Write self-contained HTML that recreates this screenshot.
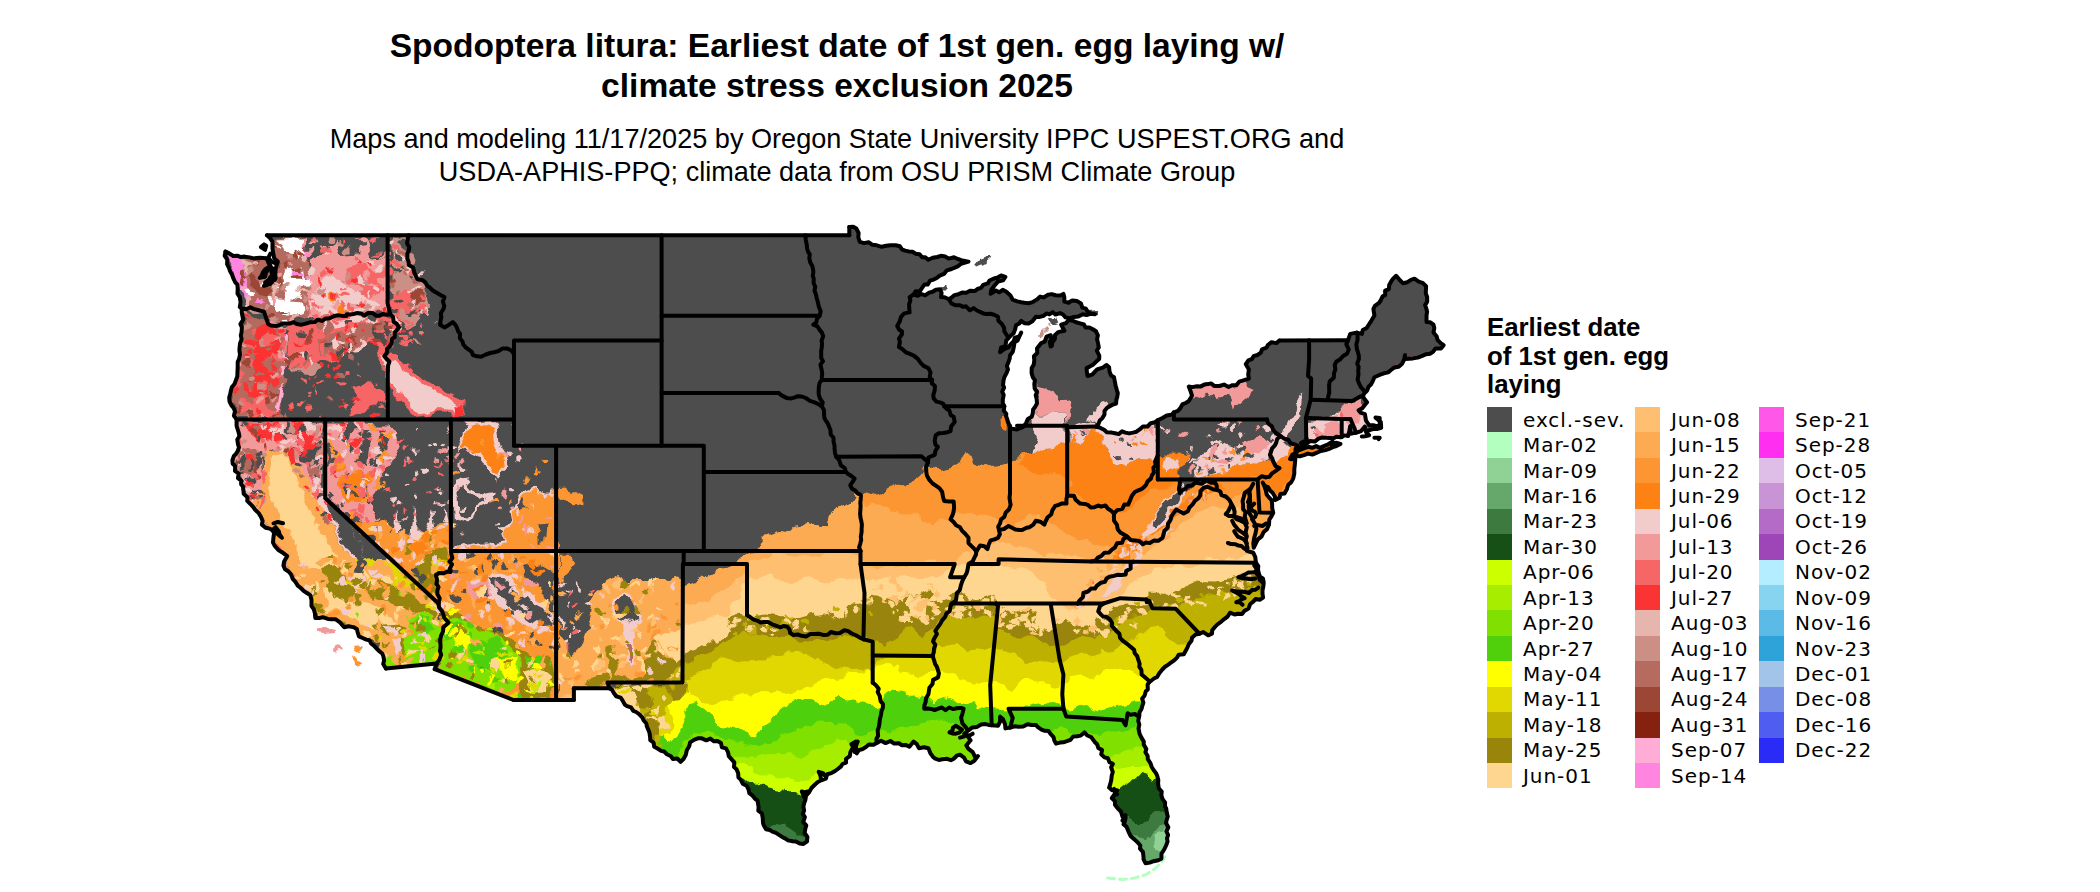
<!DOCTYPE html><html><head><meta charset="utf-8"><title>Spodoptera litura</title>
<style>html,body{margin:0;padding:0;background:#fff}body{width:2100px;height:892px;overflow:hidden;position:relative;font-family:"Liberation Sans",sans-serif}svg{position:absolute;left:0;top:0}</style></head><body>
<svg width="2100" height="892" viewBox="0 0 2100 892">
<defs><clipPath id="us"><polygon points="225.5,251.6 240.8,257.1 253.5,258.4 259.8,257.7 266.6,258.2 269.3,264.2 271.4,272.1 273.5,280.0 264.0,285.8 270.4,284.0 275.6,278.7 275.6,269.5 277.8,261.6 273.5,255.0 272.5,248.5 272.5,241.9 267.0,235.3 849.3,235.3 849.3,227.1 856.3,228.5 859.8,241.9 876.7,245.3 886.2,245.8 895.7,245.3 905.2,250.6 915.7,253.7 928.4,259.8 941.0,255.8 957.9,259.0 968.5,261.6 951.6,269.0 936.8,277.9 922.1,287.9 913.6,294.5 917.8,295.8 932.6,291.8 940.0,289.2 941.0,297.1 949.0,299.2 962.1,292.6 974.8,291.1 981.1,287.9 989.5,280.5 1001.1,275.5 1005.4,276.9 994.8,285.3 990.6,293.7 995.9,290.5 1006.4,291.8 1012.7,299.7 1028.6,303.2 1040.2,296.6 1063.4,293.9 1064.4,301.6 1077.1,301.1 1082.3,307.6 1095.0,314.2 1086.6,315.0 1069.7,318.1 1052.8,312.1 1035.9,316.8 1028.6,323.4 1021.2,320.8 1008.5,337.9 1000.1,352.3 1010.6,344.4 1021.2,332.6 1013.8,347.1 1009.6,358.9 1006.4,373.4 1002.2,391.8 1004.3,406.2 1008.5,423.3 1010.6,428.6 1017.0,429.4 1023.3,426.8 1031.7,416.8 1037.0,403.6 1037.0,391.8 1032.8,377.3 1031.7,368.1 1037.0,348.4 1041.2,343.1 1050.7,335.2 1050.7,346.5 1054.9,335.2 1058.1,332.1 1064.4,330.8 1061.2,324.7 1068.6,320.0 1080.2,323.4 1096.0,331.3 1097.1,339.2 1099.2,358.9 1086.6,368.1 1087.6,376.0 1097.1,369.4 1106.6,365.0 1114.0,377.3 1117.8,393.1 1116.1,403.6 1104.5,411.0 1102.4,418.1 1096.0,426.8 1111.9,432.6 1133.0,432.6 1157.8,420.2 1166.7,415.5 1173.9,412.3 1188.8,401.0 1192.0,395.7 1188.8,386.5 1211.0,383.4 1219.4,386.0 1236.3,385.2 1242.6,380.7 1248.9,378.6 1248.9,369.4 1245.8,364.2 1257.4,355.0 1267.9,345.0 1279.5,340.5 1348.1,340.2 1350.2,333.9 1356.5,332.6 1361.8,333.9 1362.8,330.0 1371.3,320.8 1374.4,315.5 1373.4,308.9 1378.7,303.2 1396.2,275.8 1399.7,280.0 1402.9,283.2 1414.5,278.7 1426.1,286.1 1426.5,315.5 1426.5,322.1 1433.5,324.7 1433.5,332.6 1436.7,336.6 1443.6,345.2 1430.3,353.7 1417.7,357.6 1405.0,358.9 1405.0,355.0 1398.7,366.8 1383.9,373.4 1374.4,377.3 1367.1,390.5 1362.8,396.5 1367.1,402.3 1358.6,410.2 1364.9,414.1 1366.0,420.7 1369.2,425.2 1379.7,424.7 1379.7,418.1 1375.5,417.6 1380.8,422.0 1381.2,427.8 1373.4,429.1 1366.0,432.0 1364.9,426.5 1356.5,432.6 1350.2,433.9 1350.2,426.0 1348.1,436.0 1340.5,437.3 1318.5,438.6 1302.7,445.7 1297.5,449.6 1295.3,453.6 1290.1,458.9 1295.3,459.6 1294.3,469.4 1293.2,478.6 1286.9,489.1 1275.3,500.1 1270.0,490.4 1262.7,482.5 1265.8,490.4 1272.1,503.6 1273.2,512.8 1269.0,524.6 1261.6,536.4 1253.8,547.7 1253.2,552.7 1255.9,562.7 1263.7,582.5 1263.1,597.5 1253.2,601.7 1242.0,614.0 1230.0,612.7 1217.3,624.5 1212.0,633.7 1199.4,633.7 1192.0,637.7 1185.7,650.8 1170.9,662.7 1159.3,673.2 1154.0,678.5 1149.8,681.6 1144.6,695.5 1139.3,716.1 1139.3,724.5 1141.4,737.6 1147.7,756.0 1157.2,775.8 1161.4,795.5 1167.8,816.5 1166.1,845.5 1161.4,858.6 1149.8,862.6 1145.6,863.3 1140.3,845.5 1130.8,836.3 1126.6,827.0 1122.4,816.5 1115.0,804.7 1111.9,798.1 1117.1,790.2 1109.1,787.6 1112.9,763.9 1104.5,757.4 1097.1,744.2 1084.4,732.4 1077.1,736.3 1056.0,743.7 1048.6,731.1 1031.7,725.0 1014.9,726.3 1010.2,727.6 1005.4,728.4 1000.1,716.6 998.0,725.8 991.7,725.3 981.1,724.5 968.5,730.3 964.2,733.7 970.6,740.3 966.3,745.5 975.8,758.7 977.9,756.0 970.6,763.1 960.0,754.7 953.7,758.7 938.9,760.0 930.5,753.4 928.4,748.2 918.9,748.2 913.6,741.6 909.4,746.8 890.4,741.0 876.7,742.9 866.2,746.8 856.7,753.4 857.7,741.6 852.5,748.2 846.1,762.6 831.4,773.1 814.5,785.0 806.1,795.5 802.9,813.9 807.1,840.2 807.1,841.3 799.7,843.6 785.0,838.4 766.0,829.2 758.6,807.3 757.6,800.8 740.7,779.7 736.5,769.2 728.0,752.1 717.5,741.0 698.5,738.2 690.1,742.4 685.8,754.7 680.6,761.8 666.9,754.2 654.2,746.8 643.7,720.5 631.0,707.4 616.2,696.3 609.5,688.2 573.9,688.2 573.9,700.0 513.5,700.0 434.7,669.2 436.6,663.5 385.9,668.5 383.2,664.0 382.2,653.5 369.5,640.3 359.0,636.4 356.8,629.0 344.2,627.2 340.0,622.4 331.5,619.3 315.3,618.0 311.5,606.1 311.5,599.6 306.9,593.0 297.8,585.6 285.1,569.3 284.1,561.4 287.2,556.2 282.0,552.2 274.6,545.6 272.5,530.4 261.9,524.6 260.9,516.7 247.2,500.9 232.4,460.2 237.7,451.0 238.7,432.6 236.6,426.0 236.6,419.4 229.2,397.6 234.5,383.9 237.7,366.8 239.4,350.2 241.9,327.4 241.9,308.9 239.8,307.1 239.8,297.1 237.7,289.2 233.5,278.7 227.1,264.2"/><polygon points="1294.5,456.2 1300.6,456.2 1316.4,452.8 1329.1,448.9 1340.5,443.9 1331.2,444.4 1332.7,441.5 1323.8,446.2 1312.2,447.8 1301.7,449.1 1297.5,451.0"/></clipPath>
<filter id="rough" x="0" y="0" width="2100" height="892" filterUnits="userSpaceOnUse"><feTurbulence type="fractalNoise" baseFrequency="0.06" numOctaves="3" seed="7" result="n"/><feDisplacementMap in="SourceGraphic" in2="n" scale="14" xChannelSelector="R" yChannelSelector="G"/></filter>
</defs>
<g clip-path="url(#us)"><g filter="url(#rough)">
<rect x="150" y="150" width="1400" height="800" fill="#4d4d4d"/>
<polygon fill="#FC9633" points="683.5,587.0 697.0,581.4 710.4,574.7 726.1,568.0 737.3,563.5 741.8,556.8 758.6,550.0 760.9,541.1 766.5,534.3 777.7,531.0 788.9,532.1 795.6,524.3 809.1,522.0 824.8,525.4 827.0,514.2 838.2,508.6 851.7,503.0 858.4,491.7 874.1,495.1 889.8,489.5 903.2,483.9 918.9,476.1 925.7,464.8 929.1,467.4 940.4,469.7 960.5,465.2 966.1,454.0 976.2,461.8 989.7,466.3 1008.7,464.1 1014.3,459.6 1032.3,455.1 1043.5,449.5 1057.0,447.3 1065.9,442.8 1070.4,445.0 1079.4,443.9 1090.6,430.4 1102.9,434.9 1109.6,456.2 1115.2,465.2 1126.5,464.1 1137.7,460.7 1153.4,461.8 1155.6,455.1 1160.1,454.0 1159.4,451.6 1178.5,451.6 1189.7,453.8 1185.2,465.0 1178.5,471.7 1178.5,489.7 1189.7,487.4 1198.7,474.0 1203.1,476.2 1221.1,471.7 1239.0,462.8 1257.0,465.0 1272.6,458.3 1277.1,456.1 1292.8,448.2 1301.8,444.8 1324.2,433.6 1520.0,433.6 1520.0,900.0 683.0,900.0"/>
<polygon fill="#FC8214" points="1032.3,455.1 1043.5,449.5 1057.0,447.3 1065.9,442.8 1070.4,445.0 1079.4,443.9 1090.6,430.4 1102.9,434.9 1109.6,456.2 1115.2,465.2 1126.5,464.1 1137.7,460.7 1153.4,461.8 1155.6,455.1 1160.1,454.0 1178.0,454.0 1178.0,478.7 1169.1,485.4 1155.6,485.4 1146.6,496.6 1133.2,505.6 1119.7,514.5 1108.5,505.6 1092.8,505.6 1079.4,496.6 1070.4,492.1 1065.9,476.4 1057.0,469.7 1043.5,474.2 1025.6,469.7 1016.6,463.0"/>
<polygon fill="#FC8214" points="1159.4,451.6 1178.5,451.6 1189.7,453.8 1185.2,465.0 1178.5,471.7 1178.5,477.4 1159.4,477.4"/>
<polygon fill="#FC8214" points="1194.2,477.4 1203.1,476.2 1221.1,471.7 1239.0,462.8 1257.0,465.0 1272.6,458.3 1277.1,456.1 1292.8,448.2 1297.3,453.8 1292.8,474.0 1279.4,494.2 1270.4,489.7 1261.4,478.5"/>
<polygon fill="#FC8214" points="1100.0,561.4 1126.9,543.5 1156.1,525.6 1178.5,507.6 1200.9,489.7 1216.6,483.0 1225.6,487.4 1207.6,500.9 1185.2,521.1 1158.3,543.5 1133.6,561.4 1113.5,577.1 1100.0,588.3"/>
<polygon fill="#FC8214" points="1146.6,540.0 1124.2,560.2 1101.8,584.8 1083.9,605.0 1070.4,614.0 1079.4,598.3 1097.3,575.9 1115.2,553.5 1130.9,540.0"/>
<polygon fill="#FCAB52" points="683.5,587.0 697.0,581.4 710.4,574.7 726.1,568.0 737.3,563.5 741.8,556.8 758.6,550.0 760.9,541.1 766.5,534.3 777.7,531.0 788.9,532.1 795.6,524.3 809.1,522.0 824.8,525.4 827.0,514.2 838.2,508.6 851.7,503.0 858.4,491.7 860.6,494.0 862.9,509.7 880.8,507.4 899.9,511.9 917.9,514.5 933.6,523.5 956.1,514.5 974.0,512.3 994.2,516.8 1003.1,528.0 1016.6,523.5 1034.5,514.5 1052.5,523.5 1070.4,537.0 1090.6,541.4 1113.0,550.4 1124.2,559.4 1124.7,559.2 1144.8,543.5 1174.0,521.1 1196.4,500.9 1216.6,494.2 1234.5,498.7 1243.5,494.2 1257.0,507.6 1270.4,516.6 1279.4,525.6 1301.8,525.6 1520.0,525.6 1520.0,900.0 683.0,900.0"/>
<polygon fill="#FFBF70" points="683.5,606.1 710.4,599.4 741.8,577.0 748.5,563.5 764.2,556.8 786.6,554.5 809.1,556.8 831.5,554.5 860.6,554.5 862.9,565.7 887.5,568.0 910.0,565.7 900.0,562.7 953.8,562.7 967.3,550.4 976.2,545.9 998.7,541.4 1016.6,545.9 1034.5,550.4 1057.0,554.9 1079.4,557.1 1092.8,559.4 1115.2,561.6 1133.2,566.1 1113.5,577.1 1133.6,561.4 1158.3,543.5 1185.2,521.1 1207.6,505.4 1225.6,505.4 1239.0,512.1 1248.0,525.6 1257.0,534.5 1270.4,543.5 1301.8,543.5 1520.0,543.5 1520.0,900.0 683.0,900.0"/>
<polygon fill="#FFD68F" points="683.5,624.8 697.0,622.6 710.4,615.9 728.3,613.6 748.5,577.0 764.2,574.7 786.6,581.4 809.1,577.0 831.5,581.4 860.6,577.0 862.9,581.4 887.5,577.0 910.0,581.4 900.0,579.2 922.4,575.9 944.8,573.6 956.1,566.9 967.3,564.7 998.7,564.7 1016.6,569.1 1034.5,573.6 1043.5,584.8 1052.5,598.3 1057.0,603.9 1070.4,614.0 1083.9,607.3 1101.8,605.0 1115.2,598.3 1128.7,584.8 1146.6,573.6 1169.1,566.9 1191.5,564.7 1213.9,560.2 1236.3,557.9 1281.2,553.5 1520.0,553.5 1520.0,900.0 683.0,900.0"/>
<polygon fill="#998509" points="683.5,654.0 697.0,649.5 705.9,639.4 719.4,641.7 726.1,636.1 730.6,624.8 726.1,615.9 741.8,614.8 755.2,619.2 764.2,613.6 782.2,615.9 797.8,619.2 809.1,617.0 829.2,613.6 840.4,619.2 853.9,602.4 862.9,602.4 871.8,593.5 889.8,597.9 900.0,598.3 913.5,596.1 929.1,591.6 944.8,598.3 956.1,593.8 974.0,600.5 994.2,593.8 998.7,606.1 1016.6,611.7 1034.5,609.5 1043.5,629.7 1057.0,625.2 1065.9,618.5 1079.4,627.4 1090.6,620.7 1101.8,618.5 1108.5,614.0 1115.2,607.3 1124.2,606.1 1137.7,605.0 1146.6,603.9 1148.9,593.8 1169.1,593.8 1187.0,584.8 1191.5,580.4 1213.9,581.5 1236.3,578.1 1281.2,573.6 1520.0,573.6 1520.0,900.0 683.0,900.0"/>
<polygon fill="#BDB000" points="683.5,664.1 701.4,656.2 714.9,647.3 730.6,640.5 746.3,633.8 764.2,636.1 786.6,638.3 809.1,640.5 824.8,642.8 838.2,636.1 853.9,633.8 871.8,642.8 885.3,647.3 900.0,634.2 911.2,629.7 922.4,634.2 935.9,625.2 951.6,614.0 967.3,618.5 994.2,614.0 1000.9,629.7 1016.6,636.4 1034.5,636.4 1048.0,647.6 1061.4,645.4 1079.4,636.4 1092.8,638.7 1113.0,629.7 1124.2,618.5 1146.6,614.0 1153.4,607.3 1175.8,609.5 1191.5,600.5 1213.9,593.8 1236.3,591.6 1281.2,589.3 1520.0,589.3 1520.0,900.0 683.0,900.0"/>
<polygon fill="#E0D800" points="650.0,741.4 652.1,741.4 656.6,723.5 661.1,705.6 665.6,689.9 683.5,680.9 697.0,671.9 710.4,669.7 719.4,658.5 741.8,658.5 764.2,656.2 786.6,654.0 809.1,651.7 822.5,658.5 831.5,667.4 853.9,669.7 871.8,669.7 876.3,658.5 898.7,657.4 900.0,658.8 933.6,656.6 938.1,645.4 956.1,643.1 967.3,652.1 978.5,649.9 994.2,647.6 1012.1,654.3 1025.6,663.3 1043.5,658.8 1057.0,665.6 1070.4,656.6 1090.6,652.1 1113.0,649.9 1124.2,645.4 1142.2,629.7 1160.1,627.4 1169.1,638.7 1182.5,645.4 1213.9,645.4 1281.2,645.4 1520.0,645.4 1520.0,900.0 650.0,900.0"/>
<polygon fill="#FFFF00" points="655.0,745.9 656.6,745.9 665.6,734.7 672.3,723.5 670.0,710.0 672.3,696.6 683.5,694.3 697.0,698.8 714.9,705.6 730.6,701.1 741.8,694.3 764.2,692.1 786.6,689.9 809.1,685.4 831.5,678.7 853.9,674.2 871.8,669.7 876.3,663.0 898.7,665.2 900.0,672.3 922.4,674.5 940.4,667.8 956.1,674.5 974.0,683.5 994.2,681.3 1012.1,688.0 1034.5,679.0 1052.5,685.7 1065.9,683.5 1079.4,676.8 1101.8,674.5 1113.0,670.0 1135.4,672.3 1146.6,676.8 1191.5,676.8 1281.2,676.8 1520.0,676.8 1520.0,900.0 655.0,900.0"/>
<polygon fill="#4FD00A" points="658.8,752.6 670.0,743.7 679.0,732.5 685.7,719.0 683.5,710.0 697.0,703.3 705.9,714.5 719.4,723.5 730.6,728.0 755.2,737.0 764.2,723.5 775.4,714.5 786.6,705.6 797.8,698.8 820.3,703.3 838.2,698.8 853.9,701.1 871.8,705.6 880.8,701.1 894.3,689.9 898.7,689.9 900.0,692.5 913.5,694.7 926.9,701.4 944.8,697.0 956.1,701.4 978.5,705.9 1000.9,708.2 1016.6,710.4 1034.5,705.9 1057.0,703.7 1070.4,710.4 1083.9,703.7 1101.8,710.4 1115.2,705.9 1135.4,701.4 1191.5,701.4 1281.2,701.4 1520.0,701.4 1520.0,900.0 658.0,900.0"/>
<polygon fill="#80E000" points="670.0,759.4 674.5,759.4 683.5,745.9 692.5,737.0 692.5,734.7 708.2,732.5 730.6,737.0 753.0,745.9 775.4,737.0 797.8,728.0 820.3,723.5 842.7,725.7 865.1,734.7 878.6,732.5 898.7,728.0 900.0,726.1 922.4,723.9 944.8,719.4 965.0,726.1 989.7,732.8 1012.1,737.3 1034.5,739.6 1057.0,728.3 1079.4,732.8 1101.8,735.1 1089.7,736.8 1107.6,732.4 1125.6,730.1 1139.0,725.6 1201.8,725.6 1520.0,725.6 1520.0,900.0 670.0,900.0"/>
<polygon fill="#A6ED00" points="700.0,742.4 713.6,742.4 724.8,754.8 742.8,759.3 765.2,757.0 780.9,752.5 796.6,759.3 814.5,750.3 837.0,736.8 850.4,743.6 881.8,750.3 993.9,766.0 1109.9,757.0 1125.6,752.5 1136.8,748.1 1145.7,745.8 1201.8,745.8 1520.0,745.8 1520.0,900.0 700.0,900.0"/>
<polygon fill="#CCFF00" points="700.0,766.0 731.6,766.0 754.0,766.0 769.7,775.0 787.6,779.4 805.6,781.7 819.0,772.7 837.0,777.2 993.9,781.7 1114.3,768.2 1130.0,766.0 1143.5,766.0 1152.5,766.0 1201.8,766.0 1520.0,766.0 1520.0,900.0 700.0,900.0"/>
<polygon fill="#165016" points="700.0,781.7 742.8,781.7 758.5,780.6 769.7,788.4 785.4,791.8 798.8,797.4 837.0,797.4 993.9,797.4 1112.1,791.8 1118.8,790.7 1130.0,781.7 1139.0,772.7 1148.0,775.0 1152.5,781.7 1157.0,779.4 1201.8,779.4 1520.0,779.4 1520.0,900.0 700.0,900.0"/>
<polygon fill="#3C7A3F" points="700.0,831.0 765.2,831.0 769.7,826.5 780.9,824.3 796.6,835.5 837.0,835.5 993.9,835.5 1112.1,822.0 1124.4,817.6 1134.5,822.0 1143.5,822.0 1154.7,813.1 1165.9,808.6 1201.8,808.6 1520.0,808.6 1520.0,900.0 700.0,900.0"/>
<polygon fill="#66A86B" points="1100.0,840.0 1125.6,840.0 1130.0,837.7 1139.0,835.5 1152.5,837.7 1157.0,828.8 1165.9,822.0 1201.8,822.0 1520.0,822.0 1520.0,900.0 1100.0,900.0"/>
<polygon fill="#90D296" points="1154.7,846.7 1157.0,835.5 1165.9,826.5 1170.4,844.5 1161.4,855.7"/>
<polygon fill="#B56B5E" points="239.1,258.6 261.6,256.4 277.3,238.5 306.4,237.3 306.4,258.6 310.9,281.1 306.4,314.7 284.0,323.7 268.3,321.4 266.1,312.4 245.9,308.0 241.4,292.3"/>
<polygon fill="#FF85E0" points="229.1,254.1 243.6,258.6 245.9,281.1 250.4,299.0 245.9,305.7 239.1,292.3 232.4,269.8"/>
<polygon fill="#9C4736" points="248.1,269.8 261.6,281.1 277.3,292.3 266.1,299.0 252.6,287.8"/>
<polygon fill="#ffffff" points="277.3,239.6 304.2,238.5 305.3,251.9 295.2,256.4 284.0,249.7"/>
<polygon fill="#ffffff" points="286.2,269.8 301.9,267.6 304.2,292.3 299.7,299.0 288.5,296.7 284.0,283.3"/>
<polygon fill="#ffffff" points="275.0,299.0 299.7,301.2 301.9,312.4 284.0,314.7 275.0,308.0"/>
<polygon fill="#4d4d4d" points="306.4,238.5 322.1,238.5 317.6,256.4 308.7,269.8 304.2,254.1"/>
<polygon fill="#F29999" points="308.7,258.6 326.6,254.1 335.6,238.5 340.0,254.1 362.5,251.9 367.0,238.5 371.4,254.1 387.1,258.6 388.3,312.4 349.0,313.6 317.6,319.2 306.4,314.7 310.9,281.1"/>
<polygon fill="#F2CBCB" points="315.4,287.8 335.6,274.3 349.0,290.0 367.0,299.0 380.4,305.7 367.0,312.4 344.5,313.6 322.1,314.7 310.9,303.5"/>
<polygon fill="#F76666" points="344.5,269.8 362.5,265.4 378.2,269.8 382.6,292.3 373.7,299.0 358.0,296.7 346.8,285.5"/>
<polygon fill="#FC8214" points="327.7,295.6 334.4,294.5 347.9,310.2 342.3,311.3 332.2,301.2"/>
<polygon fill="#CC8F85" points="391.6,238.5 407.3,238.5 411.8,263.1 420.8,278.8 425.2,299.0 434.2,310.2 420.8,314.7 407.3,328.1 400.6,319.2 391.6,314.7"/>
<polygon fill="#F76666" points="391.6,292.3 411.8,290.0 420.8,301.2 411.8,310.2 391.6,310.2"/>
<polygon fill="#9C4736" points="411.8,292.3 423.0,292.3 424.1,303.5 414.0,305.7"/>
<polygon fill="#B56B5E" points="243.6,310.2 268.3,323.7 284.0,325.9 288.5,337.1 286.2,370.7 279.5,417.8 234.7,417.8 231.3,397.6 239.1,359.5 243.6,325.9"/>
<polygon fill="#FA3333" points="254.8,328.1 272.8,325.9 277.3,350.6 272.8,370.7 266.1,390.9 268.3,413.3 245.9,415.6 248.1,382.0 257.1,359.5"/>
<polygon fill="#F76666" points="239.1,399.9 266.1,395.4 275.0,417.8 236.9,417.8"/>
<polygon fill="#FFADD6" points="284.0,330.4 288.5,330.4 286.2,368.5 279.5,411.1 276.1,411.1 281.7,368.5"/>
<polygon fill="#F76666" points="288.5,325.9 317.6,319.2 349.0,313.6 388.3,312.4 398.3,319.2 400.6,330.4 389.4,346.1 384.9,359.5 375.9,346.1 367.0,341.6 353.5,350.6 335.6,359.5 317.6,361.8 299.7,368.5 288.5,359.5"/>
<polygon fill="#B56B5E" points="317.6,337.1 335.6,332.6 353.5,330.4 367.0,323.7 380.4,319.2 389.4,323.7 384.9,332.6 367.0,337.1 353.5,346.1 335.6,355.0 322.1,352.8"/>
<polygon fill="#F2CBCB" points="322.1,321.4 349.0,316.9 367.0,316.9 362.5,323.7 335.6,328.1 319.9,330.4"/>
<polygon fill="#4d4d4d" points="371.4,325.9 389.4,321.4 393.9,337.1 382.6,346.1 373.7,337.1"/>
<polygon fill="#F76666" points="353.5,386.4 367.0,382.0 380.4,390.9 387.1,399.9 375.9,404.4 362.5,413.3 349.0,415.6 358.0,399.9"/>
<polygon fill="#CC8F85" points="288.5,359.5 299.7,368.5 317.6,361.8 322.1,368.5 308.7,373.0 295.2,370.7"/>
<polygon fill="#F76666" points="378.2,348.3 398.3,355.0 414.0,373.0 436.5,386.4 465.6,399.9 463.4,415.6 438.7,413.3 416.3,416.7 398.3,399.9 387.1,382.0 380.4,364.0"/>
<polygon fill="#F2CBCB" points="382.6,355.0 396.1,359.5 411.8,377.5 434.2,390.9 456.6,402.1 454.4,411.1 438.7,410.0 418.5,412.2 402.8,397.6 391.6,382.0 384.9,366.3"/>
<polygon fill="#FA3333" points="454.4,404.4 464.5,402.1 462.9,414.5 455.5,415.6"/>
<polygon fill="#F29999" points="239.1,422.3 324.3,422.3 324.3,497.4 335.6,510.9 326.6,522.1 315.4,508.7 304.2,484.0 286.2,454.8 272.8,448.1 261.6,461.6 266.1,484.0 263.8,504.2 250.4,499.7 243.6,477.3 234.7,459.3 239.1,443.6"/>
<polygon fill="#4d4d4d" points="284.0,423.5 304.2,425.7 308.7,439.1 295.2,434.7 284.0,430.2"/>
<polygon fill="#4d4d4d" points="297.4,450.4 317.6,443.6 322.1,461.6 308.7,466.1 299.7,459.3"/>
<polygon fill="#B56B5E" points="236.9,450.4 254.8,448.1 261.6,461.6 254.8,472.8 243.6,472.8"/>
<polygon fill="#B56B5E" points="306.4,466.1 322.1,468.3 322.1,479.5 310.9,479.5"/>
<polygon fill="#FA3333" points="295.2,432.4 315.4,434.7 308.7,448.1 295.2,443.6"/>
<polygon fill="#FA3333" points="245.9,423.5 277.3,423.5 272.8,436.9 254.8,441.4"/>
<polygon fill="#F29999" points="243.6,477.3 254.8,504.2 266.1,526.6 281.7,549.0 286.2,567.0 299.7,589.4 308.7,610.0 295.2,610.0 286.2,580.4 284.0,555.7 266.1,535.6 259.3,515.4 248.1,499.7"/>
<polygon fill="#F2CBCB" points="304.2,484.0 315.4,484.0 326.6,499.7 344.5,517.6 358.0,540.0 367.0,567.0 367.0,580.4 362.5,582.6 349.0,558.0 335.6,531.1 322.1,508.7"/>
<polygon fill="#FCAB52" points="266.1,452.6 284.0,445.9 299.7,466.1 310.9,484.0 322.1,508.7 335.6,531.1 349.0,558.0 362.5,582.6 371.4,598.3 367.0,610.0 308.7,610.0 299.7,589.4 286.2,567.0 281.7,549.0 266.1,526.6 254.8,504.2 261.6,484.0 263.8,466.1"/>
<polygon fill="#FFD68F" points="272.8,454.8 281.7,452.6 293.0,472.8 304.2,493.0 313.1,515.4 324.3,535.6 337.8,562.5 349.0,587.1 353.5,602.8 335.6,610.0 317.6,602.8 308.7,580.4 299.7,553.5 288.5,535.6 279.5,513.1 270.5,495.2 268.3,472.8"/>
<polygon fill="#998509" points="317.6,564.7 331.1,555.7 335.6,567.0 331.1,580.4 344.5,589.4 353.5,600.6 344.5,605.1 331.1,596.1 319.9,580.4"/>
<polygon fill="#4d4d4d" points="326.6,499.7 344.5,517.6 358.0,540.0 367.0,567.0 364.7,575.9 355.7,562.5 346.8,546.8 335.6,526.6"/>
<polygon fill="#F29999" points="327.7,423.5 389.4,423.5 400.6,443.6 389.4,466.1 380.4,484.0 371.4,504.2 380.4,517.6 367.0,526.6 353.5,517.6 335.6,504.2 327.7,497.4"/>
<polygon fill="#4d4d4d" points="362.5,427.9 371.4,427.9 367.0,466.1 360.2,463.8"/>
<polygon fill="#4d4d4d" points="380.4,432.4 389.4,434.7 380.4,468.3 373.7,466.1"/>
<polygon fill="#4d4d4d" points="344.5,423.5 353.5,423.5 349.0,441.4 342.3,439.1"/>
<polygon fill="#FC8214" points="342.3,475.0 362.5,472.8 375.9,470.5 367.0,484.0 371.4,499.7 358.0,504.2 344.5,499.7 337.8,486.2"/>
<polygon fill="#FC8214" points="331.1,452.6 337.8,450.4 344.5,466.1 335.6,472.8"/>
<polygon fill="#F2CBCB" points="393.9,531.1 396.1,508.7 400.6,531.1"/>
<polygon fill="#F2CBCB" points="411.8,535.6 414.0,504.2 418.5,533.3"/>
<polygon fill="#F2CBCB" points="425.2,528.8 432.0,508.7 434.2,526.6"/>
<polygon fill="#F2CBCB" points="440.9,524.3 445.4,508.7 447.7,524.3"/>
<polygon fill="#FC9633" points="353.5,524.3 367.0,522.1 382.6,519.9 396.1,531.1 411.8,535.6 425.2,528.8 443.2,524.3 451.0,526.6 451.0,580.4 438.7,575.9 436.5,602.8 402.8,571.4 375.9,544.5"/>
<polygon fill="#998509" points="425.2,553.5 438.7,549.0 451.0,553.5 451.0,578.2 438.7,575.9 436.5,600.6 420.8,584.9 411.8,571.4"/>
<polygon fill="#E0D800" points="429.7,562.5 445.4,560.2 449.9,571.4 436.5,573.7"/>
<polygon fill="#F2CBCB" points="469.3,422.4 485.0,420.2 496.2,424.7 499.6,444.8 507.4,467.3 498.5,478.5 489.5,465.0 473.8,458.3 464.8,447.1 453.6,454.9 459.2,440.4 463.7,430.3"/>
<polygon fill="#FC8214" points="471.6,425.8 482.8,423.5 492.9,428.0 496.2,444.8 503.0,467.3 498.5,474.0 491.7,461.7 485.0,457.2 473.8,454.9 466.0,443.7 457.0,451.6 461.5,440.4 466.0,431.4"/>
<polygon fill="#F2CBCB" points="453.6,480.7 464.8,478.5 478.3,494.2 494.0,489.7 491.7,500.9 478.3,507.6 469.3,525.6 455.9,521.1"/>
<polygon fill="#4d4d4d" points="459.2,485.2 464.8,484.1 476.1,498.7 487.3,496.4 485.0,500.9 476.1,504.3 467.1,521.1 460.4,516.6"/>
<polygon fill="#F2CBCB" points="554.5,487.4 545.6,496.4 536.6,487.4 525.4,491.9 516.4,505.4 507.4,509.9 509.7,523.3 500.7,530.0 505.2,541.3 494.0,543.5 473.8,543.5 453.6,548.0 453.6,552.5 556.8,552.5"/>
<polygon fill="#FC9633" points="554.5,489.7 545.6,498.7 536.6,489.7 527.6,494.2 518.7,507.6 509.7,512.1 511.9,525.6 503.0,532.3 507.4,543.5 494.0,545.7 473.8,545.7 453.6,550.2 453.6,552.5 556.8,552.5"/>
<polygon fill="#4d4d4d" points="536.6,525.6 545.6,524.4 544.4,539.0 537.7,540.1"/>
<polygon fill="#4d4d4d" points="518.7,505.4 525.4,500.9 527.6,509.9 520.9,512.1"/>
<polygon fill="#FC9633" points="554.5,489.7 563.5,488.6 577.0,494.2 585.9,503.1 574.7,504.3 563.5,500.9 556.8,498.7"/>
<polygon fill="#FC9633" points="557.9,554.7 574.7,554.7 577.0,561.4 570.2,574.9 563.5,581.6 557.9,574.9"/>
<polygon fill="#FC9633" points="440.6,575.7 451.8,551.0 557.2,551.0 557.2,701.3 514.6,701.3 436.1,669.9 440.6,658.7 436.1,647.4 447.3,625.0 438.3,604.8"/>
<polygon fill="#F2CBCB" points="483.2,575.7 503.4,575.7 521.3,589.1 539.2,600.4 552.7,609.3 553.8,631.7 528.0,626.1 505.6,610.4 492.2,598.1"/>
<polygon fill="#F29999" points="465.2,580.2 487.7,580.2 492.2,598.1 474.2,600.4"/>
<polygon fill="#4d4d4d" points="525.8,566.7 539.2,564.5 554.9,573.5 556.1,611.6 548.2,604.8 539.2,586.9 525.8,577.9"/>
<polygon fill="#4d4d4d" points="487.7,577.9 503.4,580.2 519.1,593.6 537.0,604.8 550.4,611.6 550.4,627.3 530.3,620.5 507.8,604.8 496.6,593.6"/>
<polygon fill="#4d4d4d" points="489.9,560.0 498.9,560.0 494.4,571.2"/>
<polygon fill="#998509" points="447.3,604.8 465.2,618.3 483.2,627.3 501.1,629.5 519.1,645.2 532.5,658.7 550.4,658.7 554.9,672.1 550.4,699.0 519.1,700.1 521.3,681.1 514.6,658.7 496.6,634.0 474.2,636.2 465.2,627.3 451.8,622.8 442.8,616.1"/>
<polygon fill="#FFD68F" points="525.8,672.1 539.2,667.6 550.4,676.6 546.0,690.0 532.5,692.3"/>
<polygon fill="#80E000" points="440.6,625.0 449.6,619.4 465.2,622.8 485.4,631.7 501.1,638.5 512.3,649.7 519.1,660.9 521.3,681.1 503.4,694.5 437.2,668.7 440.6,658.7 436.1,647.4"/>
<polygon fill="#4FD00A" points="445.1,627.3 456.3,625.0 454.0,638.5 445.1,640.7"/>
<polygon fill="#4FD00A" points="469.7,645.2 496.6,636.2 507.8,654.2 496.6,667.6 478.7,676.6 474.2,658.7"/>
<polygon fill="#FFFF00" points="456.3,627.3 469.7,629.5 474.2,640.7 465.2,649.7 454.0,645.2"/>
<polygon fill="#FFFF00" points="498.9,660.9 514.6,658.7 519.1,678.8 503.4,681.1"/>
<polygon fill="#FCAB52" points="284.8,560.0 393.5,560.0 438.3,600.4 440.6,616.1 447.3,625.0 436.1,647.4 440.6,658.7 436.1,666.5 386.8,669.9 375.6,645.2 346.4,627.3 315.0,613.8 310.5,595.9 294.8,577.9"/>
<polygon fill="#FFD68F" points="324.0,589.1 350.9,598.1 375.6,609.3 393.5,618.3 384.5,627.3 366.6,625.0 346.4,616.1 326.2,604.8"/>
<polygon fill="#FFD68F" points="301.6,560.0 344.2,560.0 339.7,573.5 324.0,569.0 308.3,569.0"/>
<polygon fill="#998509" points="324.0,566.7 339.7,564.5 346.4,577.9 355.4,593.6 346.4,602.6 335.2,598.1 328.5,582.4"/>
<polygon fill="#998509" points="366.6,582.4 384.5,580.2 402.5,591.4 420.4,600.4 436.1,604.8 438.3,618.3 424.9,613.8 407.0,611.6 393.5,604.8 375.6,598.1"/>
<polygon fill="#E0D800" points="384.5,562.2 393.5,564.5 411.4,586.9 407.0,591.4 393.5,575.7"/>
<polygon fill="#998509" points="375.6,622.8 393.5,620.5 407.0,627.3 398.0,645.2 384.5,634.0"/>
<polygon fill="#80E000" points="407.0,616.1 424.9,613.8 438.3,618.3 445.1,625.0 436.1,647.4 439.5,658.7 436.1,665.4 407.0,667.6 398.0,649.7 411.4,636.2"/>
<polygon fill="#4FD00A" points="413.7,618.3 429.4,618.3 433.9,631.7 420.4,634.0"/>
<polygon fill="#F2CBCB" points="348.7,573.5 362.1,573.5 366.6,586.9 355.4,593.6"/>
<polygon fill="#F2CBCB" points="337.4,604.8 350.9,607.1 353.1,613.8 339.7,613.8"/>
<polygon fill="#F2CBCB" points="384.5,622.8 395.7,625.0 404.7,649.7 393.5,654.2 389.0,636.2"/>
<polygon fill="#4d4d4d" points="353.1,560.0 366.6,560.0 364.3,573.5 355.4,571.2"/>
<polygon fill="#FCAB52" points="557.9,636.1 573.6,654.0 584.8,642.8 596.1,602.4 607.3,584.5 618.5,580.0 683.5,580.0 683.5,683.1 607.3,684.3 607.3,687.6 575.9,688.7 574.8,700.0 557.9,700.0"/>
<polygon fill="#FCAB52" points="684.6,582.7 673.4,577.1 657.7,581.6 648.7,588.3 635.2,590.6 621.8,579.4 615.1,574.9 608.3,579.4 599.4,590.6 590.4,600.0 590.4,606.3 684.6,606.3"/>
<polygon fill="#FCAB52" points="595.3,593.6 608.7,580.2 617.7,582.4 608.7,604.8 599.8,627.3 586.3,638.5 590.8,616.1"/>
<polygon fill="#F2CBCB" points="612.9,597.9 626.3,592.3 637.5,603.5 639.8,618.1 626.3,626.0 611.7,618.1"/>
<polygon fill="#4d4d4d" points="616.2,600.2 625.2,595.7 634.2,604.7 636.4,615.9 625.2,622.6 614.0,615.9"/>
<polygon fill="#F2CBCB" points="623.0,622.6 634.2,622.6 635.3,647.3 631.9,667.4 625.2,665.2 624.1,642.8"/>
<polygon fill="#B56B5E" points="626.3,645.0 631.9,645.0 630.8,665.2 627.0,663.0"/>
<polygon fill="#FFD68F" points="661.1,636.1 683.5,624.8 683.5,656.2 674.5,663.0 665.6,654.0"/>
<polygon fill="#FFD68F" points="638.7,665.2 656.6,638.3 665.6,654.0 661.1,674.2 647.6,678.7"/>
<polygon fill="#998509" points="647.6,647.3 656.6,638.3 661.1,654.0 674.5,663.0 683.5,656.2 683.5,683.1 607.3,684.3 611.7,674.2 629.7,678.7 640.9,674.2"/>
<polygon fill="#998509" points="607.3,647.3 614.0,645.0 618.5,665.2 611.7,676.4 607.3,669.7"/>
<polygon fill="#BDB000" points="665.6,674.2 683.5,665.2 683.5,683.1 661.1,683.1"/>
<polygon fill="#998509" points="584.8,678.7 607.3,674.2 607.3,684.3 584.8,685.4"/>
<polygon fill="#998509" points="607.3,686.5 683.5,684.3 683.5,696.6 660.0,701.1 660.0,759.4 649.9,745.9 645.4,723.5 629.7,707.8 616.2,694.3"/>
<polygon fill="#FFD68F" points="614.0,687.6 629.7,686.5 638.7,705.6 643.1,714.5 636.4,714.5 625.2,701.1"/>
<polygon fill="#BDB000" points="647.6,687.6 665.6,687.6 674.5,696.6 665.6,714.5 656.6,723.5 649.9,714.5 652.1,701.1"/>
<polygon fill="#FFD68F" points="656.6,716.8 663.3,716.8 665.6,728.0 658.8,730.2"/>
<polygon fill="#4FD00A" points="654.3,741.4 665.6,737.0 679.0,750.4 674.5,759.4 661.1,752.6"/>
<polygon fill="#F2CBCB" points="1032.3,413.6 1065.9,413.6 1067.0,443.9 1057.0,447.3 1043.5,449.5 1032.3,455.1 1036.8,438.3 1034.5,430.4 1031.2,424.8"/>
<polygon fill="#F29999" points="1035.7,384.5 1043.5,386.7 1057.0,393.5 1061.4,400.2 1070.4,399.1 1068.2,422.6 1065.9,413.6 1032.3,413.6 1034.5,404.7 1037.9,397.9"/>
<polygon fill="#4d4d4d" points="1057.0,393.5 1061.4,400.2 1070.4,399.1 1071.5,389.0"/>
<polygon fill="#F2CBCB" points="1086.1,422.6 1092.8,411.4 1101.8,402.4 1110.8,400.2 1108.5,409.1 1099.6,422.6 1090.6,424.8"/>
<polygon fill="#F2CBCB" points="1070.4,426.0 1095.1,424.8 1101.8,428.2 1115.2,434.9 1133.2,431.6 1146.6,424.8 1155.6,428.2 1155.6,455.1 1153.4,461.8 1137.7,460.7 1126.5,464.1 1115.2,465.2 1109.6,456.2 1102.9,434.9 1090.6,430.4 1079.4,443.9 1070.4,445.0"/>
<polygon fill="#FC8214" points="1002.0,415.9 1007.6,418.1 1007.6,429.3 1003.1,428.2"/>
<polygon fill="#F2CBCB" points="1104.5,438.1 1122.4,433.6 1153.8,422.4 1156.1,456.1 1138.1,458.3 1124.7,465.0 1111.2,462.8"/>
<polygon fill="#4d4d4d" points="1160.1,421.3 1267.0,421.3 1272.6,429.1 1261.4,444.8 1243.5,451.6 1225.6,444.8 1205.4,449.3 1194.2,465.0 1183.0,474.0 1189.7,453.8 1178.5,451.6 1160.1,451.6"/>
<polygon fill="#F2CBCB" points="1194.2,465.0 1205.4,449.3 1225.6,444.8 1243.5,451.6 1261.4,444.8 1272.6,440.4 1270.4,458.3 1257.0,465.0 1239.0,462.8 1221.1,471.7 1203.1,476.2 1194.2,477.4 1185.2,477.4"/>
<polygon fill="#F29999" points="1243.5,442.6 1261.4,438.1 1270.4,444.8 1257.0,453.8 1245.7,451.6"/>
<polygon fill="#4d4d4d" points="1178.5,467.3 1194.2,462.8 1198.7,474.0 1189.7,487.4 1180.7,494.2 1178.5,478.5"/>
<polygon fill="#F2CBCB" points="1167.3,496.4 1183.0,483.0 1186.3,486.3 1178.5,507.6 1167.3,518.8 1154.9,532.3 1140.4,541.3 1142.6,531.2 1150.4,520.0 1157.2,511.0"/>
<polygon fill="#4d4d4d" points="1169.5,496.4 1183.0,485.2 1176.2,505.4 1165.0,516.6 1153.8,527.8 1151.6,521.1 1158.3,512.1"/>
<polygon fill="#F2CBCB" points="1270.4,433.6 1279.4,435.9 1292.8,447.1 1288.3,456.1 1272.6,458.3 1270.4,444.8"/>
<polygon fill="#F2CBCB" points="1162.8,453.8 1176.2,456.1 1178.5,467.3 1167.3,474.0 1161.7,467.3"/>
<polygon fill="#F29999" points="1189.7,384.4 1212.1,383.3 1225.6,387.8 1243.5,382.2 1254.7,390.0 1243.5,399.0 1234.5,408.0 1227.8,394.5 1216.6,399.0 1207.6,392.3 1194.2,399.0 1189.7,392.3"/>
<polygon fill="#F2CBCB" points="1297.3,399.0 1302.9,394.5 1301.8,412.5 1295.1,425.9 1288.3,434.9 1286.1,450.6 1279.4,439.4 1286.1,421.4 1295.1,414.7"/>
<polygon fill="#F2CBCB" points="1306.3,425.9 1315.2,423.7 1324.2,414.7 1337.7,414.7 1346.6,405.7 1360.1,399.0 1366.8,405.7 1369.1,421.4 1364.6,434.9 1346.6,439.4 1324.2,441.6 1306.3,446.1"/>
<polygon fill="#F29999" points="1337.7,414.7 1346.6,405.7 1360.1,399.0 1366.8,405.7 1357.8,417.0 1346.6,421.4"/>
<polygon fill="#F29999" points="1324.2,423.7 1337.7,421.4 1339.9,434.9 1326.5,437.1"/>
<polygon fill="#FC8214" points="1292.8,446.1 1301.8,443.9 1324.2,441.6 1342.2,443.9 1301.8,460.0 1290.6,460.0"/>
<polygon fill="#9C4736" points="1391.5,367.6 1402.7,360.9 1413.9,358.7 1411.7,364.3 1396.0,372.1"/>
<polygon fill="#F2CBCB" points="1101.8,596.1 1115.2,578.1 1130.9,560.2 1142.2,549.0 1145.5,551.2 1133.2,569.1 1117.5,584.8 1106.3,599.4"/>
<polygon fill="#F29999" points="266.9,286.7 267.1,283.5 272.7,282.9 276.1,284.7 277.4,287.8 270.2,288.3"/>
<polygon fill="#CC8F85" points="286.6,286.8 287.6,291.2 286.2,294.0 285.0,291.6 285.2,288.8"/>
<polygon fill="#9C4736" points="271.1,257.3 274.4,258.2 275.0,265.1 270.6,267.3 266.9,261.2"/>
<polygon fill="#F29999" points="304.0,244.8 304.1,241.1 305.0,236.9 306.7,239.1 307.2,241.2 306.7,245.1 305.6,246.2"/>
<polygon fill="#CC8F85" points="274.0,319.0 276.5,315.8 279.0,321.7 277.8,325.8 274.7,328.6 272.6,323.0"/>
<polygon fill="#9C4736" points="255.8,256.8 258.6,259.6 256.3,263.3 253.1,263.3 249.8,259.7 252.6,256.0"/>
<polygon fill="#F29999" points="306.0,309.8 302.6,309.5 302.3,307.4 304.4,305.9 306.8,307.3"/>
<polygon fill="#CC8F85" points="250.8,308.2 255.6,306.2 261.0,307.2 261.8,308.8 259.9,309.9 254.6,309.9"/>
<polygon fill="#CC8F85" points="253.8,271.4 251.0,273.6 248.6,269.4 250.7,265.0 253.5,266.7"/>
<polygon fill="#F29999" points="276.9,301.7 273.2,303.0 270.1,300.9 272.5,298.1 276.5,298.3"/>
<polygon fill="#CC8F85" points="289.3,271.0 286.2,271.4 284.1,270.3 285.7,268.4 287.9,268.9"/>
<polygon fill="#E6B5AD" points="247.2,311.2 245.7,306.8 244.9,301.2 247.3,297.3 249.0,301.6 248.7,307.6"/>
<polygon fill="#9C4736" points="291.9,253.3 293.8,251.5 295.8,254.3 294.1,256.5 291.7,256.1"/>
<polygon fill="#9C4736" points="296.3,272.3 295.6,270.8 294.1,269.4 298.6,268.0 301.8,268.6 301.8,270.7 300.9,271.7"/>
<polygon fill="#E6B5AD" points="239.2,291.3 241.2,289.0 243.9,289.1 246.8,291.1 244.5,292.9 242.5,294.1 238.7,293.2"/>
<polygon fill="#CC8F85" points="287.5,258.9 287.3,256.1 287.8,254.2 290.9,254.4 292.0,255.7 291.2,258.7 289.5,260.2"/>
<polygon fill="#ffffff" points="278.8,303.5 280.3,305.6 279.3,307.1 277.0,307.5 275.0,306.6 275.6,304.2 277.2,303.5"/>
<polygon fill="#ffffff" points="308.6,281.3 306.2,284.3 303.2,285.8 299.7,283.2 300.0,279.8 304.4,279.1"/>
<polygon fill="#ffffff" points="307.3,284.9 306.8,280.5 309.8,278.1 311.8,282.8 309.1,286.1"/>
<polygon fill="#9C4736" points="271.7,320.3 267.3,318.7 268.7,314.9 272.5,312.9 277.1,315.7 276.1,318.3"/>
<polygon fill="#FF85E0" points="261.5,300.9 259.2,301.3 256.4,300.5 257.2,298.7 260.0,298.4 262.0,299.0"/>
<polygon fill="#E6B5AD" points="277.0,286.2 278.4,286.2 280.2,287.0 279.5,289.0 278.6,289.5 277.1,289.8 275.5,288.2"/>
<polygon fill="#CC8F85" points="251.4,274.2 247.1,275.5 243.5,272.2 246.3,268.5 252.3,270.2"/>
<polygon fill="#9C4736" points="240.0,285.3 240.4,282.5 242.1,280.7 243.4,282.5 243.5,285.9 242.6,288.6 240.6,287.7"/>
<polygon fill="#9C4736" points="296.4,254.0 294.2,252.8 297.9,251.0 301.5,250.6 305.3,252.2 302.9,254.0 300.3,255.3"/>
<polygon fill="#CC8F85" points="307.0,304.4 303.5,304.7 301.7,302.3 301.6,298.9 305.4,296.6 309.2,300.5"/>
<polygon fill="#9C4736" points="288.0,271.3 286.1,270.0 284.7,267.6 285.6,264.0 287.0,261.4 288.9,262.7 289.5,267.4"/>
<polygon fill="#9C4736" points="280.3,275.5 281.8,280.7 281.3,285.5 278.0,286.9 275.1,285.0 275.7,278.7 277.8,275.2"/>
<polygon fill="#ffffff" points="273.8,289.3 275.3,287.2 278.1,285.8 279.6,288.6 278.5,290.8 276.1,291.7"/>
<polygon fill="#9C4736" points="273.5,280.8 270.0,286.8 267.5,281.0 268.6,273.8 271.3,272.1"/>
<polygon fill="#ffffff" points="273.6,249.5 274.0,247.0 275.8,246.3 278.8,246.5 280.6,247.9 279.2,249.9 276.4,250.2"/>
<polygon fill="#CC8F85" points="287.6,290.1 285.5,287.6 285.4,284.4 287.8,282.8 289.4,283.8 290.6,285.9 290.5,290.0"/>
<polygon fill="#CC8F85" points="277.1,293.6 275.4,291.3 277.7,288.5 280.6,289.0 281.2,292.3 279.6,293.9"/>
<polygon fill="#ffffff" points="286.2,320.7 289.3,321.7 289.3,323.3 287.4,324.5 283.8,324.3 281.5,322.9 283.6,321.1"/>
<polygon fill="#E6B5AD" points="242.9,266.0 240.2,264.1 241.3,262.0 245.2,260.3 250.1,262.3 250.5,264.4 247.2,265.5"/>
<polygon fill="#9C4736" points="307.0,259.2 304.8,260.6 301.3,260.1 299.6,258.5 302.4,256.8 306.1,256.7"/>
<polygon fill="#E6B5AD" points="274.2,282.3 279.4,282.9 279.3,285.2 276.1,286.0 271.3,284.9"/>
<polygon fill="#FF85E0" points="298.2,270.7 301.1,272.0 301.5,275.7 297.3,277.6 293.4,275.5 294.5,271.4"/>
<polygon fill="#9C4736" points="271.9,282.8 273.9,283.0 275.8,284.4 273.0,285.1 270.7,284.9 269.2,283.8"/>
<polygon fill="#F29999" points="293.3,262.7 294.3,264.5 290.7,264.9 288.4,263.4 290.9,261.9"/>
<polygon fill="#E6B5AD" points="249.9,260.3 253.3,260.3 256.8,261.2 255.3,262.4 251.3,262.9 249.7,261.9"/>
<polygon fill="#E6B5AD" points="267.4,276.9 269.3,281.1 268.2,285.6 266.3,288.8 264.9,284.5 265.6,278.6"/>
<polygon fill="#E6B5AD" points="273.1,291.8 275.2,284.3 277.5,288.1 278.8,293.0 277.4,300.2 274.3,296.3"/>
<polygon fill="#9C4736" points="278.7,312.4 278.9,310.2 282.9,310.1 286.1,311.5 282.0,312.6"/>
<polygon fill="#ffffff" points="254.8,294.6 252.9,296.8 249.2,297.6 245.3,296.0 242.5,294.3 247.5,292.5 251.2,292.9"/>
<polygon fill="#F29999" points="291.6,315.2 294.0,314.3 296.2,318.2 295.4,322.8 293.1,323.1 291.2,323.1 289.2,319.2"/>
<polygon fill="#9C4736" points="242.1,281.8 240.0,280.1 239.9,273.8 243.2,272.2 245.1,278.1"/>
<polygon fill="#E6B5AD" points="303.0,288.6 308.8,289.8 310.5,290.9 309.8,292.4 304.5,293.5 299.2,292.6 299.3,290.5"/>
<polygon fill="#9C4736" points="275.7,263.1 276.7,260.2 278.3,260.5 279.9,261.6 279.1,264.1 278.1,266.5 276.5,265.4"/>
<polygon fill="#ffffff" points="268.8,299.9 270.2,297.8 273.2,298.4 273.7,299.9 273.4,302.1 271.5,302.5 268.8,301.3"/>
<polygon fill="#9C4736" points="300.5,278.6 296.5,278.8 293.3,277.3 294.0,276.0 296.4,275.0 299.6,275.0 300.3,276.5"/>
<polygon fill="#ffffff" points="288.6,303.6 291.3,302.2 294.2,304.2 294.3,307.3 290.5,307.8 288.2,306.5"/>
<polygon fill="#ffffff" points="261.9,287.4 260.7,281.7 262.4,278.4 264.6,280.7 263.9,285.2"/>
<polygon fill="#CC8F85" points="272.1,249.3 268.2,248.2 269.3,243.5 272.9,241.3 275.8,243.0 277.7,247.1 274.9,250.8"/>
<polygon fill="#E6B5AD" points="302.5,289.4 299.5,289.2 300.2,285.6 302.3,284.7 304.0,284.8 304.5,288.6"/>
<polygon fill="#FF85E0" points="310.6,276.9 313.0,278.5 310.0,280.0 307.1,279.6 306.2,277.9 307.9,275.9"/>
<polygon fill="#E6B5AD" points="248.5,298.3 251.1,300.4 247.5,301.6 244.7,301.7 244.1,299.6 245.9,297.8"/>
<polygon fill="#CC8F85" points="256.8,304.1 259.5,303.5 261.7,306.5 260.1,310.2 256.7,309.2"/>
<polygon fill="#F29999" points="276.9,275.9 273.0,274.1 275.4,270.9 280.0,272.3 282.2,275.0"/>
<polygon fill="#E6B5AD" points="295.5,313.0 298.1,315.1 297.8,317.1 294.2,317.7 291.8,316.5 292.7,314.0"/>
<polygon fill="#CC8F85" points="291.1,301.1 288.5,301.4 287.4,299.5 289.2,298.3 291.1,297.6 293.1,298.8 292.7,300.8"/>
<polygon fill="#CC8F85" points="286.5,290.2 284.2,291.4 282.4,289.2 282.8,285.1 284.5,284.0 286.7,283.8 289.2,287.5"/>
<polygon fill="#CC8F85" points="264.1,276.4 264.2,280.5 261.7,284.3 260.5,280.5 258.9,276.5 260.9,273.1 262.9,274.0"/>
<polygon fill="#ffffff" points="288.4,303.5 285.4,304.0 284.5,298.8 285.2,294.5 288.8,294.6 291.8,298.0 290.8,302.3"/>
<polygon fill="#FF85E0" points="302.1,254.5 301.5,251.1 306.3,250.3 310.0,252.3 307.5,255.2"/>
<polygon fill="#E6B5AD" points="286.7,314.1 286.5,309.9 287.9,308.1 289.3,309.9 288.9,313.2 287.9,316.0"/>
<polygon fill="#CC8F85" points="268.1,303.8 265.8,307.0 261.4,305.4 263.2,300.8 266.2,300.9"/>
<polygon fill="#9C4736" points="274.2,249.4 274.1,247.1 276.2,246.8 277.9,247.5 278.6,249.4 275.9,250.9"/>
<polygon fill="#E6B5AD" points="248.8,270.8 246.7,276.6 244.8,271.6 244.8,265.8 247.8,264.1"/>
<polygon fill="#E6B5AD" points="302.2,253.0 304.7,257.6 302.4,261.4 298.8,259.9 299.0,255.0"/>
<polygon fill="#F76666" points="341.1,297.8 340.4,294.8 346.2,294.7 351.4,295.8 347.4,298.0"/>
<polygon fill="#F2CBCB" points="312.5,306.0 314.4,306.5 313.5,307.8 311.3,308.5 309.3,308.1 307.9,306.7 309.8,305.5"/>
<polygon fill="#CC8F85" points="349.8,286.8 350.3,285.3 350.9,283.9 353.4,284.8 354.0,285.9 353.7,287.0 351.5,287.5"/>
<polygon fill="#F29999" points="354.4,301.7 355.6,303.2 354.9,304.7 352.3,304.9 350.7,303.5 352.2,301.7"/>
<polygon fill="#F76666" points="365.0,289.0 362.1,287.1 362.9,284.9 366.3,283.5 369.5,285.9 367.7,288.5"/>
<polygon fill="#F29999" points="316.2,304.0 322.5,303.8 327.0,305.7 322.2,307.0 316.7,306.3"/>
<polygon fill="#F76666" points="337.1,300.4 334.2,301.2 332.5,299.2 333.5,296.4 335.1,294.2 337.5,296.2 338.7,298.3"/>
<polygon fill="#F2CBCB" points="320.0,282.6 323.1,282.3 326.0,282.8 325.8,284.0 323.7,285.0 321.2,284.4 319.4,283.8"/>
<polygon fill="#F76666" points="349.7,300.8 352.3,303.1 352.0,306.8 349.3,308.7 347.8,304.8"/>
<polygon fill="#FA3333" points="332.6,295.4 334.8,296.9 334.0,299.3 332.0,300.1 331.5,297.7"/>
<polygon fill="#F76666" points="331.0,272.8 327.8,277.8 323.8,278.3 322.5,272.2 326.2,269.4"/>
<polygon fill="#F76666" points="341.6,305.6 342.2,304.1 344.7,303.3 346.3,304.8 344.5,306.4"/>
<polygon fill="#FA3333" points="360.3,265.3 357.6,266.4 355.6,265.0 354.5,262.2 357.5,261.1 359.5,260.8 362.2,263.2"/>
<polygon fill="#F76666" points="351.6,269.7 354.1,267.7 358.5,268.2 362.6,269.5 359.6,271.4 354.6,271.8"/>
<polygon fill="#F2CBCB" points="369.5,308.4 373.9,309.2 371.3,311.4 366.6,311.6 365.1,309.1"/>
<polygon fill="#F76666" points="356.6,262.5 354.8,263.1 353.9,259.2 353.9,254.1 356.5,255.2 358.8,257.0 357.9,260.9"/>
<polygon fill="#F2CBCB" points="360.5,283.4 360.7,280.2 361.0,276.2 363.1,277.8 364.3,279.1 364.4,283.2 362.5,285.9"/>
<polygon fill="#F29999" points="356.3,294.3 352.2,293.4 351.1,291.5 350.3,288.5 356.1,287.7 359.3,290.2 361.3,292.6"/>
<polygon fill="#F29999" points="328.7,263.9 331.4,264.1 332.9,265.8 329.4,266.8 326.7,266.0 326.9,264.6"/>
<polygon fill="#F76666" points="352.5,305.2 355.6,305.9 354.7,310.4 352.7,312.7 350.2,310.3 350.2,305.7"/>
<polygon fill="#FA3333" points="382.5,293.5 382.2,291.3 383.1,290.1 384.5,290.1 385.2,291.7 384.5,294.0 383.6,294.2"/>
<polygon fill="#F76666" points="387.6,299.9 386.4,298.8 386.3,296.2 387.2,294.3 388.3,295.2 388.7,298.4"/>
<polygon fill="#F29999" points="365.6,299.9 367.9,301.6 367.2,303.2 365.4,304.9 363.5,304.4 362.7,302.5 363.0,300.7"/>
<polygon fill="#FA3333" points="334.1,271.1 330.8,272.1 329.1,268.6 332.0,267.3 334.4,268.1"/>
<polygon fill="#F29999" points="384.6,289.3 381.8,289.6 380.4,286.9 382.3,284.0 385.3,285.8"/>
<polygon fill="#F2CBCB" points="309.1,276.6 306.7,271.4 309.2,266.9 314.1,268.6 316.6,272.8 313.2,275.0"/>
<polygon fill="#F2CBCB" points="348.4,298.3 346.8,293.8 348.7,289.6 353.8,290.4 352.5,297.1"/>
<polygon fill="#F76666" points="317.9,307.0 313.9,307.6 311.8,306.0 315.5,304.8 318.2,305.7"/>
<polygon fill="#CC8F85" points="364.1,308.8 362.5,305.9 368.4,304.3 372.3,306.3 370.9,308.7 367.3,310.3"/>
<polygon fill="#F76666" points="385.4,273.8 378.3,275.2 373.0,272.6 377.7,269.1 382.7,268.8 388.3,271.3"/>
<polygon fill="#F76666" points="339.7,311.8 344.8,311.4 346.7,313.6 342.8,314.9 337.6,313.8"/>
<polygon fill="#F2CBCB" points="359.5,286.6 358.1,284.0 359.0,278.9 361.7,278.0 363.6,281.1 363.6,284.9 362.9,287.8"/>
<polygon fill="#CC8F85" points="340.6,276.7 342.5,276.7 344.8,277.7 344.0,279.3 342.4,280.6 340.4,279.3 338.1,278.2"/>
<polygon fill="#F29999" points="354.3,259.1 359.1,261.2 357.3,263.6 350.2,264.7 343.3,262.6 346.8,260.5"/>
<polygon fill="#CC8F85" points="307.7,306.6 311.4,306.9 312.0,308.1 310.1,309.5 307.9,308.6"/>
<polygon fill="#F29999" points="374.3,284.0 381.0,286.2 374.7,288.3 367.3,287.6 367.5,285.2"/>
<polygon fill="#FA3333" points="358.2,278.9 359.0,283.7 353.3,284.2 350.8,282.0 352.0,278.5"/>
<polygon fill="#F2CBCB" points="328.6,313.4 331.0,315.8 326.2,316.7 320.2,316.8 320.6,313.8 323.8,312.5"/>
<polygon fill="#F76666" points="378.1,270.9 381.7,272.5 381.3,274.0 377.7,274.7 375.0,273.9 375.3,272.3"/>
<polygon fill="#F2CBCB" points="330.0,255.7 329.8,256.8 327.9,257.9 325.7,256.6 325.9,255.2 327.4,254.6 329.5,254.8"/>
<polygon fill="#F76666" points="383.9,293.3 380.6,293.0 378.9,288.7 381.7,284.4 383.9,287.2"/>
<polygon fill="#FA3333" points="319.0,284.7 318.4,279.4 319.7,275.9 321.8,278.1 321.3,283.2"/>
<polygon fill="#F2CBCB" points="377.4,293.8 375.2,293.9 372.9,291.9 374.7,287.6 377.2,287.7 379.3,289.7"/>
<polygon fill="#CC8F85" points="325.5,287.4 325.4,290.3 322.7,292.8 315.6,291.2 315.3,289.0 318.9,286.3"/>
<polygon fill="#F76666" points="318.2,314.8 318.5,318.4 314.1,319.8 312.0,316.8 312.0,313.7 315.9,313.2"/>
<polygon fill="#F76666" points="307.3,304.7 309.0,305.1 309.8,307.0 309.6,312.3 308.1,312.5 306.7,310.1"/>
<polygon fill="#F29999" points="329.8,259.4 330.7,257.5 333.0,257.7 334.7,258.2 335.2,259.9 333.1,261.1 331.0,260.9"/>
<polygon fill="#F76666" points="338.7,298.0 340.2,296.3 342.4,295.8 343.9,297.2 343.9,298.3 341.2,299.0"/>
<polygon fill="#FA3333" points="383.7,308.5 385.1,307.8 386.9,308.2 387.5,312.9 385.7,316.0 383.9,316.2 383.8,313.0"/>
<polygon fill="#F2CBCB" points="340.8,301.6 341.2,305.0 334.2,305.7 328.8,303.4 334.8,300.2"/>
<polygon fill="#F76666" points="311.6,301.4 314.9,302.1 313.5,304.0 310.4,303.7 308.8,302.0"/>
<polygon fill="#F76666" points="388.4,268.8 381.4,268.0 380.4,265.3 383.1,263.3 387.5,261.9 392.0,265.7"/>
<polygon fill="#FA3333" points="324.4,292.5 324.7,293.9 323.5,295.0 321.8,295.3 319.8,294.1 320.6,293.1 322.3,292.0"/>
<polygon fill="#F76666" points="339.3,288.8 343.3,289.6 344.5,291.2 341.0,292.1 337.9,292.4 337.3,290.1"/>
<polygon fill="#FA3333" points="371.0,265.5 369.0,263.1 370.4,258.6 372.1,257.3 374.1,257.4 374.4,263.0 373.0,265.0"/>
<polygon fill="#F76666" points="346.0,316.8 344.3,314.8 343.2,312.4 344.4,308.6 346.0,308.8 347.3,310.8 347.0,314.0"/>
<polygon fill="#CC8F85" points="365.4,279.3 369.1,279.6 368.9,283.5 368.8,286.1 365.0,285.7 361.6,284.3 363.9,281.8"/>
<polygon fill="#F76666" points="384.1,267.8 380.7,269.7 376.9,268.4 378.6,264.6 382.7,265.0"/>
<polygon fill="#CC8F85" points="353.7,275.5 349.2,276.9 344.8,276.8 344.1,273.9 347.3,273.0 350.4,273.2"/>
<polygon fill="#F29999" points="363.1,306.5 359.8,308.6 355.4,308.5 353.2,306.7 355.1,305.5 359.5,305.2"/>
<polygon fill="#CC8F85" points="311.7,286.9 311.3,290.1 309.9,289.4 309.3,287.5 309.7,284.7 311.1,283.8"/>
<polygon fill="#F76666" points="353.6,278.7 352.5,275.2 356.4,273.5 360.4,274.3 359.3,277.5 357.7,279.1"/>
<polygon fill="#CC8F85" points="367.6,313.3 364.9,313.1 363.4,311.4 365.7,309.8 367.8,309.3 369.2,310.8 370.3,312.2"/>
<polygon fill="#F76666" points="380.7,272.2 386.3,269.9 390.7,271.6 391.2,274.3 386.9,276.0 380.8,275.0"/>
<polygon fill="#F29999" points="309.9,278.0 311.0,276.5 313.0,275.3 314.0,277.1 314.1,278.6 311.9,279.1"/>
<polygon fill="#F76666" points="333.9,312.3 335.0,315.5 332.6,318.8 330.9,317.5 329.2,314.4 330.2,311.0 332.3,310.5"/>
<polygon fill="#F76666" points="350.5,306.2 349.9,309.8 348.1,309.9 346.6,307.4 348.3,305.0"/>
<polygon fill="#F2CBCB" points="368.9,261.6 369.1,259.7 373.3,257.6 376.6,258.8 376.8,261.6 374.7,263.8 372.1,262.8"/>
<polygon fill="#F29999" points="365.5,279.1 363.7,275.8 363.3,271.3 367.2,269.3 370.8,273.1 369.7,278.6"/>
<polygon fill="#F29999" points="385.9,262.0 388.6,263.7 386.2,265.4 382.4,265.4 381.0,263.2 383.6,261.7"/>
<polygon fill="#F2CBCB" points="370.0,297.8 368.1,298.3 367.1,296.4 368.0,294.5 369.8,295.5"/>
<polygon fill="#F2CBCB" points="328.2,310.8 324.7,314.7 321.8,309.1 323.3,304.5 327.0,300.4 329.5,306.8"/>
<polygon fill="#F2CBCB" points="310.1,302.8 311.8,304.4 312.3,307.5 310.3,309.0 308.8,306.6"/>
<polygon fill="#F29999" points="338.4,303.7 337.4,305.5 334.2,305.9 330.4,304.7 332.4,302.7 336.4,301.7"/>
<polygon fill="#F29999" points="353.8,287.5 354.1,290.9 348.9,291.3 344.4,290.5 344.7,288.0 348.5,285.4"/>
<polygon fill="#F76666" points="359.6,303.9 358.4,304.4 357.0,302.9 357.6,300.1 358.9,299.5 360.7,301.1"/>
<polygon fill="#F2CBCB" points="377.5,290.1 375.8,291.2 373.9,291.1 373.5,289.8 373.7,287.4 375.1,286.6 376.4,288.0"/>
<polygon fill="#F2CBCB" points="377.3,268.7 376.0,266.2 378.5,264.7 382.0,263.7 383.9,266.2 381.1,268.4"/>
<polygon fill="#FA3333" points="363.9,302.6 365.8,304.6 361.6,306.1 354.8,305.1 355.4,303.2 359.6,302.2"/>
<polygon fill="#F76666" points="363.3,268.5 361.1,266.8 361.0,265.2 363.0,263.2 367.7,263.7 368.1,266.0 366.9,268.0"/>
<polygon fill="#F76666" points="324.0,249.7 329.5,250.6 332.7,253.3 327.3,254.4 322.4,253.4"/>
<polygon fill="#F76666" points="376.9,237.1 378.2,240.0 376.6,243.1 371.2,242.7 368.9,240.3 371.3,238.3"/>
<polygon fill="#F29999" points="357.3,250.5 359.6,247.6 364.7,247.6 366.4,250.5 362.5,252.6"/>
<polygon fill="#F76666" points="376.2,251.3 379.8,251.7 380.5,252.4 380.4,253.8 376.9,253.8 373.8,252.8"/>
<polygon fill="#F29999" points="334.8,251.8 336.6,251.2 338.7,251.7 339.2,253.2 337.7,254.6 335.8,254.1 334.7,253.4"/>
<polygon fill="#F29999" points="389.0,255.1 387.7,257.0 383.8,257.2 380.1,256.2 381.4,254.2 383.6,252.3 388.4,253.4"/>
<polygon fill="#CC8F85" points="330.1,234.6 332.5,237.6 331.9,241.4 329.1,241.6 328.0,238.5"/>
<polygon fill="#F76666" points="342.6,237.5 344.6,238.6 345.3,240.7 343.6,241.3 342.1,240.3"/>
<polygon fill="#F29999" points="332.7,247.4 330.3,247.8 329.1,246.3 330.4,245.0 333.0,245.1"/>
<polygon fill="#F29999" points="358.7,243.2 355.0,239.2 361.2,236.3 366.9,239.2 365.4,243.2"/>
<polygon fill="#F76666" points="312.0,240.6 315.1,238.8 317.1,238.1 317.8,242.1 316.8,245.8 313.4,243.8"/>
<polygon fill="#CC8F85" points="382.4,239.2 381.7,240.4 379.8,240.7 378.6,239.3 379.6,237.3 381.8,237.7"/>
<polygon fill="#CC8F85" points="334.3,242.3 337.0,239.7 339.4,239.1 342.1,240.5 342.8,242.0 342.0,243.9 337.2,243.1"/>
<polygon fill="#F29999" points="311.3,250.7 307.3,252.6 304.3,250.3 303.2,248.2 307.3,247.4 312.0,246.7 313.6,249.2"/>
<polygon fill="#F29999" points="328.3,248.0 328.2,249.4 325.5,250.0 323.4,249.2 322.6,248.1 325.4,247.4"/>
<polygon fill="#CC8F85" points="344.4,249.6 346.0,247.2 348.4,247.0 350.0,250.5 347.9,252.1 344.8,252.4"/>
<polygon fill="#F29999" points="316.1,242.7 314.7,243.7 311.3,244.5 309.2,242.9 310.6,241.5 314.4,241.6"/>
<polygon fill="#CC8F85" points="316.4,241.6 319.0,240.6 322.2,241.6 321.2,242.8 319.7,243.5 316.6,242.8"/>
<polygon fill="#F76666" points="236.9,390.4 234.8,386.7 236.1,381.5 239.0,383.4 240.9,387.4"/>
<polygon fill="#CC8F85" points="248.9,377.4 251.9,376.0 254.7,377.7 255.0,380.2 248.7,380.2"/>
<polygon fill="#F29999" points="233.2,377.9 236.0,375.8 239.6,376.8 240.9,379.6 239.5,381.3 234.6,381.5 232.5,380.0"/>
<polygon fill="#F29999" points="250.4,384.4 252.3,382.0 256.6,382.3 259.1,383.8 258.1,386.8 253.6,385.9"/>
<polygon fill="#FA3333" points="250.0,356.3 250.7,359.8 246.0,360.8 242.4,359.0 243.9,355.4 247.0,354.3"/>
<polygon fill="#CC8F85" points="268.8,340.1 266.0,344.8 263.4,344.9 262.3,341.1 263.3,334.8 266.5,336.9"/>
<polygon fill="#F29999" points="274.8,392.4 275.9,394.6 275.0,397.0 273.4,396.8 271.3,396.1 271.9,394.3 273.2,393.2"/>
<polygon fill="#F76666" points="280.9,332.2 284.3,330.0 286.5,332.1 285.8,335.8 283.1,335.9"/>
<polygon fill="#CC8F85" points="277.0,413.6 280.2,415.5 281.8,417.0 281.2,419.6 277.4,420.9 275.7,419.0 275.4,416.5"/>
<polygon fill="#F29999" points="278.2,341.2 278.6,344.1 276.9,345.1 275.6,344.7 275.1,342.1 276.4,339.7"/>
<polygon fill="#B56B5E" points="256.6,359.0 254.8,362.7 252.7,361.6 252.1,357.3 253.6,354.8 255.4,354.8"/>
<polygon fill="#B56B5E" points="246.6,388.7 250.8,391.7 247.7,397.4 243.1,396.2 242.9,389.7"/>
<polygon fill="#F76666" points="281.6,368.4 283.0,369.7 282.2,370.9 281.0,372.1 279.2,371.1 279.2,370.1 280.0,368.8"/>
<polygon fill="#CC8F85" points="257.0,397.5 260.8,397.4 261.7,399.5 260.3,401.5 257.6,400.5"/>
<polygon fill="#F76666" points="242.4,370.0 242.8,373.8 241.4,377.1 236.2,376.5 232.2,373.3 237.4,369.5"/>
<polygon fill="#F76666" points="277.9,335.9 277.3,332.8 279.4,331.6 282.3,333.1 282.7,334.8 281.9,337.1 279.2,336.5"/>
<polygon fill="#F76666" points="281.6,374.9 285.7,377.0 282.9,380.0 276.9,379.5 274.4,376.2"/>
<polygon fill="#F29999" points="231.0,365.4 235.8,362.5 240.9,363.1 243.8,365.3 238.1,367.2"/>
<polygon fill="#F29999" points="286.4,329.3 281.2,329.2 280.1,327.1 285.6,326.8 289.8,327.8"/>
<polygon fill="#F76666" points="257.6,389.0 250.8,388.6 250.9,386.2 256.1,385.4 262.5,386.6"/>
<polygon fill="#F29999" points="245.8,344.3 248.0,346.2 246.1,347.5 242.9,346.7 242.1,345.1"/>
<polygon fill="#F29999" points="267.3,338.1 271.0,336.3 280.2,336.8 278.1,339.7 271.1,341.0"/>
<polygon fill="#F29999" points="270.7,415.7 269.8,417.8 267.6,417.6 266.6,415.8 268.9,414.4"/>
<polygon fill="#B56B5E" points="268.0,361.2 272.2,362.9 273.0,367.3 269.6,370.8 266.0,369.0 263.8,364.7"/>
<polygon fill="#F76666" points="273.3,337.3 267.0,338.6 264.4,334.6 268.9,331.0 273.6,334.3"/>
<polygon fill="#FA3333" points="270.9,368.5 273.1,365.3 275.5,368.8 274.5,374.5 270.5,373.0"/>
<polygon fill="#FA3333" points="273.5,333.7 271.8,334.6 269.2,332.5 269.6,329.8 270.8,327.4 273.4,327.7 275.6,330.6"/>
<polygon fill="#B56B5E" points="277.0,367.0 275.5,367.4 274.5,364.0 275.0,361.2 277.1,360.9 277.3,363.8"/>
<polygon fill="#B56B5E" points="262.0,415.9 261.5,418.4 259.8,419.3 258.7,417.0 260.2,415.7"/>
<polygon fill="#CC8F85" points="284.8,351.9 285.5,354.2 282.0,355.0 278.6,353.5 280.7,351.3"/>
<polygon fill="#B56B5E" points="255.6,353.5 254.1,352.2 255.4,351.3 258.4,351.0 260.6,352.2 258.2,353.2"/>
<polygon fill="#F76666" points="282.5,350.1 276.9,347.9 279.8,344.5 283.4,342.7 288.5,345.2 287.9,347.5 287.5,350.7"/>
<polygon fill="#F29999" points="272.7,371.8 277.1,372.6 279.3,374.4 277.1,377.4 274.2,378.7 271.6,377.5 268.6,373.8"/>
<polygon fill="#B56B5E" points="244.3,398.4 243.4,397.2 243.5,395.0 245.5,393.7 248.1,393.9 248.6,396.7 246.8,399.3"/>
<polygon fill="#CC8F85" points="249.8,412.7 249.2,419.5 246.9,420.0 246.3,413.5 247.7,408.8"/>
<polygon fill="#F76666" points="241.9,405.9 240.6,406.2 239.8,404.5 240.0,402.0 241.3,401.7 242.4,403.3"/>
<polygon fill="#CC8F85" points="253.1,341.6 255.0,339.6 257.7,340.1 259.6,342.0 257.5,344.0 253.9,343.3"/>
<polygon fill="#FA3333" points="255.7,412.7 256.1,411.3 259.5,410.5 262.3,411.6 260.1,413.2"/>
<polygon fill="#CC8F85" points="245.4,329.9 244.6,325.9 245.8,323.2 248.1,325.1 248.2,328.6"/>
<polygon fill="#9C4736" points="239.8,416.9 237.4,419.1 235.5,419.1 234.2,412.1 236.7,406.7 238.9,410.7"/>
<polygon fill="#B56B5E" points="242.6,369.4 246.5,369.4 248.4,371.0 245.1,371.8 240.3,371.3"/>
<polygon fill="#FA3333" points="280.0,412.6 277.6,414.3 275.7,412.3 276.0,410.1 278.9,409.2 280.5,410.7"/>
<polygon fill="#CC8F85" points="260.8,395.1 257.8,394.4 258.1,392.6 261.1,392.1 264.1,393.6"/>
<polygon fill="#B56B5E" points="261.4,372.1 263.4,373.7 260.3,375.8 257.3,376.5 253.4,374.9 255.3,372.7 257.0,371.2"/>
<polygon fill="#9C4736" points="245.5,415.7 245.4,413.6 252.9,413.0 256.2,415.5 250.1,417.2"/>
<polygon fill="#B56B5E" points="254.9,387.4 249.4,388.2 247.3,383.3 252.7,380.8 256.3,383.2"/>
<polygon fill="#F76666" points="276.9,355.7 279.7,357.4 282.0,360.5 278.5,362.0 273.7,362.8 270.3,360.1 272.4,357.3"/>
<polygon fill="#FA3333" points="257.6,370.7 257.5,367.1 259.5,364.9 262.6,367.5 261.3,371.2"/>
<polygon fill="#B56B5E" points="249.2,368.6 251.9,369.6 253.0,372.6 251.2,376.0 246.8,375.6 244.4,372.2 244.0,369.0"/>
<polygon fill="#F76666" points="253.9,359.2 254.9,362.8 253.4,367.3 250.6,367.6 250.0,362.3 251.5,356.7"/>
<polygon fill="#F76666" points="285.4,360.8 282.4,360.5 280.6,359.0 282.4,357.6 284.9,356.6 287.0,357.7 287.5,360.2"/>
<polygon fill="#FA3333" points="285.5,327.6 285.8,330.5 283.3,332.5 278.8,333.0 276.2,330.8 275.2,327.7 280.8,326.6"/>
<polygon fill="#B56B5E" points="284.9,363.0 285.0,364.2 285.2,365.7 282.3,366.0 280.1,365.9 280.3,363.8 281.5,361.8"/>
<polygon fill="#B56B5E" points="234.0,417.6 230.8,415.3 233.4,414.0 239.1,413.5 245.1,414.2 245.3,417.0 239.0,417.9"/>
<polygon fill="#F29999" points="261.0,416.4 261.4,413.3 264.1,413.4 264.5,416.1 264.1,418.9 261.6,418.8"/>
<polygon fill="#9C4736" points="284.1,364.2 282.5,360.8 285.4,357.5 289.1,358.6 289.5,361.6 287.8,365.2"/>
<polygon fill="#FA3333" points="264.0,406.5 263.8,411.8 260.5,415.6 255.9,410.0 259.8,406.0"/>
<polygon fill="#B56B5E" points="254.6,397.0 253.5,402.4 249.0,406.0 246.4,400.0 248.1,394.1 251.3,394.9"/>
<polygon fill="#F76666" points="243.2,410.7 240.9,411.2 239.9,409.6 240.6,407.7 242.5,407.5 243.9,409.1"/>
<polygon fill="#B56B5E" points="276.0,372.7 269.6,374.3 264.8,372.3 267.2,369.6 274.1,369.8"/>
<polygon fill="#9C4736" points="252.6,414.5 256.4,413.6 259.0,413.7 260.7,415.1 259.9,416.8 256.7,416.5 254.1,416.1"/>
<polygon fill="#F76666" points="267.6,384.9 265.4,388.7 263.9,389.3 262.8,386.6 262.9,381.1 264.3,378.5 265.9,379.7"/>
<polygon fill="#FA3333" points="277.4,347.7 275.3,353.4 272.2,353.5 270.7,348.3 272.6,342.9 275.3,343.5"/>
<polygon fill="#FA3333" points="263.3,372.2 269.0,371.6 271.3,373.4 268.6,375.7 263.5,374.4"/>
<polygon fill="#9C4736" points="278.2,415.4 273.3,415.8 271.1,413.9 273.4,412.4 277.4,412.6"/>
<polygon fill="#FA3333" points="274.5,372.7 274.7,375.1 268.7,375.3 263.1,374.4 265.3,372.4 270.2,371.1"/>
<polygon fill="#CC8F85" points="265.5,387.0 262.5,388.9 256.9,387.7 253.9,386.0 257.4,383.6 261.6,383.2 266.4,384.3"/>
<polygon fill="#F76666" points="269.9,363.1 268.9,363.3 267.8,361.1 267.8,357.4 269.4,357.7 270.5,358.9"/>
<polygon fill="#FA3333" points="279.7,381.6 275.0,382.7 271.8,381.4 269.6,380.1 273.1,379.0 276.8,378.4 279.4,380.0"/>
<polygon fill="#F29999" points="258.8,404.0 257.2,402.8 257.1,400.0 259.7,398.9 262.2,400.6 261.5,403.3"/>
<polygon fill="#F76666" points="270.1,339.2 268.3,342.9 265.7,342.0 265.8,338.6 267.8,336.6"/>
<polygon fill="#B56B5E" points="248.0,316.4 247.1,320.0 243.2,319.1 242.6,314.3 246.2,311.8"/>
<polygon fill="#CC8F85" points="245.5,325.7 248.7,327.8 246.8,333.8 243.9,332.4 243.0,327.7"/>
<polygon fill="#CC8F85" points="244.1,330.7 241.5,329.5 242.7,328.1 244.2,327.7 246.5,327.9 248.2,328.8 246.2,329.9"/>
<polygon fill="#FA3333" points="248.7,340.1 251.1,339.2 252.9,340.4 252.5,342.2 251.5,343.3 249.2,342.8 247.8,341.7"/>
<polygon fill="#FA3333" points="246.4,318.6 243.5,318.6 242.1,316.1 243.7,314.3 247.3,314.6 249.1,315.2 249.4,317.9"/>
<polygon fill="#B56B5E" points="279.9,379.4 281.2,379.8 282.0,381.5 281.9,383.4 280.7,384.2 279.2,383.7 279.1,381.7"/>
<polygon fill="#F29999" points="280.1,351.4 281.7,353.6 278.6,355.1 274.4,353.8 276.3,352.2"/>
<polygon fill="#B56B5E" points="257.7,334.6 261.1,335.2 261.4,336.7 257.7,337.7 255.6,336.6 255.1,335.1"/>
<polygon fill="#FA3333" points="255.0,383.1 258.3,382.9 258.1,386.0 258.0,388.4 255.5,389.8 253.5,388.5 253.4,384.1"/>
<polygon fill="#B56B5E" points="250.6,400.5 250.1,401.9 247.3,402.3 244.4,401.1 245.2,399.5 249.3,399.7"/>
<polygon fill="#F76666" points="263.2,404.5 265.5,406.0 265.8,408.3 263.1,409.6 259.6,409.2 258.6,407.3 259.6,405.0"/>
<polygon fill="#F29999" points="269.8,328.0 269.0,326.0 274.6,324.9 281.8,324.7 284.6,327.2 280.5,329.5 274.5,330.3"/>
<polygon fill="#B56B5E" points="279.1,379.4 285.7,378.0 288.5,380.4 285.9,383.5 279.9,383.0"/>
<polygon fill="#B56B5E" points="249.3,362.1 248.2,361.0 247.7,359.0 250.9,358.8 253.5,360.1 252.5,361.8"/>
<polygon fill="#B56B5E" points="286.4,366.3 284.5,367.4 283.6,365.7 284.1,363.2 285.2,362.8 286.8,364.4"/>
<polygon fill="#FA3333" points="243.3,388.2 243.7,385.5 247.6,384.5 250.5,387.9 246.0,390.7"/>
<polygon fill="#F76666" points="253.5,332.1 250.7,330.9 251.1,329.5 253.8,328.3 254.9,330.3"/>
<polygon fill="#B56B5E" points="280.3,418.5 276.6,419.8 274.1,417.2 274.2,414.1 280.1,413.5 284.2,416.2"/>
<polygon fill="#CC8F85" points="240.7,402.1 241.8,404.7 240.5,407.9 237.5,406.8 236.8,405.2 237.6,402.3"/>
<polygon fill="#9C4736" points="270.9,397.3 271.0,400.7 267.2,401.6 263.3,399.5 266.2,396.6"/>
<polygon fill="#CC8F85" points="254.9,343.7 251.6,346.3 245.4,344.6 246.3,341.9 249.5,339.9 255.9,340.6"/>
<polygon fill="#F76666" points="270.7,406.2 276.2,407.9 277.3,410.7 272.7,412.7 266.5,412.7 268.1,409.1"/>
<polygon fill="#FA3333" points="248.9,354.0 246.6,351.9 248.6,350.0 250.8,348.6 253.2,349.4 255.2,351.6 252.5,354.1"/>
<polygon fill="#F76666" points="235.3,382.6 236.8,377.8 240.2,375.9 240.4,383.7 237.9,387.6"/>
<polygon fill="#F76666" points="252.6,343.1 257.0,344.4 258.3,346.8 251.7,347.4 247.1,346.3 247.2,344.2"/>
<polygon fill="#FA3333" points="236.2,394.7 233.8,393.4 234.2,389.1 236.5,387.8 237.9,391.9"/>
<polygon fill="#F29999" points="246.3,338.0 244.1,339.7 240.9,338.8 240.7,337.8 241.2,336.0 243.0,335.9 245.2,336.9"/>
<polygon fill="#9C4736" points="276.8,390.5 277.4,394.0 271.6,395.4 267.4,393.7 268.5,390.1"/>
<polygon fill="#9C4736" points="249.4,367.1 246.3,366.2 242.5,365.2 242.9,361.9 246.9,360.7 249.9,359.9 252.3,363.6"/>
<polygon fill="#F29999" points="249.9,358.8 248.8,360.5 245.4,361.1 244.0,359.6 243.6,357.9 246.5,358.0"/>
<polygon fill="#CC8F85" points="242.7,314.5 241.1,312.1 245.9,310.3 248.2,313.0 245.7,314.7"/>
<polygon fill="#F29999" points="281.8,353.4 282.8,356.2 281.4,358.8 279.5,358.4 277.9,357.5 277.5,354.6 279.8,352.8"/>
<polygon fill="#B56B5E" points="278.3,328.2 278.9,330.1 277.8,331.5 275.0,332.5 274.2,330.7 273.6,328.9 275.7,327.5"/>
<polygon fill="#FA3333" points="250.7,344.4 246.8,342.3 247.0,340.1 253.5,338.3 259.0,340.4 257.4,343.7"/>
<polygon fill="#CC8F85" points="284.0,345.6 286.5,344.4 287.6,348.3 286.3,353.2 284.1,350.4"/>
<polygon fill="#F76666" points="259.6,415.4 256.2,416.2 253.7,414.3 256.4,412.2 260.4,413.8"/>
<polygon fill="#B56B5E" points="266.9,343.3 269.3,343.0 271.5,343.7 270.5,345.2 268.6,346.1 267.1,345.1"/>
<polygon fill="#B56B5E" points="265.8,350.2 266.4,347.0 267.4,346.9 268.7,348.8 268.6,351.4 267.7,352.5 266.2,351.7"/>
<polygon fill="#F76666" points="266.5,409.3 270.0,407.1 272.1,409.3 272.3,411.7 267.9,412.0"/>
<polygon fill="#F2CBCB" points="375.5,322.5 370.8,323.7 365.1,322.1 367.7,318.9 375.9,319.3"/>
<polygon fill="#9C4736" points="372.5,326.7 373.3,323.3 376.6,321.9 381.2,322.1 383.9,324.7 380.3,328.5 376.8,327.8"/>
<polygon fill="#F76666" points="310.9,365.5 310.6,367.6 306.8,368.6 302.8,366.0 303.3,363.6 307.3,361.8 309.9,363.0"/>
<polygon fill="#F76666" points="385.7,327.5 385.8,330.8 382.9,333.0 378.2,332.2 373.5,329.8 379.7,327.4"/>
<polygon fill="#F2CBCB" points="396.8,319.3 396.8,322.2 395.1,324.5 392.0,323.7 390.6,320.6 393.7,318.1"/>
<polygon fill="#F2CBCB" points="395.6,327.0 396.1,328.9 396.3,330.6 393.3,331.0 390.6,331.2 389.7,328.8 391.3,327.7"/>
<polygon fill="#4d4d4d" points="290.6,330.4 292.5,333.1 288.7,334.8 285.2,332.8 287.3,330.8"/>
<polygon fill="#FA3333" points="353.2,337.6 354.6,341.5 349.6,342.4 345.2,341.3 346.2,337.7 350.3,335.6"/>
<polygon fill="#9C4736" points="303.9,340.1 305.6,342.6 302.1,343.8 298.3,343.3 299.1,340.8"/>
<polygon fill="#F76666" points="376.3,312.9 378.1,315.7 377.6,322.5 374.7,322.0 374.5,316.3"/>
<polygon fill="#4d4d4d" points="334.9,344.3 332.0,345.9 328.0,346.5 324.9,344.4 327.8,342.7 332.7,343.1"/>
<polygon fill="#9C4736" points="334.6,339.5 336.8,335.6 339.9,333.8 342.5,337.2 341.9,340.3 337.9,341.3"/>
<polygon fill="#9C4736" points="341.8,351.1 338.2,349.7 341.3,347.9 345.6,347.4 348.7,348.2 349.8,350.0 347.3,352.3"/>
<polygon fill="#B56B5E" points="331.5,333.6 335.8,333.5 337.0,337.1 333.8,340.5 330.5,339.1 330.1,335.9"/>
<polygon fill="#9C4736" points="308.7,344.5 306.8,343.5 306.7,340.3 309.7,339.2 311.4,342.9"/>
<polygon fill="#F2CBCB" points="353.1,345.5 357.5,345.3 361.8,347.1 361.0,350.3 354.9,350.8 349.6,349.1"/>
<polygon fill="#F2CBCB" points="339.3,356.5 340.5,350.5 342.4,349.9 344.1,354.8 342.2,358.0"/>
<polygon fill="#FA3333" points="349.6,328.0 348.6,329.7 345.1,329.9 343.6,327.5 345.0,324.8 347.4,323.3 350.8,325.1"/>
<polygon fill="#4d4d4d" points="381.8,317.1 375.3,317.8 371.8,315.5 375.0,313.9 379.0,313.0 383.4,313.3 384.1,315.8"/>
<polygon fill="#FA3333" points="312.0,357.0 313.6,357.0 314.5,358.6 314.5,360.8 313.1,361.6 311.7,359.8"/>
<polygon fill="#9C4736" points="295.2,359.2 292.7,361.0 289.1,358.7 288.5,354.3 292.7,353.3 295.4,354.2"/>
<polygon fill="#FA3333" points="337.4,357.5 333.3,359.4 328.9,358.2 330.5,354.0 332.8,350.2 336.5,353.1"/>
<polygon fill="#F2CBCB" points="335.2,337.0 338.0,342.9 336.9,349.5 333.3,348.9 331.4,342.3"/>
<polygon fill="#F2CBCB" points="302.3,357.9 304.0,353.0 308.1,355.6 308.0,360.0 304.6,362.2"/>
<polygon fill="#FA3333" points="319.7,325.8 317.1,324.3 316.8,321.4 318.4,319.9 321.7,320.7 321.5,323.1"/>
<polygon fill="#FA3333" points="378.5,327.9 381.4,328.7 380.7,330.3 376.6,329.9 375.0,328.9"/>
<polygon fill="#FA3333" points="302.1,340.1 307.3,338.1 312.5,341.6 307.3,344.1 301.3,343.3"/>
<polygon fill="#F76666" points="325.7,351.7 323.4,352.0 321.9,344.4 324.1,337.9 326.3,342.0"/>
<polygon fill="#4d4d4d" points="347.8,317.2 350.8,319.7 351.3,324.3 346.9,324.4 344.2,322.9 343.3,319.3"/>
<polygon fill="#FA3333" points="341.9,353.0 342.3,350.4 344.4,348.4 345.9,350.5 346.6,354.0 345.4,356.7 343.0,355.6"/>
<polygon fill="#9C4736" points="336.2,356.5 336.6,353.7 338.3,352.7 340.8,352.8 342.2,355.7 340.2,359.1 337.8,359.8"/>
<polygon fill="#9C4736" points="354.6,337.3 353.6,341.7 348.9,342.4 347.4,339.0 350.8,335.5"/>
<polygon fill="#F2CBCB" points="300.0,352.1 301.3,353.7 302.4,355.7 301.9,358.6 300.1,360.1 298.4,357.4 298.0,354.0"/>
<polygon fill="#B56B5E" points="303.6,361.4 304.7,360.5 306.3,362.1 305.7,364.6 304.3,365.2 302.9,364.3"/>
<polygon fill="#FA3333" points="343.6,326.7 346.4,325.4 349.2,326.6 347.5,328.2 345.8,328.5 343.6,328.1"/>
<polygon fill="#F2CBCB" points="367.8,321.8 369.6,318.1 372.5,317.9 372.9,322.0 372.2,325.0 369.8,324.8"/>
<polygon fill="#4d4d4d" points="374.8,335.9 375.9,333.4 377.4,334.8 378.1,338.0 376.3,339.3 375.1,338.5"/>
<polygon fill="#4d4d4d" points="346.9,343.4 352.3,344.7 355.5,346.7 351.3,348.9 345.3,347.8 341.9,346.1"/>
<polygon fill="#F2CBCB" points="356.2,317.9 354.5,318.8 353.9,314.6 355.2,311.8 357.0,312.4 357.3,315.8"/>
<polygon fill="#F76666" points="293.4,365.1 291.6,366.8 290.5,363.1 291.8,360.0 292.8,359.5 294.2,359.7 294.6,363.2"/>
<polygon fill="#B56B5E" points="346.1,348.1 342.2,349.1 339.6,345.0 340.5,339.3 344.2,337.7 346.1,342.9"/>
<polygon fill="#F76666" points="331.1,328.7 336.7,329.8 335.0,332.8 331.1,334.1 326.5,332.2 327.3,329.0"/>
<polygon fill="#F76666" points="328.0,362.6 326.2,356.0 327.3,349.1 329.4,349.8 331.8,353.5 330.2,360.2"/>
<polygon fill="#FA3333" points="375.4,345.4 371.5,346.5 367.2,344.3 369.4,341.9 374.2,341.5"/>
<polygon fill="#F2CBCB" points="361.7,348.0 359.0,345.8 359.3,339.2 361.9,336.5 364.0,340.2 364.7,344.7"/>
<polygon fill="#B56B5E" points="370.6,317.8 372.0,317.7 372.6,318.8 372.1,321.0 371.4,321.8 370.2,321.1 370.5,318.9"/>
<polygon fill="#B56B5E" points="351.0,346.7 355.3,344.8 356.7,347.8 355.5,351.0 351.7,349.8"/>
<polygon fill="#9C4736" points="293.9,351.9 297.7,353.7 299.7,356.8 293.7,357.3 288.2,356.3 290.1,354.3"/>
<polygon fill="#4d4d4d" points="303.5,361.3 301.2,358.7 303.1,354.0 305.5,353.8 308.0,357.3 306.1,360.7"/>
<polygon fill="#F76666" points="380.0,332.3 378.4,333.1 376.8,331.2 377.6,329.0 379.3,327.3 381.4,329.6"/>
<polygon fill="#FA3333" points="360.6,330.6 363.4,330.2 365.0,331.4 364.7,332.9 363.2,334.7 360.5,334.1 360.7,332.1"/>
<polygon fill="#FA3333" points="353.6,323.8 356.6,324.9 356.9,327.7 355.4,331.4 352.9,330.0 351.5,328.5 351.9,325.4"/>
<polygon fill="#4d4d4d" points="371.9,322.1 368.6,320.7 368.0,318.3 367.9,314.2 371.1,314.3 373.7,316.2 372.8,319.4"/>
<polygon fill="#B56B5E" points="311.9,360.0 310.4,362.7 307.4,363.0 304.7,359.8 307.2,357.0 310.5,357.1"/>
<polygon fill="#9C4736" points="394.9,325.0 396.2,328.1 391.8,330.1 387.2,327.9 390.0,324.9"/>
<polygon fill="#B56B5E" points="299.3,365.6 296.5,366.5 293.9,365.7 295.2,364.1 297.8,364.1"/>
<polygon fill="#F76666" points="395.8,330.6 393.1,327.1 394.5,323.9 396.8,321.9 398.7,323.3 400.2,327.2 397.8,330.9"/>
<polygon fill="#B56B5E" points="360.0,333.6 358.4,330.9 358.7,326.8 360.6,325.3 361.9,327.8 361.4,330.9"/>
<polygon fill="#F2CBCB" points="341.9,344.3 342.3,346.1 340.7,347.1 338.8,346.9 337.6,345.0 340.0,343.5"/>
<polygon fill="#FA3333" points="325.6,332.6 325.7,329.4 327.6,329.1 327.7,332.9 326.7,334.7"/>
<polygon fill="#F76666" points="326.4,354.8 325.7,355.9 323.7,355.9 322.8,355.0 323.4,354.1 325.9,353.6"/>
<polygon fill="#F76666" points="333.5,324.0 330.9,323.1 330.6,321.6 332.9,319.7 335.3,319.9 337.3,321.7 335.3,323.1"/>
<polygon fill="#FA3333" points="301.7,346.3 297.2,344.5 295.1,341.5 300.9,339.5 304.7,342.6"/>
<polygon fill="#F76666" points="384.3,338.6 383.7,337.1 383.7,334.6 384.8,334.1 385.7,334.9 386.0,337.0 385.5,339.7"/>
<polygon fill="#F76666" points="318.2,331.2 318.2,327.8 322.8,329.1 323.4,331.3 320.4,333.9"/>
<polygon fill="#F2CBCB" points="353.8,330.5 354.8,332.3 353.2,333.9 350.5,334.1 348.5,331.8 350.9,329.7"/>
<polygon fill="#F76666" points="309.6,359.3 312.5,357.7 317.9,359.1 316.8,361.1 313.7,362.9 309.3,362.0"/>
<polygon fill="#FA3333" points="390.5,344.6 385.9,345.2 385.1,341.0 386.7,336.5 391.0,338.7 392.8,341.3"/>
<polygon fill="#F2CBCB" points="396.6,327.2 398.1,325.8 400.8,326.7 401.6,327.8 399.6,329.2 395.9,328.7"/>
<polygon fill="#F76666" points="352.9,321.9 352.2,327.1 349.8,330.9 346.5,326.1 348.5,322.0"/>
<polygon fill="#FA3333" points="352.1,337.6 352.8,339.9 351.7,341.3 349.9,342.3 348.0,340.7 348.2,338.7 350.1,337.2"/>
<polygon fill="#F2CBCB" points="348.1,346.8 350.1,342.4 352.0,345.8 352.1,348.6 352.0,353.5 349.8,353.1 348.1,350.4"/>
<polygon fill="#B56B5E" points="326.1,324.4 328.8,322.3 331.3,327.6 329.7,333.4 326.4,333.8 324.6,329.8"/>
<polygon fill="#B56B5E" points="361.1,317.7 360.8,314.9 362.8,313.1 367.7,313.3 367.9,316.4 364.9,317.7"/>
<polygon fill="#9C4736" points="306.7,342.2 303.8,338.1 305.3,334.1 307.2,329.9 310.5,332.5 312.6,336.4 309.4,340.4"/>
<polygon fill="#FA3333" points="326.7,338.7 328.3,340.3 325.6,341.6 323.6,341.8 321.7,340.0 323.7,338.4"/>
<polygon fill="#F76666" points="348.8,339.3 350.7,337.6 352.8,339.3 351.5,343.0 350.0,342.7"/>
<polygon fill="#9C4736" points="369.7,339.8 373.0,337.9 376.5,339.0 379.0,341.3 374.8,342.6 370.8,341.8"/>
<polygon fill="#4d4d4d" points="336.7,351.7 340.9,350.8 345.1,352.3 342.4,354.2 338.4,354.6"/>
<polygon fill="#F2CBCB" points="313.1,360.8 313.1,364.1 311.1,365.2 310.4,362.3 310.0,359.7 312.1,359.2"/>
<polygon fill="#B56B5E" points="312.2,325.6 316.2,323.0 320.7,324.7 323.7,327.3 321.8,329.2 316.2,331.0 312.3,328.9"/>
<polygon fill="#B56B5E" points="382.5,322.3 385.4,321.9 386.9,323.1 387.9,325.4 385.2,326.7 382.8,325.8"/>
<polygon fill="#B56B5E" points="327.5,321.8 329.5,324.3 328.8,327.0 326.7,327.8 324.7,326.6 324.7,324.5 325.6,322.3"/>
<polygon fill="#F76666" points="301.6,338.2 303.5,339.3 303.9,342.7 301.4,344.0 299.6,340.9"/>
<polygon fill="#F76666" points="315.4,353.5 315.6,351.6 318.2,349.9 319.4,352.4 319.4,355.2 316.6,355.6"/>
<polygon fill="#B56B5E" points="394.9,337.5 394.6,343.9 392.3,347.4 389.5,343.3 388.2,339.6 391.6,334.1"/>
<polygon fill="#4d4d4d" points="301.8,337.2 299.6,336.9 297.8,334.1 299.8,332.2 302.9,332.2 304.0,333.8 304.0,336.4"/>
<polygon fill="#F2CBCB" points="386.5,360.2 384.0,360.3 382.9,357.5 383.9,354.3 386.3,355.0 386.6,357.4"/>
<polygon fill="#B56B5E" points="380.8,323.2 387.1,325.1 384.6,328.4 378.6,329.9 376.1,325.2"/>
<polygon fill="#FA3333" points="338.8,338.8 338.0,343.9 336.9,342.1 335.9,339.2 336.4,334.7 337.9,333.9"/>
<polygon fill="#F76666" points="323.6,382.9 321.1,384.1 317.7,384.4 315.5,382.8 318.8,381.7 321.7,382.0"/>
<polygon fill="#F76666" points="364.9,394.7 367.0,394.4 368.1,395.0 368.4,395.9 366.7,396.6 365.4,395.8"/>
<polygon fill="#F76666" points="336.3,367.8 334.7,366.5 335.6,365.5 337.8,364.7 338.2,366.1 337.7,367.8"/>
<polygon fill="#F76666" points="352.4,411.8 356.0,408.9 360.9,411.3 359.6,414.1 354.6,414.1"/>
<polygon fill="#FA3333" points="307.3,375.0 308.5,376.1 307.9,378.9 307.0,378.7 306.7,376.5"/>
<polygon fill="#B56B5E" points="333.5,400.2 330.5,401.4 327.0,400.0 328.9,398.4 332.6,398.6"/>
<polygon fill="#B56B5E" points="303.8,409.9 305.5,407.2 308.6,406.4 310.1,410.0 308.9,413.5 304.8,413.4"/>
<polygon fill="#B56B5E" points="305.8,393.9 306.1,392.2 308.1,392.5 309.6,393.9 307.9,395.2 306.4,395.5"/>
<polygon fill="#F76666" points="317.9,390.1 318.2,392.7 316.9,394.3 315.7,393.5 315.7,390.1 316.7,387.7"/>
<polygon fill="#F76666" points="344.6,404.7 345.1,402.7 348.1,403.0 348.8,405.1 346.2,406.8"/>
<polygon fill="#FA3333" points="345.6,403.0 344.6,401.1 346.3,400.5 348.4,401.2 347.3,402.3"/>
<polygon fill="#FA3333" points="292.0,407.6 294.9,407.2 297.2,408.8 294.5,411.1 292.3,409.6"/>
<polygon fill="#B56B5E" points="287.3,419.3 285.9,420.5 284.6,418.7 284.6,416.6 285.9,415.8 287.7,414.8 288.3,417.5"/>
<polygon fill="#F76666" points="297.2,405.2 295.3,408.2 292.2,408.1 291.3,404.5 294.4,402.0"/>
<polygon fill="#F76666" points="344.9,371.2 343.9,369.9 346.5,368.9 349.2,369.3 348.6,370.7 348.6,371.8 345.7,372.0"/>
<polygon fill="#FA3333" points="357.3,401.0 353.7,400.8 350.3,399.1 352.7,396.2 356.7,395.7 359.1,398.7"/>
<polygon fill="#B56B5E" points="359.3,360.9 360.0,359.4 362.0,360.0 362.5,360.7 362.2,362.3 361.2,362.9 359.2,362.1"/>
<polygon fill="#FA3333" points="321.5,369.5 319.6,367.4 320.2,364.6 322.1,364.1 322.8,366.8"/>
<polygon fill="#F76666" points="378.8,407.1 378.1,406.0 379.2,405.1 381.5,404.3 383.1,406.0 382.0,407.3"/>
<polygon fill="#B56B5E" points="320.9,413.6 321.7,417.5 320.0,420.1 317.3,417.9 318.9,414.0"/>
<polygon fill="#FA3333" points="378.0,416.7 374.0,418.6 371.6,416.3 369.9,413.7 373.7,412.5 376.6,413.4 378.7,414.9"/>
<polygon fill="#FA3333" points="317.7,374.6 316.3,375.9 313.6,374.9 313.9,373.8 315.5,372.5 317.4,373.2"/>
<polygon fill="#F76666" points="305.7,390.6 308.4,389.8 310.2,391.2 308.3,392.4 306.0,391.5"/>
<polygon fill="#F76666" points="356.1,404.4 352.9,404.3 353.2,401.4 356.5,400.1 357.6,402.8"/>
<polygon fill="#B56B5E" points="349.5,359.0 349.0,355.6 352.4,353.3 355.3,357.0 353.1,360.6"/>
<polygon fill="#F76666" points="356.3,375.0 355.8,373.3 357.0,372.0 358.2,372.8 359.2,374.5 357.6,375.4"/>
<polygon fill="#FA3333" points="336.8,362.8 338.5,366.3 337.0,369.9 335.6,371.9 333.8,367.7 334.7,363.8"/>
<polygon fill="#B56B5E" points="384.3,364.3 386.6,366.9 383.6,368.9 380.1,367.7 381.1,365.0"/>
<polygon fill="#FA3333" points="312.0,384.5 314.3,384.7 314.9,386.0 314.2,387.2 311.9,387.0 311.6,385.9"/>
<polygon fill="#FA3333" points="339.0,403.5 341.7,402.8 344.9,403.5 345.2,404.4 342.4,405.5 339.9,404.8"/>
<polygon fill="#B56B5E" points="345.1,373.7 341.7,374.9 337.9,374.2 337.3,372.6 339.3,370.7 344.9,371.6"/>
<polygon fill="#F76666" points="308.0,406.3 310.0,407.8 310.5,411.2 307.0,412.6 303.9,410.2 304.6,407.2"/>
<polygon fill="#F76666" points="302.2,376.5 303.8,377.3 304.3,378.8 303.3,380.3 301.4,379.4 301.6,378.1"/>
<polygon fill="#F76666" points="304.5,404.0 302.1,404.6 300.3,403.1 300.2,401.1 303.2,401.0 306.3,401.8"/>
<polygon fill="#F76666" points="378.1,383.4 378.6,384.1 378.2,384.8 377.1,385.1 376.4,384.6 375.5,383.6 377.0,382.6"/>
<polygon fill="#FA3333" points="331.6,376.5 327.1,377.0 324.2,375.5 327.4,374.0 331.8,375.1"/>
<polygon fill="#FA3333" points="345.9,400.0 344.2,399.8 343.7,399.0 343.6,398.2 345.6,397.9 347.2,398.2 346.7,399.2"/>
<polygon fill="#FA3333" points="327.4,367.1 328.3,365.4 329.5,366.0 329.8,367.7 329.8,369.3 328.5,371.2 327.1,369.3"/>
<polygon fill="#F76666" points="337.5,383.7 339.0,381.8 344.3,380.3 346.8,382.4 346.6,385.0 341.6,385.6"/>
<polygon fill="#FA3333" points="340.9,372.6 342.1,373.9 339.8,375.6 335.6,375.8 336.1,373.4 337.5,372.4"/>
<polygon fill="#4d4d4d" points="416.5,313.4 409.9,313.2 406.9,310.6 410.6,307.2 417.3,307.6 420.4,310.9"/>
<polygon fill="#9C4736" points="398.5,308.6 397.9,312.7 393.2,313.9 389.9,311.7 391.9,307.7"/>
<polygon fill="#F76666" points="400.4,311.8 399.1,316.2 395.5,315.2 392.8,310.9 396.0,306.4 400.0,308.3"/>
<polygon fill="#F76666" points="389.7,262.7 392.0,261.4 396.1,260.7 401.0,262.6 397.5,265.2 394.4,266.1 390.0,264.3"/>
<polygon fill="#4d4d4d" points="410.6,245.6 407.1,249.8 401.5,248.0 400.7,244.8 403.3,242.6 407.4,241.4"/>
<polygon fill="#F76666" points="407.4,318.9 405.7,320.1 401.8,319.1 401.8,317.7 403.9,316.5 407.1,317.3"/>
<polygon fill="#9C4736" points="413.3,312.1 415.7,310.6 417.8,310.7 418.3,312.7 417.7,314.4 414.8,314.1"/>
<polygon fill="#4d4d4d" points="400.7,268.8 399.3,266.5 400.8,264.0 403.5,265.3 403.1,268.0"/>
<polygon fill="#B56B5E" points="418.6,278.9 416.2,280.5 412.2,280.4 412.9,278.1 416.1,277.2"/>
<polygon fill="#F2CBCB" points="419.9,311.2 422.6,308.2 428.7,310.3 430.8,312.6 426.6,314.7 421.0,314.5"/>
<polygon fill="#9C4736" points="424.7,311.8 426.0,313.1 425.1,314.5 423.5,314.4 422.4,313.8 422.4,312.2 423.6,310.3"/>
<polygon fill="#F76666" points="401.6,263.2 402.5,265.2 399.9,267.3 396.2,267.2 394.6,265.4 395.8,263.7 398.2,263.2"/>
<polygon fill="#F2CBCB" points="410.7,263.9 412.3,266.3 412.0,269.5 410.3,272.7 407.7,269.8 405.4,267.0 408.1,263.1"/>
<polygon fill="#F2CBCB" points="400.5,250.9 400.7,252.2 399.5,253.6 395.0,253.4 394.8,251.6 396.4,249.9"/>
<polygon fill="#F76666" points="408.1,326.1 406.6,325.8 405.2,323.4 406.2,321.4 408.1,319.5 410.1,322.0 409.4,324.2"/>
<polygon fill="#F76666" points="399.9,293.4 402.7,292.2 404.7,295.2 402.6,297.6 400.3,298.2 398.9,295.4"/>
<polygon fill="#B56B5E" points="403.1,273.2 404.6,270.4 407.1,272.1 407.6,274.0 405.0,274.5"/>
<polygon fill="#4d4d4d" points="400.8,240.3 405.4,240.8 408.8,241.5 407.7,245.1 404.7,245.9 401.4,245.9 399.3,243.2"/>
<polygon fill="#4d4d4d" points="397.7,270.3 401.4,271.4 399.1,273.6 394.2,273.2 391.2,272.1 392.5,269.9"/>
<polygon fill="#F2CBCB" points="396.0,253.5 402.6,254.7 401.9,257.7 396.9,259.0 391.8,256.5"/>
<polygon fill="#9C4736" points="391.9,277.6 396.1,277.9 397.0,280.6 393.5,283.4 388.7,282.0 384.6,280.5 386.9,277.4"/>
<polygon fill="#F2CBCB" points="424.2,307.5 426.0,309.3 425.1,311.3 422.7,311.8 421.7,310.0 422.3,308.4"/>
<polygon fill="#4d4d4d" points="393.1,257.7 393.2,254.7 397.2,253.3 399.6,257.6 396.0,260.6"/>
<polygon fill="#4d4d4d" points="390.7,289.0 395.9,291.6 396.6,295.7 393.3,298.8 389.6,298.3 389.2,293.6"/>
<polygon fill="#F2CBCB" points="415.6,298.9 415.3,305.2 412.6,306.5 409.0,303.3 412.3,298.7"/>
<polygon fill="#F76666" points="398.4,249.4 395.1,250.5 392.3,249.3 392.1,245.7 395.8,245.8 398.4,246.6"/>
<polygon fill="#B56B5E" points="409.2,269.2 404.4,269.2 402.9,267.0 407.0,266.3 410.3,267.4"/>
<polygon fill="#F2CBCB" points="393.5,242.7 396.0,243.5 394.6,245.3 392.9,246.5 390.7,245.4 389.1,243.9 391.1,242.1"/>
<polygon fill="#B56B5E" points="399.0,290.1 398.9,287.2 401.9,286.5 402.6,288.3 403.0,291.0 400.0,292.4"/>
<polygon fill="#F2CBCB" points="414.1,290.7 415.7,292.3 413.2,293.6 409.3,293.3 409.3,290.8"/>
<polygon fill="#B56B5E" points="418.2,284.6 415.2,282.9 412.4,281.6 412.8,279.0 416.3,277.6 418.5,278.1 419.5,281.4"/>
<polygon fill="#F76666" points="418.5,300.8 420.5,299.6 424.0,299.7 424.0,301.8 420.8,302.4"/>
<polygon fill="#4d4d4d" points="393.5,309.9 397.4,311.7 396.1,314.9 394.4,317.3 390.5,318.4 388.1,314.6 390.9,310.8"/>
<polygon fill="#4d4d4d" points="414.5,276.1 412.3,278.2 411.3,275.1 411.7,270.7 412.7,268.1 415.0,269.0 414.6,273.3"/>
<polygon fill="#B56B5E" points="409.0,299.4 412.9,299.5 414.4,304.0 410.9,305.9 407.4,304.0"/>
<polygon fill="#F76666" points="419.1,306.5 425.0,307.9 427.4,309.7 422.3,311.4 415.7,310.4 416.9,308.4"/>
<polygon fill="#F2CBCB" points="414.1,274.1 418.5,272.4 423.5,273.7 421.4,276.0 418.3,276.7 415.2,275.6"/>
<polygon fill="#F76666" points="410.3,271.5 411.9,268.4 415.2,266.3 417.8,269.8 417.0,274.6 412.5,273.9"/>
<polygon fill="#F76666" points="399.4,315.9 398.4,317.5 395.8,318.2 391.1,317.8 390.9,316.0 393.4,315.0 397.5,315.0"/>
<polygon fill="#B56B5E" points="405.2,252.5 400.5,253.5 395.7,252.3 398.1,249.6 403.1,250.1"/>
<polygon fill="#B56B5E" points="397.0,281.8 395.3,284.4 389.6,284.5 386.4,282.1 392.2,280.6"/>
<polygon fill="#F2CBCB" points="415.6,291.7 413.6,289.6 416.3,288.4 419.9,289.0 418.8,292.2"/>
<polygon fill="#F76666" points="423.0,312.7 423.9,311.4 426.4,311.1 428.4,311.6 427.9,313.3 426.6,314.2 424.1,314.2"/>
<polygon fill="#F76666" points="405.2,296.9 405.4,302.1 403.6,302.3 403.0,298.8 403.7,296.0"/>
<polygon fill="#4d4d4d" points="400.7,299.6 403.0,302.1 400.2,303.9 397.4,302.9 397.1,300.4"/>
<polygon fill="#F76666" points="405.2,338.0 405.2,339.4 401.6,339.4 401.1,337.8 403.4,336.3"/>
<polygon fill="#F76666" points="411.2,336.9 409.3,335.3 408.4,331.9 410.3,329.2 412.8,331.1 412.6,333.8"/>
<polygon fill="#CC8F85" points="417.0,345.1 413.2,344.1 412.9,341.8 417.4,341.4 420.4,343.3"/>
<polygon fill="#FA3333" points="420.6,335.2 420.9,333.8 421.2,332.6 422.9,333.0 424.1,333.9 423.5,335.2 422.3,335.5"/>
<polygon fill="#F76666" points="407.0,345.8 408.2,343.8 411.1,343.5 412.8,345.2 410.0,346.8"/>
<polygon fill="#F76666" points="403.7,341.8 405.2,340.2 406.6,338.5 408.6,340.2 408.0,342.0 407.6,343.7 405.2,343.9"/>
<polygon fill="#CC8F85" points="433.1,323.2 434.8,323.5 435.5,324.0 435.5,325.0 433.4,325.1 431.8,324.7 431.0,323.8"/>
<polygon fill="#F76666" points="401.7,336.2 403.6,338.3 402.8,340.5 400.7,340.7 399.4,338.2"/>
<polygon fill="#F76666" points="399.7,345.1 403.3,343.8 407.0,343.9 410.8,345.9 407.0,346.9 402.2,347.4"/>
<polygon fill="#F76666" points="418.9,323.2 421.0,323.9 420.7,326.2 418.7,326.2 417.9,324.6"/>
<polygon fill="#CC8F85" points="421.6,330.0 424.0,331.0 423.7,332.4 421.4,334.3 419.1,333.0 418.9,331.6 418.9,330.3"/>
<polygon fill="#FA3333" points="406.0,331.7 403.2,332.7 400.9,331.8 401.0,329.8 403.2,328.5 406.3,330.0"/>
<polygon fill="#F76666" points="408.3,337.9 409.8,339.0 406.0,340.1 401.5,340.1 401.5,338.4 402.2,337.3 405.9,337.1"/>
<polygon fill="#FA3333" points="411.7,338.2 409.4,338.3 407.8,337.2 409.7,336.5 411.9,336.8"/>
<polygon fill="#F2CBCB" points="259.8,438.1 259.5,436.6 263.7,435.1 268.1,436.5 267.2,438.1 263.9,438.3"/>
<polygon fill="#CC8F85" points="308.2,460.3 310.6,458.0 314.3,460.5 313.8,463.0 311.1,465.1 307.6,463.6"/>
<polygon fill="#F2CBCB" points="290.6,441.0 289.6,442.0 288.0,441.4 287.9,439.4 290.1,438.8"/>
<polygon fill="#F2CBCB" points="244.8,457.7 242.2,459.7 240.2,455.3 240.6,450.0 242.8,448.5 245.4,450.1"/>
<polygon fill="#F76666" points="292.3,450.2 297.8,449.2 302.2,450.6 298.9,453.3 294.4,453.8"/>
<polygon fill="#4d4d4d" points="320.7,477.7 319.5,480.1 316.0,480.5 311.5,480.0 311.3,477.8 313.5,475.1 317.2,475.7"/>
<polygon fill="#4d4d4d" points="305.6,454.6 304.9,457.0 303.4,458.0 302.5,455.9 302.9,453.0 304.3,451.1"/>
<polygon fill="#F2CBCB" points="244.2,480.1 245.7,478.3 247.1,481.6 245.8,484.4 244.4,483.8"/>
<polygon fill="#FA3333" points="302.0,454.7 301.4,452.4 304.8,451.3 308.1,452.7 307.5,454.6"/>
<polygon fill="#CC8F85" points="292.4,471.7 295.0,470.3 298.4,470.2 301.9,471.4 298.6,473.1 295.2,472.9"/>
<polygon fill="#F2CBCB" points="278.4,426.6 283.7,427.7 282.1,431.3 276.3,430.2 275.2,428.2"/>
<polygon fill="#FA3333" points="263.9,500.4 264.1,502.4 261.5,504.6 258.8,502.5 260.0,499.7 260.8,496.7 263.1,496.5"/>
<polygon fill="#FA3333" points="293.6,423.4 298.0,422.3 301.5,427.5 296.4,430.0 291.5,428.0"/>
<polygon fill="#FA3333" points="298.8,444.7 296.5,440.6 296.9,435.8 300.1,436.6 301.2,440.8"/>
<polygon fill="#FA3333" points="327.7,504.4 329.9,505.3 327.1,506.5 324.7,506.0 323.4,505.1 325.1,504.2"/>
<polygon fill="#F76666" points="320.3,499.3 316.0,499.6 313.4,497.9 313.7,496.6 317.8,496.0 319.8,497.2"/>
<polygon fill="#4d4d4d" points="286.3,435.3 285.2,438.7 281.2,440.0 280.4,436.1 283.1,433.5"/>
<polygon fill="#CC8F85" points="316.0,477.1 315.5,482.0 313.9,480.0 313.4,475.0 315.3,473.8"/>
<polygon fill="#F2CBCB" points="312.3,431.6 310.7,429.3 311.6,426.1 314.6,425.7 317.5,427.9 317.3,430.6 315.0,433.8"/>
<polygon fill="#F2CBCB" points="281.3,431.7 278.6,432.6 276.2,431.8 274.8,429.0 277.9,428.2 281.9,427.7 283.1,430.0"/>
<polygon fill="#FA3333" points="253.8,501.5 247.8,500.4 246.6,498.6 247.0,496.5 253.4,495.3 256.1,497.3 259.1,499.8"/>
<polygon fill="#FA3333" points="309.7,450.6 307.2,452.2 303.8,451.5 301.9,449.7 303.8,447.4 307.0,447.6 310.0,448.8"/>
<polygon fill="#CC8F85" points="259.0,498.3 263.7,498.3 265.8,501.0 263.6,504.3 257.4,503.5 255.9,500.2"/>
<polygon fill="#B56B5E" points="327.1,437.8 326.3,439.4 321.4,440.5 317.2,439.2 317.5,437.4 320.5,436.6 324.9,436.2"/>
<polygon fill="#CC8F85" points="298.0,454.3 295.8,456.9 289.0,459.0 283.2,456.2 284.9,453.4 291.4,452.1"/>
<polygon fill="#4d4d4d" points="242.8,424.7 244.1,423.6 246.8,423.4 249.5,424.3 247.6,426.4 245.8,427.5 243.4,426.6"/>
<polygon fill="#4d4d4d" points="297.2,447.3 295.0,446.9 294.9,442.7 296.6,440.6 298.2,443.8"/>
<polygon fill="#CC8F85" points="267.8,454.5 267.7,458.2 263.6,461.0 261.2,456.1 263.7,453.4"/>
<polygon fill="#F76666" points="262.6,472.9 264.3,466.9 267.1,472.8 265.6,482.5 262.6,480.7"/>
<polygon fill="#F76666" points="236.6,440.1 239.9,435.3 242.5,439.6 242.4,444.3 238.5,446.8"/>
<polygon fill="#FA3333" points="295.9,443.5 295.4,441.6 296.5,439.3 299.1,439.5 300.2,440.9 300.6,443.6 298.7,444.7"/>
<polygon fill="#FA3333" points="258.9,472.0 260.7,472.7 260.9,474.4 258.9,475.5 256.0,475.2 255.6,473.6 256.5,472.4"/>
<polygon fill="#9C4736" points="250.8,475.1 255.9,473.1 261.5,474.4 261.2,477.4 255.8,478.8 250.1,477.6"/>
<polygon fill="#FA3333" points="261.9,494.0 258.8,494.5 255.5,493.3 256.4,491.7 257.8,489.9 261.2,490.5 261.6,492.0"/>
<polygon fill="#F76666" points="296.9,447.0 292.4,444.2 294.4,441.5 302.4,441.0 303.2,445.3"/>
<polygon fill="#4d4d4d" points="247.7,480.1 249.4,476.1 252.0,477.7 252.9,482.1 251.6,484.7 248.2,483.8"/>
<polygon fill="#F76666" points="313.5,455.8 318.7,453.6 324.0,455.6 321.4,459.4 315.9,460.7"/>
<polygon fill="#4d4d4d" points="258.4,500.4 254.4,500.4 250.4,498.5 253.8,495.2 258.7,496.0 260.2,497.9"/>
<polygon fill="#FA3333" points="301.2,419.8 302.7,422.7 302.8,426.5 300.3,427.0 298.0,424.3 299.0,421.8"/>
<polygon fill="#B56B5E" points="301.6,478.3 299.0,477.0 299.0,474.9 300.5,473.6 302.9,473.4 304.2,475.9"/>
<polygon fill="#4d4d4d" points="264.7,436.1 264.7,439.6 258.2,440.9 253.4,438.3 257.2,436.0"/>
<polygon fill="#F2CBCB" points="289.4,442.4 290.8,441.8 293.4,441.4 296.1,442.7 294.3,444.0 291.9,444.0 289.0,443.6"/>
<polygon fill="#FA3333" points="317.8,507.2 318.2,505.4 319.5,506.0 320.5,507.4 319.8,509.0 318.7,510.4 317.8,508.9"/>
<polygon fill="#CC8F85" points="316.5,428.7 318.7,425.5 325.4,424.5 330.8,427.9 324.4,429.5"/>
<polygon fill="#CC8F85" points="295.3,433.0 298.3,432.5 301.3,433.9 300.3,434.9 298.1,435.5 294.6,435.3 292.7,434.3"/>
<polygon fill="#B56B5E" points="262.3,495.4 260.0,493.8 260.7,491.7 263.6,491.6 264.6,494.0"/>
<polygon fill="#9C4736" points="284.9,448.4 290.8,449.0 294.6,451.1 291.7,452.9 284.5,454.2 283.1,451.4"/>
<polygon fill="#B56B5E" points="237.1,455.3 238.8,452.7 244.8,451.5 244.3,456.5 240.6,457.6"/>
<polygon fill="#4d4d4d" points="238.6,469.8 237.7,464.4 238.6,460.2 241.1,460.0 241.2,466.7"/>
<polygon fill="#F76666" points="279.8,428.6 276.1,430.7 272.8,431.3 270.5,430.0 269.8,426.7 272.9,424.8 278.1,426.4"/>
<polygon fill="#F2CBCB" points="310.7,495.7 312.3,492.1 316.2,489.8 320.4,491.1 319.4,495.5 316.2,497.8"/>
<polygon fill="#B56B5E" points="252.8,427.7 255.8,426.1 258.0,427.3 260.3,428.8 258.3,431.1 255.3,431.9 253.0,430.0"/>
<polygon fill="#4d4d4d" points="318.4,499.6 314.2,495.1 318.7,492.3 324.0,493.3 325.0,497.7"/>
<polygon fill="#F76666" points="316.0,478.0 316.9,480.4 314.4,482.8 311.2,482.3 310.6,479.3 311.7,476.3"/>
<polygon fill="#CC8F85" points="294.0,428.6 290.3,432.8 286.8,429.0 288.5,423.9 293.0,422.3"/>
<polygon fill="#FA3333" points="300.4,438.7 298.3,439.8 294.8,439.3 294.8,437.8 298.1,437.4"/>
<polygon fill="#FA3333" points="253.1,422.1 254.6,422.9 255.2,425.1 254.9,427.4 253.4,428.0 253.1,425.5"/>
<polygon fill="#F2CBCB" points="266.5,428.0 262.7,429.3 259.0,427.3 259.9,424.3 263.0,424.4 266.9,425.1"/>
<polygon fill="#B56B5E" points="289.5,432.7 291.3,431.3 294.2,431.2 296.4,432.2 296.6,433.6 293.7,433.8 290.9,433.8"/>
<polygon fill="#4d4d4d" points="316.4,447.1 317.7,448.5 316.6,449.4 313.7,449.8 312.5,448.4 313.9,447.5"/>
<polygon fill="#F2CBCB" points="308.6,430.0 307.9,425.7 309.2,421.7 312.2,422.0 314.5,426.1 313.3,429.4 310.1,430.6"/>
<polygon fill="#FA3333" points="321.4,427.8 321.9,430.2 322.0,432.9 320.3,433.0 319.4,431.6 319.8,429.5"/>
<polygon fill="#F2CBCB" points="312.8,478.9 317.7,476.8 322.7,478.7 321.9,481.8 320.3,484.3 316.0,485.3 312.1,482.0"/>
<polygon fill="#FA3333" points="290.2,462.1 288.1,459.4 288.0,452.6 291.5,452.9 292.3,459.5"/>
<polygon fill="#F76666" points="258.7,442.7 257.4,440.4 260.0,439.3 262.8,440.4 264.5,442.0 261.0,443.3"/>
<polygon fill="#4d4d4d" points="241.2,469.4 243.6,467.0 246.6,468.3 246.3,472.8 242.2,473.3"/>
<polygon fill="#CC8F85" points="306.7,487.3 308.9,485.4 310.5,487.4 310.0,491.0 307.7,490.9"/>
<polygon fill="#F2CBCB" points="244.7,479.6 247.2,476.6 249.9,474.4 254.6,475.8 253.1,479.5 250.0,481.1"/>
<polygon fill="#F2CBCB" points="282.9,452.1 280.6,451.4 278.3,449.1 278.9,445.0 281.1,444.9 283.7,444.3 283.8,448.6"/>
<polygon fill="#F76666" points="275.6,439.8 279.3,437.8 284.3,440.1 282.0,442.3 275.9,442.8"/>
<polygon fill="#4d4d4d" points="260.8,459.2 258.4,459.6 256.3,455.0 258.4,450.3 261.0,452.2 262.2,456.2"/>
<polygon fill="#F76666" points="266.9,445.8 267.0,450.4 265.7,451.7 263.8,449.6 263.0,446.4 264.1,443.3 266.3,442.9"/>
<polygon fill="#F76666" points="312.7,440.4 313.2,438.2 320.3,438.2 321.3,440.5 316.5,442.7"/>
<polygon fill="#CC8F85" points="318.0,448.0 320.3,449.0 322.3,452.7 322.4,457.5 319.8,459.9 317.1,460.2 316.7,454.0"/>
<polygon fill="#F2CBCB" points="322.6,489.3 319.3,489.2 318.9,487.9 321.8,486.8 324.0,487.1 326.8,488.1 324.4,489.2"/>
<polygon fill="#FA3333" points="247.4,487.9 244.8,483.2 247.6,479.6 250.8,477.6 251.8,483.0 251.6,487.8"/>
<polygon fill="#F76666" points="254.1,470.8 255.6,470.8 257.1,471.2 257.6,474.5 256.3,477.5 254.8,476.4 253.6,474.6"/>
<polygon fill="#FA3333" points="316.1,447.5 312.5,448.4 310.4,447.7 308.7,445.5 311.5,444.6 314.5,444.5 315.5,445.8"/>
<polygon fill="#F76666" points="245.1,457.5 245.1,455.8 246.0,454.2 248.6,454.2 250.4,455.5 250.5,456.6 248.2,457.4"/>
<polygon fill="#9C4736" points="240.7,466.1 240.5,460.6 244.5,458.8 246.8,463.2 246.1,468.4 241.7,469.1"/>
<polygon fill="#4d4d4d" points="318.1,457.2 319.4,460.4 318.1,464.1 316.8,466.1 315.7,464.2 315.2,459.1 316.1,456.9"/>
<polygon fill="#FA3333" points="307.1,485.1 308.9,487.1 308.6,488.7 304.8,489.3 304.7,486.7"/>
<polygon fill="#F2CBCB" points="273.2,430.7 279.8,430.8 284.3,432.1 284.0,434.6 280.1,435.8 274.2,435.4 271.9,433.5"/>
<polygon fill="#F2CBCB" points="280.4,441.7 281.3,439.2 284.6,437.8 288.4,439.1 288.9,440.6 286.7,442.9 284.3,443.1"/>
<polygon fill="#F76666" points="308.1,463.5 306.0,466.3 303.6,464.0 303.6,462.0 306.4,460.8"/>
<polygon fill="#CC8F85" points="241.6,440.8 242.5,438.3 245.4,438.5 246.3,440.1 244.4,442.7"/>
<polygon fill="#4d4d4d" points="325.7,471.5 321.8,472.6 319.1,470.9 318.8,467.7 321.1,465.8 324.5,464.8 326.2,468.2"/>
<polygon fill="#9C4736" points="262.2,444.7 264.7,442.7 266.3,444.0 266.4,446.1 264.0,447.7"/>
<polygon fill="#F76666" points="276.5,446.0 279.3,444.8 281.2,446.6 279.8,448.1 276.3,447.4"/>
<polygon fill="#FA3333" points="325.6,513.6 324.7,515.1 323.0,516.1 321.5,514.2 322.2,512.5 323.1,510.8 324.6,511.6"/>
<polygon fill="#F2CBCB" points="301.5,441.3 299.0,442.7 297.3,438.5 298.0,433.2 299.2,430.4 301.5,430.8 303.2,436.4"/>
<polygon fill="#B56B5E" points="315.7,447.6 315.6,446.3 317.9,444.8 320.9,445.3 322.2,446.5 322.6,448.4 319.2,448.3"/>
<polygon fill="#9C4736" points="254.0,436.1 251.8,434.9 251.3,431.6 252.4,428.3 255.3,429.5 256.0,432.7"/>
<polygon fill="#B56B5E" points="248.5,463.8 246.3,464.4 243.8,464.2 245.1,461.5 246.6,460.1 248.4,461.6"/>
<polygon fill="#4d4d4d" points="260.9,492.3 257.2,494.2 251.1,494.7 251.1,491.2 255.8,489.6"/>
<polygon fill="#F2CBCB" points="275.4,430.3 272.9,431.0 270.0,430.4 269.3,427.5 272.6,426.2 275.3,427.0 277.7,428.5"/>
<polygon fill="#4d4d4d" points="251.1,470.6 249.8,467.5 250.3,463.6 251.9,462.0 253.8,465.1 252.9,468.5"/>
<polygon fill="#4d4d4d" points="320.6,441.8 322.5,442.7 321.4,444.5 319.3,444.9 317.8,443.5 319.0,441.5"/>
<polygon fill="#F76666" points="319.2,434.1 317.8,435.9 313.4,436.1 311.0,433.5 316.8,431.6"/>
<polygon fill="#9C4736" points="256.2,461.3 258.7,459.7 258.9,467.5 257.7,471.9 254.7,469.9 253.8,464.2"/>
<polygon fill="#CC8F85" points="321.1,473.7 319.6,472.8 319.6,470.3 319.9,466.4 321.7,466.2 322.2,469.5 322.0,472.3"/>
<polygon fill="#CC8F85" points="280.9,448.2 282.2,449.5 278.6,450.0 276.3,449.6 275.1,448.6 276.6,447.3 279.7,447.6"/>
<polygon fill="#B56B5E" points="261.5,424.5 261.4,421.7 262.9,420.6 264.0,422.4 263.5,426.9 262.1,427.2"/>
<polygon fill="#F76666" points="312.4,431.6 313.5,432.4 313.3,434.6 312.2,435.9 310.8,434.8 311.3,431.5"/>
<polygon fill="#FA3333" points="247.8,482.7 245.4,482.6 244.8,479.4 247.2,477.8 249.0,480.3"/>
<polygon fill="#4d4d4d" points="246.6,461.2 246.3,466.2 244.0,468.9 241.9,465.9 240.5,461.8 242.6,458.1 245.0,456.6"/>
<polygon fill="#F2CBCB" points="239.1,461.5 242.6,462.7 240.5,465.6 237.0,466.7 232.8,465.6 232.9,462.6 235.1,460.0"/>
<polygon fill="#B56B5E" points="251.2,450.4 252.4,451.4 253.4,453.8 252.3,455.3 250.9,455.4 250.0,454.0 249.5,451.8"/>
<polygon fill="#CC8F85" points="298.1,468.6 299.2,469.7 300.8,472.3 298.5,473.9 296.6,474.3 295.4,472.1 296.5,469.9"/>
<polygon fill="#F76666" points="251.2,425.9 249.6,422.8 251.1,419.8 255.5,420.5 254.4,424.8"/>
<polygon fill="#CC8F85" points="318.3,437.6 315.7,436.5 314.0,430.9 315.1,425.5 319.1,425.9 320.6,431.3"/>
<polygon fill="#F2CBCB" points="306.8,430.7 304.7,426.7 305.0,420.0 308.9,420.4 310.6,427.2"/>
<polygon fill="#CC8F85" points="236.8,466.6 237.2,464.4 238.4,463.6 241.8,463.3 241.7,465.2 242.1,466.7 239.0,467.9"/>
<polygon fill="#FA3333" points="288.8,456.4 291.2,452.5 294.0,453.0 295.0,459.1 293.6,463.6 291.0,465.1 288.4,461.3"/>
<polygon fill="#4d4d4d" points="301.2,463.6 301.2,465.2 298.5,467.0 294.2,465.5 294.8,463.9 295.1,461.5 300.3,462.3"/>
<polygon fill="#9C4736" points="278.7,435.9 277.5,435.4 276.6,433.1 278.6,432.2 279.7,432.7 280.1,435.3"/>
<polygon fill="#F76666" points="317.9,494.6 315.9,496.1 313.5,495.8 311.6,492.5 312.4,488.7 316.0,487.9 319.1,489.9"/>
<polygon fill="#B56B5E" points="312.6,476.6 310.6,476.0 311.0,474.4 312.0,472.9 314.6,473.0 315.3,474.9 314.6,476.8"/>
<polygon fill="#FA3333" points="282.0,435.7 284.6,438.6 279.5,439.7 274.3,439.7 275.0,436.6 277.5,433.2"/>
<polygon fill="#FA3333" points="329.1,519.2 327.1,517.9 328.0,515.6 330.4,515.5 332.7,517.1 331.6,519.2"/>
<polygon fill="#F76666" points="318.4,456.2 320.6,454.5 323.2,455.0 324.4,458.2 321.7,461.0 319.5,459.6 316.8,458.0"/>
<polygon fill="#4d4d4d" points="248.4,481.7 246.9,479.5 246.8,476.9 249.6,476.4 251.6,477.6 251.0,480.2"/>
<polygon fill="#FA3333" points="299.7,432.7 295.1,433.7 291.1,431.8 292.9,429.3 295.9,428.1 298.0,429.9"/>
<polygon fill="#B56B5E" points="251.2,449.8 250.5,454.0 246.8,455.6 243.9,450.2 247.6,446.9"/>
<polygon fill="#9C4736" points="235.4,460.6 236.6,459.4 239.2,459.8 239.0,462.4 235.9,462.9"/>
<polygon fill="#B56B5E" points="269.4,437.2 266.8,438.3 262.7,438.0 263.9,435.2 266.1,434.1 270.1,434.6"/>
<polygon fill="#4d4d4d" points="327.8,514.3 325.8,516.6 319.8,516.3 319.1,513.4 325.3,512.4"/>
<polygon fill="#F76666" points="293.5,420.6 295.2,421.8 296.9,424.0 294.3,426.3 292.3,425.2 290.1,423.9 291.8,422.3"/>
<polygon fill="#4d4d4d" points="248.6,480.0 250.9,474.3 254.3,476.3 254.3,480.7 252.3,482.0"/>
<polygon fill="#F76666" points="261.4,498.0 262.9,499.7 263.1,503.4 261.1,506.6 258.5,504.2 258.8,499.5"/>
<polygon fill="#FA3333" points="252.6,462.5 248.5,462.1 246.8,459.9 246.2,456.2 250.1,456.0 253.4,456.0 254.2,459.7"/>
<polygon fill="#F2CBCB" points="322.4,457.7 322.0,460.1 319.5,461.1 315.9,461.1 312.5,458.3 315.9,456.5 320.3,456.2"/>
<polygon fill="#4d4d4d" points="260.7,460.2 261.6,463.1 259.7,466.6 256.7,466.7 254.8,462.6 256.4,458.2"/>
<polygon fill="#B56B5E" points="252.9,500.1 253.7,497.3 256.1,496.7 257.9,499.3 257.1,501.5 254.0,501.9"/>
<polygon fill="#F2CBCB" points="255.5,498.1 253.8,496.5 253.2,494.6 254.6,492.1 255.7,491.9 257.4,494.1 256.3,496.3"/>
<polygon fill="#FA3333" points="259.4,439.2 260.6,435.0 264.8,433.7 271.0,434.4 272.2,438.1 266.1,440.3"/>
<polygon fill="#F76666" points="288.6,449.7 289.4,447.7 291.2,449.0 290.8,452.1 288.8,452.4"/>
<polygon fill="#B56B5E" points="327.4,521.9 323.3,523.6 322.3,519.6 323.4,515.9 326.7,517.4 329.1,519.8"/>
<polygon fill="#B56B5E" points="246.0,466.9 248.7,467.8 247.9,469.1 244.3,469.9 241.5,468.6 243.7,466.9"/>
<polygon fill="#FA3333" points="255.5,494.3 255.2,496.1 253.8,497.0 252.7,496.9 252.6,494.3 253.0,492.8 254.3,493.2"/>
<polygon fill="#4d4d4d" points="343.9,485.8 346.5,484.2 350.2,486.1 349.0,491.2 346.9,493.9 344.1,492.4"/>
<polygon fill="#F2CBCB" points="359.0,446.2 356.6,447.1 355.8,444.8 356.5,441.1 358.5,443.2"/>
<polygon fill="#F2CBCB" points="346.0,496.3 346.4,493.6 347.8,490.7 349.7,491.7 350.2,495.5 348.9,498.4 347.4,498.4"/>
<polygon fill="#FC9633" points="391.3,432.7 394.6,435.5 390.6,438.8 385.1,437.4 384.2,434.0"/>
<polygon fill="#F2CBCB" points="385.8,432.5 383.7,434.6 379.8,434.2 378.0,432.4 382.3,430.8"/>
<polygon fill="#F76666" points="358.7,437.2 356.5,436.4 356.9,433.8 358.6,432.1 359.8,434.7"/>
<polygon fill="#F76666" points="344.8,489.0 342.9,490.0 341.0,489.3 341.4,487.3 342.1,484.9 343.6,485.3 345.2,487.0"/>
<polygon fill="#FC9633" points="383.1,441.9 381.4,443.7 377.4,443.1 375.9,441.0 381.4,440.7"/>
<polygon fill="#F76666" points="359.0,512.0 357.0,513.4 353.5,513.7 350.1,511.9 353.1,510.3 357.8,509.9"/>
<polygon fill="#F76666" points="328.5,437.2 325.9,435.7 328.1,433.9 332.5,434.1 332.2,436.9"/>
<polygon fill="#4d4d4d" points="364.8,484.5 366.5,486.4 368.2,492.4 365.6,498.2 362.5,496.5 361.4,491.4 362.1,485.3"/>
<polygon fill="#F2CBCB" points="392.6,435.7 394.2,433.6 396.3,434.7 395.8,438.5 393.3,439.1"/>
<polygon fill="#4d4d4d" points="354.6,450.8 352.4,451.9 350.4,450.9 349.2,446.4 352.5,443.8 354.7,446.2"/>
<polygon fill="#F76666" points="366.6,518.8 369.3,518.8 370.2,520.2 368.7,521.8 365.6,521.4 365.5,519.8"/>
<polygon fill="#F2CBCB" points="346.0,455.2 342.6,455.7 340.2,454.0 339.5,452.1 343.0,449.9 346.3,452.1"/>
<polygon fill="#FC9633" points="372.2,474.5 373.7,475.9 371.6,477.5 370.0,476.7 368.5,474.9 370.7,473.7"/>
<polygon fill="#F76666" points="384.1,453.5 383.5,456.5 381.9,458.0 380.6,454.9 381.2,452.0 383.0,450.4"/>
<polygon fill="#F76666" points="360.8,518.8 359.0,519.8 354.1,519.3 351.2,517.9 354.3,515.2 358.0,514.1 362.6,516.4"/>
<polygon fill="#F2CBCB" points="352.6,472.0 351.6,472.4 350.8,472.0 350.0,468.0 351.1,466.4 352.2,466.7 353.3,468.8"/>
<polygon fill="#F2CBCB" points="365.6,478.8 360.8,478.7 361.5,477.1 366.5,476.6 368.3,477.9"/>
<polygon fill="#4d4d4d" points="337.4,502.7 335.6,500.6 338.1,499.1 341.5,499.6 341.6,501.2 339.9,503.3"/>
<polygon fill="#F76666" points="350.4,486.7 350.5,488.2 349.5,490.7 346.7,490.1 345.0,488.5 346.7,486.5 348.1,485.5"/>
<polygon fill="#FC9633" points="368.5,499.0 368.2,501.1 364.4,502.3 360.4,500.6 361.8,497.7 364.1,495.7 368.0,496.1"/>
<polygon fill="#F76666" points="359.2,440.8 361.6,440.7 363.2,441.4 363.6,442.8 362.4,444.5 360.1,444.1 358.9,442.4"/>
<polygon fill="#F76666" points="372.1,456.8 373.6,458.9 373.0,462.9 371.7,463.2 370.3,462.0 371.0,458.4"/>
<polygon fill="#FA3333" points="338.2,470.5 336.5,474.7 334.1,473.8 333.5,467.4 335.9,464.8"/>
<polygon fill="#F2CBCB" points="361.1,508.3 365.5,508.0 368.4,509.2 366.2,510.5 362.6,510.8 360.6,509.4"/>
<polygon fill="#4d4d4d" points="328.1,457.7 329.0,456.9 331.4,456.4 332.4,458.6 331.5,460.7 329.6,461.4 327.4,460.4"/>
<polygon fill="#F2CBCB" points="342.3,441.6 340.2,440.6 338.3,438.7 337.1,432.6 340.1,430.9 342.9,431.0 344.9,436.6"/>
<polygon fill="#4d4d4d" points="345.7,430.3 349.7,428.7 354.3,429.3 354.6,431.2 352.2,432.7 348.6,431.8"/>
<polygon fill="#F76666" points="388.2,459.7 387.6,456.7 388.8,455.9 390.1,455.5 390.6,458.0 389.8,461.1 388.9,461.8"/>
<polygon fill="#F76666" points="331.8,468.6 332.4,463.3 335.1,462.5 337.4,466.2 336.5,470.9 334.8,473.2 331.6,473.0"/>
<polygon fill="#F2CBCB" points="341.8,428.2 337.8,430.3 330.7,429.5 332.5,424.4 340.6,425.5"/>
<polygon fill="#F76666" points="384.5,427.2 384.6,429.3 380.8,430.5 376.6,429.7 377.4,427.9 379.8,426.9"/>
<polygon fill="#FC9633" points="355.9,514.3 354.7,519.1 350.7,517.9 351.1,513.3 353.9,512.6"/>
<polygon fill="#FC9633" points="372.9,486.5 373.5,484.9 374.3,482.9 379.2,481.8 385.1,483.8 385.1,485.8 379.3,486.8"/>
<polygon fill="#FC9633" points="367.9,496.5 369.8,499.3 369.3,504.8 366.6,504.8 366.1,500.3"/>
<polygon fill="#FC9633" points="349.3,443.0 350.6,446.5 347.6,448.1 345.4,446.1 346.3,443.0"/>
<polygon fill="#F2CBCB" points="370.1,434.1 367.5,431.8 369.7,429.9 372.1,430.5 373.4,432.6"/>
<polygon fill="#F2CBCB" points="335.6,441.3 331.9,443.1 328.6,443.2 326.4,441.0 326.0,438.7 330.0,437.7 334.5,438.9"/>
<polygon fill="#4d4d4d" points="358.9,488.7 355.7,489.8 352.5,488.5 354.4,486.5 357.5,486.8"/>
<polygon fill="#F2CBCB" points="333.4,428.3 333.0,430.4 330.0,430.8 327.1,430.7 325.7,428.5 327.9,427.1 330.7,426.3"/>
<polygon fill="#4d4d4d" points="338.8,431.0 340.7,431.8 341.2,433.5 340.1,435.8 337.2,434.5 337.6,432.3"/>
<polygon fill="#4d4d4d" points="342.9,440.3 338.7,438.2 338.5,435.8 343.0,434.7 347.4,434.7 350.0,437.1 350.2,439.2"/>
<polygon fill="#F2CBCB" points="361.6,486.7 360.9,484.0 361.5,481.8 364.1,479.9 366.2,483.2 364.7,485.7"/>
<polygon fill="#4d4d4d" points="372.5,435.3 371.7,438.8 369.1,439.0 367.4,435.6 368.4,432.5 371.6,431.6"/>
<polygon fill="#F76666" points="326.3,495.6 328.4,494.6 330.1,495.4 331.6,496.6 328.8,497.1 326.0,497.0"/>
<polygon fill="#F76666" points="336.1,473.0 335.3,476.5 333.5,476.2 332.4,473.3 334.4,471.0"/>
<polygon fill="#F76666" points="383.9,468.0 385.7,467.9 386.7,470.2 386.8,472.3 384.5,473.3 382.1,472.1 382.2,469.6"/>
<polygon fill="#F2CBCB" points="353.6,450.1 359.9,448.5 363.0,451.1 363.4,453.6 357.9,454.4 353.6,452.3"/>
<polygon fill="#F76666" points="360.9,421.1 362.1,426.7 361.2,429.7 358.4,431.1 356.7,426.4 357.8,423.2"/>
<polygon fill="#4d4d4d" points="349.6,496.2 351.4,494.3 355.9,494.2 358.7,495.4 356.8,496.6 353.9,496.9"/>
<polygon fill="#4d4d4d" points="372.8,459.2 373.6,460.3 374.2,462.7 373.0,464.8 371.2,463.8 370.3,461.6 371.2,459.5"/>
<polygon fill="#F2CBCB" points="381.4,477.5 379.2,480.5 375.0,478.6 375.3,474.9 377.6,471.6 381.8,474.4"/>
<polygon fill="#4d4d4d" points="371.4,502.2 371.8,505.0 370.3,507.3 369.2,507.6 367.6,504.5 368.3,501.6 369.9,499.8"/>
<polygon fill="#F2CBCB" points="378.9,455.2 380.8,457.9 381.6,461.7 380.4,465.4 378.4,468.0 376.9,463.1 377.1,458.5"/>
<polygon fill="#FA3333" points="337.9,433.6 340.4,432.7 344.5,433.4 346.2,435.4 343.7,437.3 339.4,438.0 337.0,435.9"/>
<polygon fill="#F2CBCB" points="364.1,486.6 366.4,490.5 362.6,493.5 358.9,493.2 357.3,488.9 360.6,487.3"/>
<polygon fill="#F76666" points="344.4,467.4 345.6,470.5 346.0,473.5 345.1,477.1 343.9,475.2 343.5,471.3"/>
<polygon fill="#FC9633" points="336.2,455.5 332.9,457.1 330.4,454.1 330.9,449.6 334.3,447.8 336.9,449.2 338.3,453.3"/>
<polygon fill="#F76666" points="370.6,443.4 368.4,443.8 365.8,442.0 365.7,439.9 367.9,439.3 370.6,439.2 373.1,440.8"/>
<polygon fill="#F76666" points="343.2,429.1 341.4,429.1 340.1,428.2 340.3,423.6 341.7,421.2 342.9,424.7"/>
<polygon fill="#FC9633" points="385.4,447.3 388.9,450.7 384.9,454.1 380.6,454.0 376.2,451.5 376.7,448.8 382.1,447.3"/>
<polygon fill="#F2CBCB" points="346.8,445.6 345.5,443.5 345.0,440.3 345.7,437.4 347.5,436.8 347.9,441.2"/>
<polygon fill="#F76666" points="363.0,491.5 356.8,490.1 358.1,487.3 363.9,486.5 366.6,488.8"/>
<polygon fill="#FA3333" points="350.1,442.4 355.1,440.2 360.8,441.0 359.8,445.5 353.6,445.3"/>
<polygon fill="#4d4d4d" points="370.4,459.5 371.3,458.2 373.8,458.6 374.2,460.4 371.5,460.8"/>
<polygon fill="#FC9633" points="381.3,454.0 382.6,456.1 382.2,457.7 378.4,458.2 375.9,456.5 378.1,454.5"/>
<polygon fill="#FC9633" points="333.0,451.0 335.2,452.7 334.4,457.2 332.0,457.9 330.9,455.8 330.9,451.0"/>
<polygon fill="#FA3333" points="381.8,441.2 383.0,439.2 384.0,438.6 384.8,441.0 384.2,443.9 382.7,444.0"/>
<polygon fill="#4d4d4d" points="368.6,450.6 365.2,450.6 361.2,449.7 363.0,447.7 366.9,446.9 369.1,448.1"/>
<polygon fill="#F76666" points="384.1,471.4 381.3,471.9 380.1,470.5 378.9,466.5 381.7,464.5 385.6,464.3 387.5,468.6"/>
<polygon fill="#FA3333" points="341.3,423.3 341.0,424.7 339.4,425.5 336.9,426.4 335.2,424.3 336.5,422.9 338.7,422.5"/>
<polygon fill="#F76666" points="361.3,504.6 365.2,505.9 368.0,508.9 366.2,513.6 362.6,515.4 360.4,512.2 360.2,507.7"/>
<polygon fill="#F2CBCB" points="343.4,497.6 343.0,499.3 340.7,500.7 337.2,499.2 337.7,497.4 341.1,497.3"/>
<polygon fill="#4d4d4d" points="357.4,459.8 361.1,460.5 360.0,464.3 357.5,465.8 355.0,462.2"/>
<polygon fill="#4d4d4d" points="326.3,453.6 323.1,449.3 331.3,446.9 337.6,450.0 335.5,454.0"/>
<polygon fill="#4d4d4d" points="329.0,494.9 330.5,490.2 332.8,494.0 331.9,499.6 330.2,500.0"/>
<polygon fill="#F76666" points="358.5,455.2 356.3,453.2 355.8,448.7 358.2,446.6 360.4,446.6 362.3,451.1 360.5,453.5"/>
<polygon fill="#F2CBCB" points="375.0,425.1 372.4,424.9 370.3,424.5 371.4,423.1 372.7,422.9 374.7,423.1 375.1,424.1"/>
<polygon fill="#FC9633" points="356.2,460.4 355.1,458.6 357.5,457.8 360.8,458.7 359.7,460.3"/>
<polygon fill="#F76666" points="356.5,490.9 362.2,490.2 367.6,490.9 369.6,492.8 365.6,494.7 358.7,495.7 357.9,493.1"/>
<polygon fill="#F2CBCB" points="340.4,431.1 341.0,435.1 340.3,439.2 339.1,439.8 338.3,436.1 337.6,432.4 339.2,430.4"/>
<polygon fill="#F2CBCB" points="363.5,483.6 364.9,483.8 366.3,486.3 365.0,488.6 363.3,489.0 362.1,486.0"/>
<polygon fill="#F76666" points="354.5,439.5 351.1,440.7 347.5,440.0 348.1,438.3 352.4,438.0"/>
<polygon fill="#FC9633" points="333.9,452.0 332.8,453.4 329.9,453.4 329.5,451.7 329.4,449.9 331.9,449.9 334.5,450.4"/>
<polygon fill="#4d4d4d" points="348.5,473.5 348.7,475.3 348.3,476.8 347.5,478.3 346.8,476.5 346.4,474.6 347.3,472.1"/>
<polygon fill="#FC9633" points="341.1,466.2 336.7,465.8 336.2,462.2 338.3,458.1 341.4,458.7 342.8,463.7"/>
<polygon fill="#F2CBCB" points="375.9,453.3 369.6,451.5 374.8,448.8 379.9,448.9 382.5,452.3"/>
<polygon fill="#FC9633" points="377.1,477.2 380.2,476.7 381.9,480.1 379.5,482.5 376.7,481.2"/>
<polygon fill="#FA3333" points="338.8,474.5 339.2,475.3 339.4,477.6 338.5,478.3 337.5,478.2 337.0,475.8 337.6,473.4"/>
<polygon fill="#F2CBCB" points="383.7,454.3 388.6,453.7 392.8,455.6 391.6,458.5 384.6,458.8 381.0,456.5"/>
<polygon fill="#FC9633" points="376.2,423.3 378.1,426.5 375.0,429.7 370.8,427.2 371.0,423.6"/>
<polygon fill="#F76666" points="370.2,457.6 368.7,458.0 368.1,455.1 369.0,453.5 369.9,454.1"/>
<polygon fill="#F76666" points="346.4,474.5 349.0,475.3 350.8,476.2 349.8,477.6 348.2,477.9 345.9,478.2 344.5,476.3"/>
<polygon fill="#F2CBCB" points="353.7,427.8 355.7,427.4 358.2,428.2 358.6,429.4 357.3,430.4 354.9,430.5 353.9,429.6"/>
<polygon fill="#4d4d4d" points="384.3,448.2 384.4,449.3 383.9,451.3 380.3,450.6 377.8,449.3 380.2,447.3"/>
<polygon fill="#F76666" points="359.1,430.6 361.0,430.4 362.0,432.4 362.0,433.8 359.9,435.7 358.5,434.2 358.4,432.2"/>
<polygon fill="#F76666" points="356.9,464.8 359.3,462.9 361.6,463.3 363.8,465.8 362.8,470.3 360.1,470.3 357.3,468.5"/>
<polygon fill="#F2CBCB" points="328.0,428.9 329.7,431.0 330.6,438.0 328.3,438.5 326.3,435.4"/>
<polygon fill="#4d4d4d" points="385.6,431.2 383.7,432.4 379.9,433.8 377.6,431.7 379.1,429.1 382.2,429.0 385.3,429.1"/>
<polygon fill="#F76666" points="338.0,454.6 342.3,456.9 343.9,459.3 338.2,460.5 332.4,459.4 333.5,457.0"/>
<polygon fill="#F76666" points="363.4,472.6 364.5,473.7 364.7,477.1 362.1,477.1 360.5,475.8 361.1,472.1"/>
<polygon fill="#FC9633" points="379.8,457.0 381.8,456.6 382.8,459.3 382.0,462.2 379.0,461.3"/>
<polygon fill="#4d4d4d" points="361.4,435.4 361.2,438.8 359.0,438.5 357.6,437.0 356.9,434.2 358.4,432.2 360.5,432.7"/>
<polygon fill="#F76666" points="364.9,517.7 367.7,517.5 367.4,520.1 367.0,522.3 364.6,522.7 362.9,520.8 363.6,518.8"/>
<polygon fill="#F76666" points="374.5,468.7 376.9,469.6 376.9,472.2 375.4,475.1 373.2,474.9 371.3,472.1 371.7,469.0"/>
<polygon fill="#F76666" points="372.7,505.2 368.6,503.8 368.9,499.5 373.4,498.2 374.3,502.8"/>
<polygon fill="#FC9633" points="331.7,450.5 330.8,447.0 331.5,443.0 333.0,444.4 334.2,447.5 333.1,451.7"/>
<polygon fill="#FC9633" points="383.1,430.6 384.6,430.7 384.9,432.6 383.6,434.0 382.1,433.8 381.0,432.7 382.0,431.2"/>
<polygon fill="#F2CBCB" points="394.2,494.4 395.2,496.2 394.2,497.1 389.2,497.4 389.0,496.0 389.8,494.6"/>
<polygon fill="#F2CBCB" points="446.5,502.1 446.5,500.1 450.4,499.1 453.1,499.6 453.9,501.4 453.8,502.8 449.8,503.3"/>
<polygon fill="#F29999" points="439.6,445.9 445.0,446.3 444.0,449.1 441.0,450.0 438.2,448.5"/>
<polygon fill="#F76666" points="408.5,464.2 407.5,462.2 407.5,460.9 410.0,460.0 411.7,461.7 410.5,464.1"/>
<polygon fill="#F29999" points="406.2,519.9 406.2,522.1 405.3,522.7 403.9,523.2 403.6,521.1 404.2,519.0 405.3,519.1"/>
<polygon fill="#F76666" points="404.3,448.3 407.1,447.1 410.6,448.8 408.0,451.5 405.1,452.2"/>
<polygon fill="#F29999" points="452.1,503.4 448.6,504.2 447.4,502.3 448.2,500.4 450.8,499.9 452.5,501.8"/>
<polygon fill="#F76666" points="401.0,505.1 399.7,505.8 398.4,505.0 397.9,504.0 399.5,503.7 400.8,503.7 401.9,504.3"/>
<polygon fill="#F2CBCB" points="443.5,491.9 442.7,493.5 441.8,494.3 440.4,493.7 440.1,492.4 441.0,490.8 442.1,490.6"/>
<polygon fill="#F2CBCB" points="438.0,441.5 436.0,443.8 433.1,444.5 430.6,442.4 432.1,440.3 435.0,439.7"/>
<polygon fill="#F2CBCB" points="448.8,453.2 450.0,454.8 450.9,457.0 449.7,459.5 447.6,459.6 446.0,456.7 446.7,453.7"/>
<polygon fill="#F76666" points="413.9,481.2 411.7,480.0 412.1,474.4 414.4,473.8 415.5,478.3"/>
<polygon fill="#F2CBCB" points="404.9,486.0 407.5,485.8 408.6,486.8 408.3,488.1 406.0,488.8 403.7,487.4"/>
<polygon fill="#F76666" points="393.2,514.1 394.7,511.9 395.9,514.3 395.8,518.3 393.7,519.1"/>
<polygon fill="#F29999" points="402.4,523.3 400.7,524.6 398.2,524.6 396.2,524.1 396.6,522.8 399.4,522.3"/>
<polygon fill="#F2CBCB" points="446.9,429.9 446.4,426.8 446.8,422.7 448.7,421.8 449.7,425.7 449.4,428.7 448.6,432.3"/>
<polygon fill="#F2CBCB" points="418.9,427.0 419.2,429.2 418.2,430.8 417.0,429.9 416.1,427.8 417.5,427.1"/>
<polygon fill="#F76666" points="436.9,486.0 439.5,485.6 440.1,487.5 439.5,488.7 436.7,489.3 435.1,487.2"/>
<polygon fill="#F76666" points="428.6,493.6 427.3,493.2 427.5,491.2 429.1,490.8 430.3,492.7"/>
<polygon fill="#F76666" points="416.0,513.4 416.9,515.6 413.0,516.6 411.7,514.4 413.2,512.6"/>
<polygon fill="#F2CBCB" points="445.0,439.8 447.1,441.2 445.9,443.3 443.5,443.1 442.4,441.1"/>
<polygon fill="#F29999" points="441.7,448.4 444.0,447.2 447.2,447.9 448.4,449.1 445.4,450.9 442.3,450.3"/>
<polygon fill="#F76666" points="398.7,438.9 401.9,438.7 404.2,439.6 404.0,441.2 402.1,441.7 398.7,442.0 397.1,440.5"/>
<polygon fill="#F76666" points="451.0,461.5 453.5,463.0 452.2,464.5 448.0,464.3 448.7,462.3"/>
<polygon fill="#F2CBCB" points="413.9,472.5 414.0,471.2 415.4,470.6 417.2,470.7 418.6,472.3 417.5,473.6 414.9,473.2"/>
<polygon fill="#F76666" points="388.6,490.3 385.9,490.1 384.7,488.6 386.3,487.2 388.1,485.9 390.1,487.7 390.9,489.5"/>
<polygon fill="#F2CBCB" points="447.0,447.9 448.6,446.6 452.6,446.3 455.2,448.0 452.8,449.1 448.3,448.9"/>
<polygon fill="#F2CBCB" points="442.1,506.8 440.3,507.5 438.2,506.5 437.4,504.9 438.1,502.3 440.8,503.2 443.1,504.4"/>
<polygon fill="#F2CBCB" points="430.1,446.5 428.2,446.1 428.5,444.4 430.5,444.0 431.8,445.6"/>
<polygon fill="#F2CBCB" points="446.8,505.1 443.6,506.4 440.0,505.4 441.6,503.3 444.7,502.6"/>
<polygon fill="#F2CBCB" points="435.2,504.4 435.5,502.1 436.1,501.0 437.2,501.3 437.5,503.7 436.7,504.1"/>
<polygon fill="#F2CBCB" points="422.0,470.5 421.4,467.1 424.5,466.8 425.7,469.8 423.8,472.7"/>
<polygon fill="#F2CBCB" points="392.8,494.1 396.9,496.0 396.8,499.1 392.9,500.8 389.8,497.5"/>
<polygon fill="#F76666" points="403.2,457.3 404.9,460.4 405.2,466.3 402.9,466.5 402.0,462.9"/>
<polygon fill="#F2CBCB" points="414.2,495.8 416.7,495.8 417.3,497.9 415.6,499.5 413.0,497.8"/>
<polygon fill="#F2CBCB" points="389.6,475.3 390.0,477.7 388.6,479.1 386.9,479.1 386.7,476.6 387.7,475.5"/>
<polygon fill="#F76666" points="446.1,462.2 443.9,460.8 445.3,459.5 449.5,459.6 449.7,461.5"/>
<polygon fill="#F2CBCB" points="442.0,489.5 439.6,489.9 437.2,489.0 439.3,487.8 441.9,488.4"/>
<polygon fill="#F29999" points="436.6,503.7 439.8,503.8 441.3,504.7 438.8,505.6 436.2,505.3"/>
<polygon fill="#F2CBCB" points="415.9,518.4 417.3,519.7 415.6,520.1 413.4,520.7 412.1,519.5 413.7,518.4 415.0,517.6"/>
<polygon fill="#F2CBCB" points="415.0,447.8 416.2,449.9 416.5,452.1 415.5,454.2 414.2,453.9 413.6,451.7 413.8,449.8"/>
<polygon fill="#F76666" points="411.1,478.0 411.8,476.8 413.9,476.3 416.0,476.8 415.8,478.2 415.0,479.0 412.3,478.6"/>
<polygon fill="#F2CBCB" points="398.9,504.6 396.7,503.8 396.5,501.8 398.6,500.1 400.1,501.4 401.9,502.3 401.1,504.0"/>
<polygon fill="#F76666" points="439.1,466.8 439.4,462.0 441.2,460.8 441.9,466.2 440.4,469.5"/>
<polygon fill="#F29999" points="406.7,462.8 405.7,460.1 405.8,457.5 407.9,457.5 408.3,460.8"/>
<polygon fill="#F76666" points="442.0,475.6 437.9,476.3 436.9,474.6 437.1,472.9 440.4,471.9 443.6,473.3 445.2,474.6"/>
<polygon fill="#F29999" points="435.3,459.4 435.7,456.2 437.1,456.5 438.0,457.3 438.1,459.6 437.4,462.1 436.1,462.0"/>
<polygon fill="#F76666" points="437.5,465.3 439.8,466.5 438.7,468.2 434.0,468.4 434.1,465.8"/>
<polygon fill="#F76666" points="402.0,508.5 403.0,510.3 403.7,512.4 402.9,515.4 401.9,514.3 401.3,511.9"/>
<polygon fill="#F76666" points="391.4,501.5 393.4,500.9 394.8,502.2 394.3,503.4 392.3,504.1 391.3,502.8"/>
<polygon fill="#FC8214" points="447.5,533.6 446.0,533.2 445.2,531.3 446.4,528.5 447.8,528.8 448.5,531.7"/>
<polygon fill="#998509" points="407.3,544.7 411.8,544.0 414.8,545.5 412.9,546.8 407.9,547.0"/>
<polygon fill="#F2CBCB" points="404.4,545.5 402.8,546.5 402.1,543.7 402.4,539.8 403.8,539.5 405.2,541.1 405.4,544.1"/>
<polygon fill="#FCAB52" points="437.9,537.2 434.6,537.6 432.2,536.2 434.7,534.6 439.0,535.1"/>
<polygon fill="#F2CBCB" points="369.4,530.4 369.8,528.8 372.4,528.5 375.3,528.9 375.3,530.3 374.3,531.4 370.8,530.9"/>
<polygon fill="#FFD68F" points="387.0,523.9 389.1,523.6 389.2,525.0 389.0,526.9 387.5,526.9 386.4,526.3 386.0,524.6"/>
<polygon fill="#FC8214" points="440.4,564.3 439.2,562.7 442.7,561.6 445.3,563.2 443.3,564.6"/>
<polygon fill="#FFD68F" points="443.8,569.6 442.6,567.8 443.3,564.2 444.3,562.5 445.4,564.3 445.6,567.5 444.9,569.5"/>
<polygon fill="#F2CBCB" points="411.5,533.1 414.9,531.1 417.5,530.1 419.8,533.8 419.3,538.2 415.6,538.3 411.9,537.1"/>
<polygon fill="#F2CBCB" points="421.3,564.7 418.4,566.4 414.9,565.0 416.2,560.4 421.0,561.5"/>
<polygon fill="#FC8214" points="415.8,585.8 421.1,583.4 426.8,586.3 423.5,588.8 415.8,589.1"/>
<polygon fill="#FC8214" points="417.2,551.0 414.9,547.5 415.6,543.1 418.4,544.2 418.6,547.4"/>
<polygon fill="#F2CBCB" points="434.9,544.2 435.4,546.9 432.9,548.1 430.7,547.0 430.6,544.5 431.0,543.1 434.1,541.6"/>
<polygon fill="#998509" points="370.1,532.1 369.5,529.0 374.0,527.3 378.4,529.9 377.7,533.0 373.3,534.1"/>
<polygon fill="#F2CBCB" points="377.1,527.8 380.6,526.5 382.8,529.8 380.7,533.9 376.2,533.2"/>
<polygon fill="#998509" points="429.2,543.8 428.3,540.5 427.6,535.5 429.5,532.8 431.1,535.1 432.6,538.7 431.1,542.6"/>
<polygon fill="#FFD68F" points="431.6,528.6 433.2,531.3 430.1,535.0 427.5,533.4 426.5,530.7 426.5,528.1 429.7,527.6"/>
<polygon fill="#FC8214" points="411.0,540.0 410.4,542.6 408.9,541.2 408.3,539.3 408.9,536.2 410.0,536.6 411.1,537.0"/>
<polygon fill="#FCAB52" points="427.4,546.1 428.1,548.8 423.0,549.0 421.6,547.0 422.9,545.1"/>
<polygon fill="#FFD68F" points="449.3,530.5 448.0,528.8 450.2,526.5 455.5,527.8 453.8,530.5"/>
<polygon fill="#F2CBCB" points="381.4,548.7 377.6,548.8 376.8,544.5 379.6,541.5 382.9,544.4"/>
<polygon fill="#FCAB52" points="437.8,590.9 435.6,589.6 434.0,588.0 436.7,586.8 438.7,587.3 439.0,589.1"/>
<polygon fill="#FC8214" points="423.5,551.4 420.8,552.7 418.1,552.0 414.8,548.8 418.0,546.1 420.9,543.6 422.7,546.7"/>
<polygon fill="#4d4d4d" points="412.5,570.5 414.4,567.7 416.6,568.0 418.2,571.5 416.5,575.8 414.0,574.1"/>
<polygon fill="#FC8214" points="356.3,527.0 353.1,525.1 356.9,523.3 362.2,523.4 361.6,526.5"/>
<polygon fill="#FC8214" points="436.9,544.9 440.2,545.6 440.6,547.4 438.1,548.3 434.4,547.7 433.0,546.5"/>
<polygon fill="#F2CBCB" points="435.8,562.0 433.1,564.6 430.0,561.9 430.3,558.4 433.3,556.6 436.1,558.7"/>
<polygon fill="#F2CBCB" points="398.7,551.3 398.0,542.2 400.8,537.9 402.8,544.2 402.3,550.9"/>
<polygon fill="#F2CBCB" points="450.4,550.4 449.9,552.7 448.5,550.9 448.0,548.9 449.3,546.7 450.7,547.8"/>
<polygon fill="#FCAB52" points="422.2,590.2 425.3,587.2 428.3,589.7 427.6,594.6 423.9,596.2"/>
<polygon fill="#FC8214" points="389.8,551.7 389.6,555.7 388.4,557.9 386.6,554.6 387.0,551.1 388.6,548.8"/>
<polygon fill="#FCAB52" points="416.6,587.6 415.0,585.3 416.5,581.1 418.9,582.1 419.2,587.8"/>
<polygon fill="#FCAB52" points="431.8,566.0 433.5,565.3 435.0,565.9 436.4,568.3 435.5,572.4 433.6,573.6 431.8,570.4"/>
<polygon fill="#FFD68F" points="424.8,538.4 420.8,538.3 417.9,535.4 420.4,532.8 423.9,531.7 427.9,533.7 426.3,536.3"/>
<polygon fill="#FFD68F" points="380.9,543.9 381.5,545.7 379.9,547.5 375.7,547.4 374.5,545.7 374.1,543.6 377.8,543.7"/>
<polygon fill="#FC8214" points="438.9,529.8 440.4,532.2 439.1,535.3 432.5,535.3 428.4,532.2 432.1,529.3"/>
<polygon fill="#998509" points="443.4,552.8 442.8,551.4 443.6,549.7 445.6,550.2 447.0,551.8 445.5,553.3"/>
<polygon fill="#FCAB52" points="404.9,534.3 404.7,537.9 402.1,538.3 397.5,537.5 398.7,535.1 399.2,533.5 403.7,531.6"/>
<polygon fill="#998509" points="436.8,577.4 439.6,582.6 436.5,586.6 433.2,584.8 433.0,578.2"/>
<polygon fill="#998509" points="437.1,587.9 439.2,589.1 438.5,591.1 436.3,591.5 435.8,589.1"/>
<polygon fill="#FC8214" points="428.0,543.9 423.4,547.4 419.2,546.9 415.4,544.3 418.5,540.6 424.1,540.1"/>
<polygon fill="#FC8214" points="446.7,556.2 448.5,553.4 450.7,554.4 452.5,556.0 451.6,558.2 450.0,560.0 447.2,558.3"/>
<polygon fill="#FC8214" points="432.1,587.0 430.4,589.5 428.0,590.8 427.0,586.5 427.4,583.5 430.6,584.0"/>
<polygon fill="#FC8214" points="422.6,534.6 421.7,533.1 422.4,531.2 424.3,531.4 425.0,532.0 426.1,533.7 424.4,534.6"/>
<polygon fill="#F2CBCB" points="400.9,563.5 396.3,561.4 396.0,558.7 402.3,558.4 405.4,559.6 405.6,561.6"/>
<polygon fill="#FFD68F" points="399.8,564.0 401.9,564.6 402.2,566.7 400.2,568.3 397.5,566.8 398.2,565.0"/>
<polygon fill="#FC8214" points="405.2,564.3 404.5,568.6 402.1,569.9 399.9,567.4 400.7,563.2 402.6,562.5"/>
<polygon fill="#FC8214" points="430.0,535.2 428.1,538.3 424.6,539.6 419.8,538.0 419.6,535.3 421.5,533.1 426.8,532.8"/>
<polygon fill="#FC8214" points="448.9,544.9 444.7,545.5 443.2,542.9 444.0,540.6 447.9,540.3 450.2,542.4"/>
<polygon fill="#FC8214" points="430.4,575.4 429.8,577.2 428.4,579.0 427.1,575.7 428.1,572.7 429.8,572.7"/>
<polygon fill="#FC8214" points="399.9,546.4 400.6,550.4 396.0,553.9 391.7,549.8 394.5,546.9"/>
<polygon fill="#F2CBCB" points="411.3,558.5 410.4,555.6 410.7,552.6 412.3,551.9 414.2,552.9 413.8,555.6 413.0,557.9"/>
<polygon fill="#FCAB52" points="431.5,539.7 436.8,540.0 437.0,542.9 432.4,544.5 428.4,542.7 427.7,540.9"/>
<polygon fill="#FCAB52" points="437.7,547.2 441.8,544.9 449.5,545.4 449.0,548.3 442.6,550.5"/>
<polygon fill="#F2CBCB" points="440.0,527.2 442.3,528.0 442.3,529.4 440.3,530.3 437.9,529.4 437.1,528.3"/>
<polygon fill="#F2CBCB" points="409.3,544.0 406.9,541.3 411.2,538.4 414.5,537.9 418.1,541.0 416.4,543.8 413.3,544.8"/>
<polygon fill="#F2CBCB" points="374.8,529.7 375.1,533.3 373.2,534.9 371.1,533.8 370.1,530.7 372.0,528.0 373.7,527.7"/>
<polygon fill="#FC8214" points="435.9,584.3 435.3,577.5 437.0,574.9 441.6,577.0 439.8,580.9"/>
<polygon fill="#F2CBCB" points="387.1,548.5 389.1,550.6 388.3,556.0 385.7,555.2 384.9,550.3"/>
<polygon fill="#F2CBCB" points="438.5,565.5 435.4,564.4 436.3,563.3 438.9,563.0 442.2,563.1 443.0,564.1 440.7,564.8"/>
<polygon fill="#998509" points="410.6,551.4 409.7,553.0 406.2,554.2 405.1,551.8 405.5,549.4 407.3,546.9 409.5,548.5"/>
<polygon fill="#FC8214" points="410.6,547.1 414.6,545.2 417.4,548.8 417.5,553.6 414.2,555.6 411.6,552.0"/>
<polygon fill="#F2CBCB" points="423.0,553.2 428.3,552.4 431.8,554.3 428.0,555.7 424.2,555.2"/>
<polygon fill="#FFD68F" points="370.0,532.2 369.0,529.4 369.5,526.9 372.4,527.1 371.9,530.5"/>
<polygon fill="#FC8214" points="438.1,566.0 444.5,566.5 446.9,569.5 443.5,571.2 436.9,571.0 436.8,569.1"/>
<polygon fill="#4d4d4d" points="423.4,573.8 426.5,576.3 424.3,578.4 418.8,578.9 414.2,576.5 418.2,574.5"/>
<polygon fill="#FCAB52" points="383.7,538.2 379.3,540.3 377.2,537.2 377.4,533.9 381.0,531.8 383.4,535.2"/>
<polygon fill="#FFD68F" points="417.9,558.4 419.9,557.4 420.4,561.6 419.3,563.6 417.2,563.1"/>
<polygon fill="#FC8214" points="431.6,550.9 431.6,553.3 427.0,555.2 421.4,553.1 425.3,550.4"/>
<polygon fill="#F2CBCB" points="445.1,527.2 443.4,527.7 441.3,527.0 441.1,525.3 442.6,524.3 444.8,524.5 446.1,525.6"/>
<polygon fill="#F76666" points="306.2,603.5 304.4,605.9 302.2,604.9 301.2,601.6 305.2,600.2"/>
<polygon fill="#F76666" points="266.4,525.5 267.1,526.8 265.5,528.1 263.8,527.2 263.0,525.8 264.9,524.6"/>
<polygon fill="#B56B5E" points="295.9,601.0 297.5,602.3 297.8,604.2 296.0,606.4 294.4,604.1 294.0,602.3"/>
<polygon fill="#F76666" points="249.5,497.9 250.9,498.3 251.9,499.0 251.0,500.3 249.6,500.2 248.4,499.3"/>
<polygon fill="#B56B5E" points="299.5,590.4 302.3,590.7 303.8,592.6 300.3,593.6 297.4,592.2"/>
<polygon fill="#F2CBCB" points="302.7,609.4 301.4,610.3 300.4,609.1 300.6,607.1 302.0,607.4 303.6,608.0"/>
<polygon fill="#FCAB52" points="254.2,500.9 256.5,503.9 255.8,507.8 253.9,509.3 251.5,508.0 251.7,503.9"/>
<polygon fill="#FCAB52" points="293.9,601.9 291.7,602.2 290.0,601.0 290.4,599.4 292.0,599.0 294.1,599.1 295.6,600.4"/>
<polygon fill="#F76666" points="256.4,505.0 256.2,506.4 255.7,507.6 254.7,507.1 254.1,506.3 254.0,504.7 255.1,503.9"/>
<polygon fill="#FCAB52" points="268.6,540.6 270.6,538.0 272.7,539.5 274.9,541.5 272.1,544.3 269.5,543.3"/>
<polygon fill="#F76666" points="279.5,544.2 281.9,546.1 280.6,548.4 278.3,549.8 274.7,548.7 274.4,546.1 276.3,544.0"/>
<polygon fill="#F76666" points="306.5,608.7 305.7,608.0 305.4,606.9 307.4,606.5 309.4,607.2 309.1,608.0 308.6,608.7"/>
<polygon fill="#FCAB52" points="295.1,596.7 294.2,599.3 292.5,600.4 291.3,597.1 292.6,593.7 294.1,592.7"/>
<polygon fill="#FCAB52" points="289.5,584.4 291.5,583.3 293.3,582.7 295.7,583.8 295.8,584.6 293.7,585.7 291.8,585.0"/>
<polygon fill="#FCAB52" points="249.8,500.0 251.2,500.8 250.0,501.8 246.8,501.4 246.7,499.9"/>
<polygon fill="#F2CBCB" points="249.8,490.0 251.4,492.5 247.6,494.7 243.6,492.3 245.4,489.3"/>
<polygon fill="#F2CBCB" points="296.6,592.6 295.2,588.5 297.1,585.4 299.2,586.2 300.0,590.0 298.4,591.6"/>
<polygon fill="#FCAB52" points="294.5,596.5 295.9,595.1 297.0,596.5 296.7,598.0 295.2,598.1"/>
<polygon fill="#FCAB52" points="304.8,607.9 304.8,605.7 305.5,603.5 306.2,603.5 307.0,605.8 306.6,608.3 305.9,609.6"/>
<polygon fill="#F76666" points="300.6,602.3 301.0,605.9 299.7,607.1 297.8,607.9 297.9,603.8 298.9,602.6"/>
<polygon fill="#F76666" points="305.0,605.9 306.4,606.6 306.8,611.7 304.8,612.7 304.0,609.3"/>
<polygon fill="#FCAB52" points="301.9,599.8 304.1,598.5 305.3,600.4 304.8,602.4 303.3,603.5 301.9,601.6"/>
<polygon fill="#F2CBCB" points="289.6,575.6 289.3,579.6 288.2,581.2 287.0,580.3 286.9,576.6 287.9,575.5"/>
<polygon fill="#F76666" points="296.9,593.1 298.8,594.0 298.8,595.1 297.1,596.1 293.6,596.0 292.2,594.6 294.3,593.4"/>
<polygon fill="#F2CBCB" points="294.3,586.3 296.1,583.4 299.1,584.2 298.6,587.9 296.4,589.6"/>
<polygon fill="#F76666" points="287.5,577.4 287.7,574.8 289.1,574.9 289.8,576.8 289.4,578.7 287.9,579.1"/>
<polygon fill="#FCAB52" points="300.4,595.0 300.8,597.6 299.8,599.3 299.1,597.3 299.2,594.3"/>
<polygon fill="#F2CBCB" points="261.6,524.0 262.9,523.5 263.7,524.5 264.1,526.3 262.5,527.2 261.6,526.0"/>
<polygon fill="#FCAB52" points="289.7,581.1 287.9,580.9 287.8,579.5 289.8,578.8 291.4,580.2"/>
<polygon fill="#B56B5E" points="296.1,592.8 293.3,592.9 292.7,591.6 294.8,590.4 297.9,591.4"/>
<polygon fill="#B56B5E" points="284.9,586.1 286.3,584.0 289.9,584.9 293.3,586.5 291.2,588.3 288.1,589.4 284.1,588.5"/>
<polygon fill="#F76666" points="287.6,577.2 289.3,576.2 292.3,576.4 293.0,577.7 291.4,578.9 289.0,578.7"/>
<polygon fill="#F76666" points="303.9,608.4 305.1,606.1 306.2,605.4 307.1,608.1 306.3,610.4 305.0,612.5"/>
<polygon fill="#F76666" points="293.7,584.0 296.3,585.1 296.7,586.6 294.6,587.7 291.6,586.8 290.0,586.1 291.7,584.5"/>
<polygon fill="#F2CBCB" points="257.3,506.2 256.6,508.4 255.5,509.2 254.1,508.4 253.6,506.9 255.2,506.2"/>
<polygon fill="#FCAB52" points="290.4,576.7 291.1,581.1 289.0,582.1 286.8,581.0 287.3,576.3 289.1,575.3"/>
<polygon fill="#F2CBCB" points="253.2,500.2 254.0,501.8 253.2,502.6 252.1,503.3 251.3,501.7 252.0,500.1"/>
<polygon fill="#F2CBCB" points="295.3,607.8 295.2,606.5 297.0,604.8 299.1,606.6 298.2,608.1 296.8,609.3"/>
<polygon fill="#F76666" points="301.8,601.5 300.5,601.2 299.5,600.3 300.3,598.5 301.5,598.6 302.0,600.1"/>
<polygon fill="#FCAB52" points="303.6,605.1 304.1,606.7 301.7,607.7 299.6,607.2 297.7,606.2 299.4,604.4 301.2,603.9"/>
<polygon fill="#F2CBCB" points="525.2,533.1 523.4,532.6 522.7,530.8 525.3,530.1 527.5,531.6"/>
<polygon fill="#F29999" points="545.4,518.5 547.4,517.2 551.5,517.7 553.0,518.5 550.4,519.5 547.7,519.9"/>
<polygon fill="#F2CBCB" points="465.1,505.7 465.0,509.4 464.0,511.2 461.8,511.7 460.2,508.5 462.4,504.9"/>
<polygon fill="#F2CBCB" points="505.8,455.6 504.3,454.2 505.2,452.4 508.0,451.6 510.2,453.7 508.9,456.2"/>
<polygon fill="#F2CBCB" points="459.6,478.7 460.6,480.3 460.4,483.0 459.0,484.4 458.3,481.8 458.7,478.9"/>
<polygon fill="#F2CBCB" points="534.1,504.8 534.0,506.8 533.3,508.3 532.6,507.1 532.8,504.2 533.3,503.1"/>
<polygon fill="#F2CBCB" points="532.4,533.8 530.1,533.5 528.8,532.3 530.2,531.1 532.6,529.7 533.5,531.5 533.6,533.3"/>
<polygon fill="#F2CBCB" points="513.1,492.4 510.8,491.5 510.2,489.2 513.3,488.9 515.2,489.7 516.4,491.2"/>
<polygon fill="#F2CBCB" points="465.3,549.7 465.0,552.5 463.8,553.3 462.3,552.9 461.2,550.2 462.8,548.5 464.4,547.2"/>
<polygon fill="#F29999" points="454.9,456.1 456.7,456.6 457.2,458.8 455.8,460.8 453.9,460.5 453.4,459.1 453.0,456.7"/>
<polygon fill="#F2CBCB" points="459.2,470.7 458.9,468.6 459.7,465.8 462.7,466.4 464.7,469.4 462.1,471.0"/>
<polygon fill="#FC9633" points="491.5,544.0 491.4,546.1 490.6,548.2 488.4,548.3 487.2,546.4 486.4,544.8 489.1,544.2"/>
<polygon fill="#FC9633" points="548.5,521.3 550.5,521.5 551.3,522.2 550.1,523.2 547.8,522.9 547.1,522.5 546.2,521.6"/>
<polygon fill="#F2CBCB" points="550.4,497.3 549.4,495.5 549.8,493.3 551.9,493.5 553.9,494.8 552.8,496.7"/>
<polygon fill="#F29999" points="525.3,529.0 526.9,527.1 528.4,529.5 529.1,532.5 527.1,535.7 525.6,533.5"/>
<polygon fill="#FC9633" points="549.2,525.2 547.4,524.0 547.6,522.2 549.4,522.0 550.3,523.5"/>
<polygon fill="#F2CBCB" points="463.5,424.0 463.2,421.7 469.0,421.0 471.7,422.9 469.1,425.1"/>
<polygon fill="#F29999" points="552.2,544.4 555.9,545.1 556.0,546.6 551.7,547.2 548.4,547.7 546.4,545.7 547.7,543.8"/>
<polygon fill="#F2CBCB" points="495.6,527.9 501.5,526.9 503.5,528.7 502.7,530.8 496.6,530.0"/>
<polygon fill="#FC9633" points="511.2,497.5 512.6,498.6 512.7,500.6 511.3,501.7 510.2,500.2 510.3,498.8"/>
<polygon fill="#F2CBCB" points="491.8,544.2 489.3,543.3 489.2,542.1 492.2,540.9 494.9,542.0 495.3,543.4"/>
<polygon fill="#F29999" points="508.6,505.4 512.4,504.4 514.8,505.6 513.8,508.2 510.1,508.5"/>
<polygon fill="#F29999" points="523.5,446.9 522.7,451.4 521.4,452.5 520.1,451.0 519.1,446.0 521.2,443.2"/>
<polygon fill="#F2CBCB" points="459.6,478.6 461.5,480.0 460.9,482.1 460.5,483.6 458.9,483.4 458.2,482.1 458.3,480.0"/>
<polygon fill="#F2CBCB" points="464.6,424.5 466.6,423.9 469.1,424.9 468.1,426.0 465.9,426.2 463.6,425.7"/>
<polygon fill="#F29999" points="501.9,508.6 501.5,512.3 498.0,511.8 497.7,508.6 500.1,507.3"/>
<polygon fill="#F2CBCB" points="465.3,483.1 464.1,484.4 460.6,484.7 457.5,484.4 457.7,482.4 460.0,481.7 462.8,481.9"/>
<polygon fill="#F2CBCB" points="511.0,424.7 510.5,427.7 509.4,427.3 508.6,426.1 508.6,423.4 510.3,423.3"/>
<polygon fill="#F2CBCB" points="495.4,524.8 495.5,522.8 496.5,521.7 498.0,522.2 498.2,524.0 497.1,525.6"/>
<polygon fill="#FC9633" points="477.4,442.8 480.4,440.7 483.7,441.8 484.1,443.8 480.2,444.9"/>
<polygon fill="#F29999" points="460.6,462.6 462.9,460.9 464.9,463.1 465.7,465.5 463.7,466.2 460.7,466.7 460.5,464.7"/>
<polygon fill="#F2CBCB" points="486.1,499.7 484.1,499.1 483.5,494.3 485.5,490.4 486.8,495.2"/>
<polygon fill="#F29999" points="506.3,495.2 503.0,495.6 500.2,493.5 500.3,491.7 504.2,490.4 507.5,491.3 507.2,493.4"/>
<polygon fill="#FC9633" points="534.2,473.9 536.6,473.1 538.8,474.2 536.9,475.4 534.8,474.8"/>
<polygon fill="#FC9633" points="493.3,502.0 490.9,500.4 494.6,498.5 498.4,500.0 497.4,502.0"/>
<polygon fill="#F2CBCB" points="519.4,458.4 519.9,459.7 518.9,462.0 517.2,461.3 515.4,461.0 515.2,458.7 517.4,456.9"/>
<polygon fill="#F29999" points="456.7,487.3 457.2,484.0 458.6,484.1 459.9,485.2 460.5,487.3 459.0,488.9 457.4,489.2"/>
<polygon fill="#F29999" points="522.0,525.6 520.9,520.9 521.7,517.7 523.8,517.2 524.1,523.9"/>
<polygon fill="#FC9633" points="455.3,472.8 452.5,472.4 453.0,470.5 454.3,469.5 456.8,469.5 458.4,470.8 457.4,472.6"/>
<polygon fill="#F29999" points="503.1,457.9 500.0,457.2 500.3,455.4 502.1,453.9 505.4,454.3 505.6,456.8"/>
<polygon fill="#FC9633" points="545.3,459.6 544.5,462.0 541.8,462.6 541.9,459.8 543.2,457.9"/>
<polygon fill="#F29999" points="463.6,533.1 460.6,533.6 458.6,532.8 459.9,531.4 462.3,531.8"/>
<polygon fill="#FC9633" points="533.2,471.0 533.7,469.2 535.0,468.6 535.6,471.0 535.2,473.7 534.4,474.8 532.8,473.7"/>
<polygon fill="#FC9633" points="501.1,459.4 499.3,459.9 498.4,458.5 499.0,456.9 500.8,456.7 501.7,458.1"/>
<polygon fill="#F29999" points="495.7,478.5 495.5,480.7 494.4,480.2 493.8,478.8 494.2,476.8 495.4,476.7"/>
<polygon fill="#F29999" points="468.9,449.5 472.2,448.5 475.2,450.3 475.5,452.1 471.5,452.2 467.4,452.0 464.6,450.8"/>
<polygon fill="#F29999" points="529.1,547.5 528.1,546.2 528.5,545.1 532.2,545.0 532.8,546.0 532.0,547.4"/>
<polygon fill="#F2CBCB" points="519.9,518.4 518.0,517.0 516.9,512.3 518.5,509.0 520.1,508.5 520.8,513.4"/>
<polygon fill="#FC9633" points="522.5,483.2 521.4,478.5 523.3,474.1 525.8,476.9 525.0,481.2"/>
<polygon fill="#F2CBCB" points="537.3,492.5 538.2,489.6 539.2,491.9 539.3,495.4 537.7,495.5"/>
<polygon fill="#FC8214" points="531.9,572.5 534.2,570.8 539.3,569.2 544.6,570.8 546.5,573.2 541.0,575.5 535.9,574.7"/>
<polygon fill="#4d4d4d" points="511.9,562.2 510.7,560.5 512.9,557.9 518.1,558.6 517.8,561.1 516.7,563.7"/>
<polygon fill="#F2CBCB" points="487.2,600.4 486.8,598.1 492.0,596.9 494.2,598.8 494.7,601.3 490.4,602.5"/>
<polygon fill="#4d4d4d" points="545.4,624.3 547.0,626.6 542.7,627.1 540.5,625.7 542.2,624.0"/>
<polygon fill="#F2CBCB" points="520.5,604.9 523.6,603.2 526.3,606.3 524.7,611.4 521.9,610.9"/>
<polygon fill="#FCAB52" points="511.4,555.6 512.9,555.4 514.5,558.5 513.6,562.2 511.6,561.7 510.6,561.3 510.2,557.7"/>
<polygon fill="#FCAB52" points="521.8,577.8 523.3,578.9 522.6,581.9 520.1,582.1 518.1,580.5 518.4,577.0"/>
<polygon fill="#F29999" points="494.0,587.4 495.5,584.6 498.1,582.1 500.8,585.5 498.9,589.5 497.1,589.0"/>
<polygon fill="#F2CBCB" points="556.1,640.4 554.9,643.2 553.7,643.6 553.4,641.1 553.8,639.1 555.1,638.2"/>
<polygon fill="#FCAB52" points="533.2,626.5 532.7,629.6 530.4,632.1 525.9,630.9 524.7,628.4 526.2,625.8 529.7,623.9"/>
<polygon fill="#FCAB52" points="551.7,596.7 553.8,598.4 554.4,601.2 553.2,604.0 551.5,603.5 551.0,600.1"/>
<polygon fill="#4d4d4d" points="542.1,596.0 541.4,594.5 542.8,592.8 544.4,594.3 543.8,596.3"/>
<polygon fill="#F29999" points="468.9,582.1 469.5,580.2 471.1,580.4 471.7,581.9 471.2,583.9 469.8,583.4"/>
<polygon fill="#FFD68F" points="549.0,601.2 546.7,604.6 542.4,604.9 539.2,602.0 542.2,599.0 546.9,598.7"/>
<polygon fill="#FFD68F" points="437.8,575.6 441.2,571.5 445.2,573.4 447.6,577.5 443.5,581.3 439.3,579.7"/>
<polygon fill="#F2CBCB" points="500.2,553.3 502.3,551.9 504.9,553.1 504.4,555.8 502.4,557.1 500.5,555.5"/>
<polygon fill="#F2CBCB" points="523.5,595.8 522.1,591.9 522.3,588.6 523.9,586.2 525.3,586.9 525.4,591.4 524.6,593.1"/>
<polygon fill="#FCAB52" points="549.9,607.1 551.4,609.4 551.9,611.2 548.4,612.1 544.5,610.9 543.7,609.4 546.2,607.5"/>
<polygon fill="#F29999" points="468.9,622.6 464.7,620.2 463.1,616.5 465.3,613.5 469.0,611.4 471.0,616.8"/>
<polygon fill="#FC8214" points="482.1,603.2 476.1,602.6 477.5,599.0 481.5,596.5 486.6,598.5 485.6,602.1"/>
<polygon fill="#FC8214" points="525.5,557.3 527.6,558.7 525.4,559.9 522.8,560.6 521.9,558.8 523.0,557.0"/>
<polygon fill="#FC8214" points="455.6,589.8 459.6,591.9 455.3,593.6 451.5,594.5 445.9,592.8 448.2,591.0 450.9,590.3"/>
<polygon fill="#FCAB52" points="554.6,650.9 552.5,649.7 552.8,648.1 555.7,647.0 557.9,648.1 558.1,649.5 556.7,650.9"/>
<polygon fill="#F29999" points="515.2,566.8 515.7,564.8 519.0,564.5 519.8,566.5 518.9,567.8 516.6,569.1"/>
<polygon fill="#FFD68F" points="509.8,634.5 504.8,633.8 505.9,631.7 508.6,630.7 513.8,630.2 515.0,632.4 514.0,634.2"/>
<polygon fill="#FCAB52" points="520.9,593.7 517.9,592.7 518.7,589.4 521.3,586.8 524.0,589.3 523.7,592.3"/>
<polygon fill="#FCAB52" points="489.4,613.8 490.7,615.7 491.2,618.6 489.8,622.4 488.5,619.8 487.8,615.6"/>
<polygon fill="#F29999" points="450.0,574.4 454.4,574.5 456.4,576.4 453.8,578.1 450.6,578.1 449.0,576.1"/>
<polygon fill="#4d4d4d" points="558.7,646.7 557.8,648.7 554.3,649.7 550.2,648.0 549.7,646.0 553.4,644.3 556.7,645.0"/>
<polygon fill="#FC8214" points="556.3,623.3 558.0,624.2 557.4,625.6 556.0,626.1 553.8,625.6 553.0,624.5 554.3,623.4"/>
<polygon fill="#4d4d4d" points="504.7,559.9 506.4,562.9 506.0,566.9 504.1,569.2 502.4,567.2 502.2,563.9 502.4,561.3"/>
<polygon fill="#FCAB52" points="519.0,564.5 521.5,562.5 523.7,563.1 526.3,563.6 527.0,565.0 523.9,566.1 521.7,566.4"/>
<polygon fill="#FCAB52" points="509.3,573.7 503.3,572.0 507.8,568.7 515.2,570.1 514.4,573.1"/>
<polygon fill="#4d4d4d" points="549.7,621.8 549.2,619.5 551.3,618.0 553.4,618.8 553.5,621.7 551.7,623.9"/>
<polygon fill="#FFD68F" points="519.4,617.1 516.2,616.0 518.6,613.3 524.9,613.8 524.2,616.4"/>
<polygon fill="#4d4d4d" points="455.1,594.6 459.0,594.3 463.1,596.0 463.0,598.8 458.9,599.7 454.5,600.1 451.6,597.3"/>
<polygon fill="#F2CBCB" points="464.3,557.3 459.0,555.0 460.9,550.6 466.3,550.6 468.0,555.2"/>
<polygon fill="#FFD68F" points="546.9,581.7 549.4,580.9 551.8,581.2 551.5,583.8 550.8,587.2 548.8,586.4 547.7,585.1"/>
<polygon fill="#F2CBCB" points="510.3,587.4 507.3,587.0 506.2,585.2 507.4,583.3 509.6,583.5 512.3,584.0 511.9,585.7"/>
<polygon fill="#4d4d4d" points="498.9,632.8 494.4,631.5 496.4,628.6 498.3,625.9 502.6,626.9 503.4,629.2 503.0,631.9"/>
<polygon fill="#4d4d4d" points="482.0,565.2 483.4,566.4 482.2,569.3 480.8,569.4 480.1,567.5 480.3,565.1"/>
<polygon fill="#FCAB52" points="505.6,625.8 505.4,623.3 509.1,621.3 513.5,623.1 512.7,625.2 510.6,628.0"/>
<polygon fill="#4d4d4d" points="538.5,644.7 534.4,645.1 532.3,644.0 533.4,641.5 536.6,642.0 538.7,643.0"/>
<polygon fill="#F29999" points="458.1,583.4 456.5,583.9 454.6,582.6 454.6,581.5 456.2,580.3 458.9,581.2 459.2,582.0"/>
<polygon fill="#FFD68F" points="479.5,611.0 481.4,612.6 478.6,613.6 476.0,613.0 477.0,611.5"/>
<polygon fill="#4d4d4d" points="473.7,552.1 473.7,554.7 470.3,556.0 463.2,555.8 463.1,553.1 468.4,551.3"/>
<polygon fill="#FC8214" points="486.5,557.4 489.9,555.6 493.1,558.1 492.2,561.8 489.7,563.7 486.2,562.6 483.5,559.3"/>
<polygon fill="#4d4d4d" points="491.0,557.4 489.6,561.2 487.6,560.4 486.6,554.8 487.8,550.5 489.5,548.8 492.2,551.3"/>
<polygon fill="#FC8214" points="504.3,608.4 504.8,609.5 504.5,610.7 502.5,611.6 501.8,609.9 502.6,608.0"/>
<polygon fill="#F29999" points="532.4,615.0 528.1,617.1 524.1,614.9 525.5,612.0 530.9,611.6"/>
<polygon fill="#4d4d4d" points="539.3,648.6 537.8,646.2 539.1,643.5 540.6,643.5 541.9,644.3 542.5,647.6 540.7,649.1"/>
<polygon fill="#FC8214" points="481.5,581.0 480.7,576.8 482.7,573.7 487.1,574.2 489.4,578.4 485.4,582.9"/>
<polygon fill="#FFD68F" points="466.3,555.9 468.3,556.3 470.5,556.9 469.8,559.1 467.7,559.9 466.1,559.3 464.0,557.5"/>
<polygon fill="#FCAB52" points="515.2,595.4 514.1,597.4 510.7,597.8 508.5,595.6 508.3,594.0 511.9,592.5 515.5,593.1"/>
<polygon fill="#FCAB52" points="518.2,594.7 521.6,597.6 519.1,600.4 515.6,603.2 512.7,598.8 513.8,593.9"/>
<polygon fill="#FCAB52" points="452.0,567.8 448.6,565.8 450.4,562.9 456.0,563.8 456.0,566.5"/>
<polygon fill="#4d4d4d" points="489.7,631.5 490.6,627.7 494.6,626.6 494.6,633.0 491.7,633.8"/>
<polygon fill="#F2CBCB" points="466.3,558.6 462.3,556.7 463.6,547.8 466.1,547.6 467.3,553.3"/>
<polygon fill="#F2CBCB" points="447.8,570.6 446.3,569.5 446.4,566.2 448.1,564.5 450.1,565.3 451.3,568.4 449.9,569.8"/>
<polygon fill="#4d4d4d" points="467.6,593.2 465.2,592.7 464.1,590.7 465.8,588.4 468.6,589.3 469.1,591.1"/>
<polygon fill="#FC8214" points="485.0,587.3 482.7,589.6 479.8,589.6 477.2,589.3 475.4,587.5 477.7,586.5 481.4,585.4"/>
<polygon fill="#FCAB52" points="545.7,603.5 548.1,599.1 550.3,601.5 550.9,608.5 550.1,612.5 547.3,613.5 546.1,609.0"/>
<polygon fill="#F2CBCB" points="508.8,593.1 507.3,594.4 505.1,593.8 505.6,591.6 506.8,589.9 508.6,590.6"/>
<polygon fill="#FCAB52" points="512.4,587.6 516.0,586.7 520.2,586.8 522.8,588.0 520.7,589.8 517.5,590.8 513.1,589.7"/>
<polygon fill="#4d4d4d" points="531.4,632.0 533.4,630.3 534.2,633.7 535.2,637.1 532.6,640.5 530.6,638.6 529.3,634.7"/>
<polygon fill="#FC8214" points="556.2,630.4 557.3,633.5 555.4,636.0 553.9,635.0 552.1,633.4 553.1,630.6 554.8,628.9"/>
<polygon fill="#FCAB52" points="457.6,577.4 457.2,578.9 455.6,580.1 454.4,578.8 453.2,576.9 455.0,574.6 457.3,576.1"/>
<polygon fill="#4d4d4d" points="515.7,610.8 516.0,614.0 508.7,615.5 503.7,612.8 503.9,610.3 510.1,609.9"/>
<polygon fill="#FFD68F" points="469.9,567.9 470.3,566.3 472.3,566.2 474.0,567.5 474.1,569.2 472.1,569.4 470.2,569.5"/>
<polygon fill="#F2CBCB" points="480.7,617.5 478.4,615.5 479.8,613.5 484.0,613.0 484.6,616.4"/>
<polygon fill="#FCAB52" points="496.5,559.6 495.2,561.8 494.6,558.1 494.6,555.1 496.3,555.1 497.4,556.9"/>
<polygon fill="#FCAB52" points="474.1,606.1 471.0,607.7 469.6,600.6 472.2,593.9 475.4,598.3"/>
<polygon fill="#F29999" points="551.2,569.0 550.1,566.2 554.6,564.5 557.7,566.6 555.7,568.5"/>
<polygon fill="#F2CBCB" points="454.9,581.2 456.6,585.2 456.4,592.3 454.3,593.3 452.5,586.3"/>
<polygon fill="#F2CBCB" points="517.0,588.3 519.1,590.8 515.3,592.3 511.0,592.1 509.1,591.1 509.3,588.7 513.4,587.9"/>
<polygon fill="#FFD68F" points="557.3,555.1 553.3,556.9 548.2,554.7 548.6,552.7 553.6,550.4 557.1,552.5"/>
<polygon fill="#F2CBCB" points="551.3,621.8 548.2,621.0 547.3,618.7 548.1,616.5 551.1,616.9 552.5,619.0"/>
<polygon fill="#F2CBCB" points="538.4,629.8 542.5,628.6 545.4,629.5 549.5,631.8 545.9,633.1 541.1,634.8 539.9,632.4"/>
<polygon fill="#4d4d4d" points="489.7,593.6 488.5,596.9 482.8,595.3 482.0,593.1 484.0,590.2 489.2,590.8"/>
<polygon fill="#FC8214" points="552.6,590.3 552.7,584.5 555.7,585.1 557.4,587.1 556.4,591.8 554.1,592.8"/>
<polygon fill="#FC8214" points="513.2,616.7 510.0,617.9 506.6,617.9 506.7,612.0 509.3,609.0 513.0,611.0"/>
<polygon fill="#FCAB52" points="533.9,645.6 532.8,641.6 535.7,639.5 538.5,640.7 539.0,644.5 536.3,646.9"/>
<polygon fill="#FFD68F" points="495.9,573.5 497.3,574.6 495.0,575.7 493.5,575.7 492.1,574.2 492.9,573.2 494.8,572.4"/>
<polygon fill="#4d4d4d" points="488.9,608.5 486.3,608.8 485.2,605.2 487.1,602.9 490.1,604.6"/>
<polygon fill="#FC8214" points="440.5,568.7 443.3,567.6 446.8,569.0 446.9,571.2 442.9,573.6 440.2,571.4"/>
<polygon fill="#F29999" points="493.1,624.7 491.7,622.4 497.9,620.4 502.4,622.7 504.1,624.5 501.0,627.1 494.3,626.9"/>
<polygon fill="#FC8214" points="464.8,573.5 462.8,574.8 458.6,575.8 456.8,573.9 460.3,573.0"/>
<polygon fill="#F2CBCB" points="520.8,633.6 526.2,632.8 529.0,635.6 525.7,636.9 518.5,636.4"/>
<polygon fill="#FCAB52" points="556.4,648.0 556.0,650.1 555.3,652.0 554.1,650.8 552.7,648.9 553.8,647.3 555.4,646.9"/>
<polygon fill="#F29999" points="533.1,585.9 527.9,584.6 524.2,582.4 529.6,580.6 536.0,581.9 537.3,583.5"/>
<polygon fill="#F2CBCB" points="519.7,642.2 520.9,640.9 523.5,640.3 524.1,643.0 522.4,644.3 520.3,644.4"/>
<polygon fill="#FCAB52" points="493.1,575.8 491.2,573.2 493.6,571.0 497.9,570.6 500.6,573.2 498.7,575.3 495.4,577.3"/>
<polygon fill="#FCAB52" points="465.9,558.5 464.4,557.0 467.2,555.4 470.2,555.8 472.3,557.4 470.8,559.1 467.8,559.2"/>
<polygon fill="#FCAB52" points="478.2,573.1 481.5,574.4 481.5,577.8 477.4,579.4 472.4,576.8 474.4,574.1"/>
<polygon fill="#4d4d4d" points="473.3,572.5 471.9,570.8 472.9,567.9 475.0,568.1 476.9,569.5 475.5,572.2"/>
<polygon fill="#FC8214" points="538.1,621.8 542.1,623.3 541.8,627.1 537.0,627.4 535.7,623.7"/>
<polygon fill="#FCAB52" points="524.4,594.3 520.0,596.2 516.5,595.2 513.2,594.1 515.8,592.2 519.2,591.9 523.4,593.1"/>
<polygon fill="#FC8214" points="533.7,569.9 531.2,569.1 529.9,565.5 531.1,560.0 533.8,559.2 534.5,565.4"/>
<polygon fill="#FC8214" points="481.8,565.6 481.0,569.2 479.3,570.6 476.1,571.2 475.1,568.5 476.0,565.6 478.4,565.2"/>
<polygon fill="#4d4d4d" points="550.8,601.2 552.4,600.6 554.0,601.6 554.6,603.7 554.0,605.3 551.6,606.3 550.0,604.0"/>
<polygon fill="#4d4d4d" points="453.2,568.0 456.8,567.9 457.6,570.5 456.8,573.4 454.0,573.3 451.6,571.5"/>
<polygon fill="#FFD68F" points="486.3,586.6 488.4,591.9 484.9,596.4 480.6,592.4 481.0,588.8"/>
<polygon fill="#F2CBCB" points="510.6,621.4 510.0,618.4 512.7,616.7 515.0,618.8 516.2,621.5 512.7,623.9"/>
<polygon fill="#F2CBCB" points="523.2,642.5 527.4,641.6 529.0,644.0 527.6,646.4 523.8,645.6"/>
<polygon fill="#FCAB52" points="464.8,568.3 466.0,566.2 471.6,567.0 471.1,569.2 467.2,569.8"/>
<polygon fill="#F2CBCB" points="516.9,580.0 512.7,581.0 507.6,580.5 508.5,578.2 510.5,575.5 514.3,576.7"/>
<polygon fill="#F2CBCB" points="473.1,577.0 477.2,576.3 479.5,578.7 478.5,581.6 474.6,581.5 473.5,579.7"/>
<polygon fill="#FCAB52" points="445.4,600.4 447.5,598.7 449.1,597.9 451.2,599.1 451.7,601.2 449.2,602.3 447.1,602.2"/>
<polygon fill="#F2CBCB" points="482.6,608.3 485.3,605.5 488.8,606.5 490.0,611.1 484.9,613.0"/>
<polygon fill="#FC8214" points="556.8,627.1 554.9,629.4 549.2,629.2 545.3,627.5 548.6,625.5 554.2,625.0"/>
<polygon fill="#E0D800" points="462.9,662.5 461.3,664.0 458.8,663.4 457.6,661.6 460.0,660.2 461.9,661.3"/>
<polygon fill="#FFFF00" points="494.6,674.3 495.3,678.3 493.7,680.8 491.8,679.8 492.0,673.8"/>
<polygon fill="#A6ED00" points="488.4,672.5 486.2,671.8 485.7,670.6 486.5,669.8 488.7,669.6 490.5,671.3"/>
<polygon fill="#FFFF00" points="474.5,642.5 476.2,642.8 476.6,644.2 475.5,645.6 473.1,645.0 472.1,643.2"/>
<polygon fill="#FFFF00" points="499.0,668.8 496.3,667.8 496.6,660.8 498.1,655.4 500.6,661.0"/>
<polygon fill="#998509" points="454.2,627.9 456.5,628.4 459.0,633.0 456.5,639.7 453.3,636.0"/>
<polygon fill="#4FD00A" points="451.6,626.1 447.3,626.5 446.4,623.9 449.2,621.9 451.2,624.0"/>
<polygon fill="#FCAB52" points="474.9,627.0 472.0,625.1 472.3,623.0 474.1,621.2 476.1,622.2 477.7,624.7"/>
<polygon fill="#FCAB52" points="454.0,655.0 455.0,653.2 456.0,652.7 456.7,654.5 456.6,657.3 455.1,656.8"/>
<polygon fill="#FFFF00" points="531.8,689.3 534.1,690.5 533.3,692.3 529.5,692.5 525.8,692.0 526.2,690.4 528.2,689.0"/>
<polygon fill="#FFD68F" points="451.3,603.2 454.1,606.9 448.0,610.0 442.8,607.4 441.8,604.4"/>
<polygon fill="#4FD00A" points="532.8,671.2 531.2,669.6 530.5,665.1 532.1,661.9 534.2,664.2 534.0,668.1"/>
<polygon fill="#998509" points="520.9,650.3 517.4,650.4 516.6,646.3 519.7,643.5 522.1,646.2"/>
<polygon fill="#E0D800" points="526.9,659.5 528.6,655.9 531.3,657.3 532.7,659.9 531.4,662.8 528.9,662.2"/>
<polygon fill="#E0D800" points="516.1,692.8 517.2,695.9 514.0,697.8 510.9,697.9 510.3,696.1 510.1,693.0 512.9,692.4"/>
<polygon fill="#E0D800" points="449.6,613.5 449.7,610.5 449.1,608.0 453.4,608.0 456.7,608.7 457.4,611.7 453.4,613.3"/>
<polygon fill="#FCAB52" points="468.3,661.2 469.9,655.5 472.1,656.9 473.5,661.2 471.0,665.8"/>
<polygon fill="#998509" points="538.1,662.3 538.9,666.2 538.2,669.2 534.6,668.6 533.7,666.1 535.2,662.3"/>
<polygon fill="#998509" points="504.9,683.2 503.3,683.7 502.4,680.8 503.8,678.3 505.6,678.2 506.2,680.2 506.3,682.7"/>
<polygon fill="#FFFF00" points="549.0,685.2 548.7,683.1 548.6,680.7 550.0,681.2 551.1,681.8 551.2,683.6 550.2,686.0"/>
<polygon fill="#4FD00A" points="470.8,636.4 466.9,634.0 469.0,630.2 474.4,629.4 476.2,633.1 476.9,636.6"/>
<polygon fill="#E0D800" points="458.2,660.5 461.1,658.2 464.4,658.3 464.4,662.5 461.5,662.7"/>
<polygon fill="#FFFF00" points="474.1,666.8 473.7,671.3 472.0,674.8 469.3,671.5 469.0,668.5 469.8,664.0 472.6,665.1"/>
<polygon fill="#E0D800" points="507.9,657.1 507.2,655.5 508.1,654.1 510.3,655.1 509.5,656.7"/>
<polygon fill="#FFFF00" points="514.6,653.2 515.6,651.2 519.2,651.9 520.6,654.0 518.4,655.7 514.9,655.8"/>
<polygon fill="#4FD00A" points="460.9,619.4 463.4,621.6 461.1,624.5 458.4,623.1 457.6,619.9"/>
<polygon fill="#A6ED00" points="501.7,681.5 500.3,681.8 499.0,681.1 498.7,678.8 500.7,678.0 502.3,679.3"/>
<polygon fill="#4FD00A" points="470.6,662.5 468.4,660.1 470.4,658.1 474.4,658.2 476.5,660.3 474.3,661.8"/>
<polygon fill="#4FD00A" points="550.6,666.1 547.1,665.6 547.3,664.2 551.1,663.5 553.1,665.0"/>
<polygon fill="#A6ED00" points="464.2,633.5 465.9,628.7 469.3,628.8 470.9,633.2 467.5,636.1"/>
<polygon fill="#998509" points="487.0,649.2 489.7,651.0 488.3,652.4 484.5,653.1 482.5,652.2 480.9,650.5 483.5,649.5"/>
<polygon fill="#998509" points="478.4,667.2 481.4,666.2 484.0,668.0 482.4,669.8 479.3,669.9 477.5,669.0"/>
<polygon fill="#FFFF00" points="520.9,676.8 525.2,679.6 524.0,683.4 520.4,684.4 516.1,682.8 518.5,678.5"/>
<polygon fill="#A6ED00" points="485.1,630.5 485.8,627.7 487.6,626.3 490.1,628.6 489.1,631.0 486.7,631.8"/>
<polygon fill="#FCAB52" points="515.1,646.0 516.4,643.8 519.3,644.3 521.4,645.7 521.2,647.9 517.9,648.5 515.2,648.0"/>
<polygon fill="#E0D800" points="534.6,669.3 535.7,661.3 537.9,660.0 539.5,666.0 537.6,671.4"/>
<polygon fill="#FFD68F" points="505.6,649.2 503.1,650.0 500.5,649.3 500.6,648.0 502.4,647.3 504.7,647.1 505.6,648.3"/>
<polygon fill="#E0D800" points="535.4,675.3 536.5,673.5 538.6,672.7 541.5,673.6 541.0,675.4 539.8,676.0 537.1,676.5"/>
<polygon fill="#998509" points="549.0,666.9 547.6,669.8 545.6,666.2 545.5,662.2 546.6,657.3 548.2,656.7 549.7,662.0"/>
<polygon fill="#998509" points="468.4,673.0 469.6,672.4 470.7,675.5 469.8,679.2 468.3,679.2 467.9,675.9"/>
<polygon fill="#FFFF00" points="454.2,632.0 457.6,634.5 453.8,637.4 449.2,636.6 448.0,634.0 449.3,632.4"/>
<polygon fill="#FFFF00" points="449.6,654.8 451.3,651.3 453.7,653.9 453.9,656.2 453.8,658.5 451.2,660.0 449.1,657.9"/>
<polygon fill="#A6ED00" points="479.3,654.4 475.4,652.4 479.3,650.7 484.6,650.8 486.4,652.6 484.2,654.5"/>
<polygon fill="#4FD00A" points="487.0,647.7 490.3,647.7 493.7,649.9 491.5,652.2 487.6,652.4 483.4,651.2 483.3,649.0"/>
<polygon fill="#FFFF00" points="492.3,679.0 490.8,682.6 488.7,682.7 488.3,678.7 490.1,675.6"/>
<polygon fill="#E0D800" points="447.0,614.9 447.7,617.6 448.0,620.4 445.2,621.6 442.7,621.0 442.4,617.6 444.0,615.0"/>
<polygon fill="#FFD68F" points="462.4,649.3 464.8,652.3 464.2,655.7 461.1,658.3 458.3,657.5 456.1,653.0 458.3,650.7"/>
<polygon fill="#4FD00A" points="516.6,696.3 520.0,694.0 521.8,701.1 518.4,703.3 515.6,700.5"/>
<polygon fill="#4FD00A" points="474.4,624.2 472.4,626.4 468.0,626.0 466.2,623.2 469.8,621.0 473.6,620.3"/>
<polygon fill="#A6ED00" points="540.0,688.5 537.2,689.0 536.0,683.1 538.8,678.9 540.9,682.3"/>
<polygon fill="#E0D800" points="467.8,652.0 470.0,653.9 469.8,658.1 467.9,660.0 465.6,660.4 464.8,655.8 466.0,651.0"/>
<polygon fill="#FFFF00" points="447.2,622.8 450.2,626.5 449.3,630.8 446.9,632.2 443.6,631.7 443.7,628.4 444.7,624.1"/>
<polygon fill="#FFFF00" points="517.7,677.1 514.5,679.8 509.5,680.0 506.5,677.9 507.3,676.0 513.0,674.4"/>
<polygon fill="#998509" points="507.5,662.2 511.3,663.1 509.7,665.6 505.2,665.2 503.3,663.2"/>
<polygon fill="#FFFF00" points="459.7,610.1 457.3,613.9 453.2,616.3 448.6,613.4 449.6,609.3 454.8,607.7"/>
<polygon fill="#FCAB52" points="543.6,659.1 545.5,662.3 542.9,665.6 537.9,663.2 538.3,660.0"/>
<polygon fill="#FFD68F" points="462.5,621.7 459.8,620.2 460.3,617.6 462.7,616.0 465.3,617.5 465.6,620.1"/>
<polygon fill="#4FD00A" points="527.2,665.4 524.0,663.2 522.9,658.5 526.6,655.9 529.4,660.5"/>
<polygon fill="#998509" points="466.5,634.0 464.4,634.8 462.0,633.7 461.4,630.3 463.2,628.2 465.4,628.4 467.5,629.8"/>
<polygon fill="#FFD68F" points="495.0,660.0 497.7,657.4 499.7,662.7 498.7,668.7 496.9,672.0 493.9,666.5"/>
<polygon fill="#FFFF00" points="539.3,685.9 538.0,687.7 533.3,687.7 530.5,686.2 531.9,684.1 535.0,683.3 538.6,683.3"/>
<polygon fill="#FCAB52" points="504.6,688.9 505.3,692.3 502.5,696.0 499.5,694.4 497.7,689.3 501.2,687.8"/>
<polygon fill="#FFD68F" points="504.2,681.1 503.4,683.8 501.8,683.3 501.0,680.0 503.4,678.0"/>
<polygon fill="#FFD68F" points="467.7,657.5 471.1,656.7 473.3,658.7 471.6,661.4 467.9,660.6"/>
<polygon fill="#998509" points="459.6,633.6 459.0,631.1 459.1,628.1 460.5,626.3 461.6,628.2 461.8,631.2 461.1,632.6"/>
<polygon fill="#FCAB52" points="481.4,646.2 476.2,646.1 474.0,642.5 479.1,640.4 481.9,642.8"/>
<polygon fill="#998509" points="448.8,658.6 448.3,653.0 451.4,648.7 455.7,653.3 453.5,659.0"/>
<polygon fill="#E0D800" points="497.2,652.3 501.5,651.9 504.8,652.8 506.1,654.4 501.6,656.2 498.6,654.7"/>
<polygon fill="#E0D800" points="534.9,688.2 531.1,686.1 531.4,683.1 535.7,681.7 538.1,683.6 539.1,686.9"/>
<polygon fill="#FFFF00" points="508.5,641.9 508.7,645.0 507.2,645.8 505.3,645.7 504.5,642.3 506.6,639.2"/>
<polygon fill="#998509" points="462.6,646.8 461.7,649.0 460.8,650.4 459.3,650.2 459.3,647.1 459.9,644.4 461.2,643.9"/>
<polygon fill="#FFFF00" points="477.7,672.7 479.0,670.9 481.8,670.7 483.0,673.1 481.8,675.0 479.9,676.2 478.2,675.1"/>
<polygon fill="#FCAB52" points="465.9,651.9 465.0,649.9 465.1,647.1 467.2,646.9 469.0,648.9 467.6,651.7"/>
<polygon fill="#4FD00A" points="498.8,681.1 493.2,681.2 490.7,679.0 494.9,676.4 499.8,678.0"/>
<polygon fill="#E0D800" points="483.5,645.1 484.7,646.9 484.4,649.6 483.0,649.8 481.8,649.0 481.9,646.1"/>
<polygon fill="#4FD00A" points="533.0,661.0 532.4,657.8 537.1,657.6 540.3,659.9 536.2,663.2"/>
<polygon fill="#A6ED00" points="491.8,687.1 489.7,685.1 488.9,683.0 493.5,681.3 496.4,683.1 496.0,686.6"/>
<polygon fill="#E0D800" points="534.8,697.5 536.7,698.9 535.6,700.6 530.9,700.7 528.4,699.6 528.6,698.0 531.2,695.6"/>
<polygon fill="#FFFF00" points="463.8,645.5 466.9,645.6 468.5,647.3 467.1,649.1 464.2,649.7 462.2,647.5"/>
<polygon fill="#FFD68F" points="529.8,666.6 527.4,666.6 526.3,662.6 529.3,660.3 531.6,663.3"/>
<polygon fill="#998509" points="532.0,681.5 530.6,678.8 532.9,675.9 534.3,678.8 533.8,681.8"/>
<polygon fill="#4FD00A" points="473.1,665.1 472.3,671.2 469.1,671.9 468.1,665.2 470.3,663.0"/>
<polygon fill="#998509" points="453.2,664.6 450.8,667.3 447.1,667.2 444.2,664.9 448.4,662.0"/>
<polygon fill="#A6ED00" points="510.1,652.0 511.9,655.6 508.8,657.7 506.0,656.8 505.2,651.5"/>
<polygon fill="#4FD00A" points="455.6,628.1 451.8,627.1 453.6,625.4 455.7,624.5 461.3,624.9 463.3,626.5 459.4,628.0"/>
<polygon fill="#4FD00A" points="452.5,647.7 456.8,645.2 460.7,645.5 463.7,648.9 459.5,651.9 456.3,651.6 451.9,650.1"/>
<polygon fill="#E0D800" points="493.6,668.0 495.1,668.7 495.7,670.8 494.6,672.8 493.2,673.4 492.3,671.1 492.2,668.3"/>
<polygon fill="#FCAB52" points="475.2,639.7 476.3,645.8 473.3,647.7 471.6,644.2 472.5,639.2"/>
<polygon fill="#A6ED00" points="538.0,689.1 538.0,691.3 535.9,692.9 532.9,692.2 532.0,690.5 532.3,688.9 535.8,688.3"/>
<polygon fill="#FFFF00" points="533.0,668.0 532.3,665.3 532.6,662.6 537.5,663.2 541.3,664.6 541.4,666.9 537.0,667.8"/>
<polygon fill="#FCAB52" points="393.6,639.0 389.5,641.8 387.1,637.7 388.1,631.8 393.0,633.0"/>
<polygon fill="#80E000" points="417.0,646.9 418.0,643.6 420.3,640.9 423.1,641.6 423.8,645.5 423.5,649.3 419.8,647.8"/>
<polygon fill="#E0D800" points="367.9,577.1 370.4,574.5 373.1,574.4 372.6,580.6 371.8,584.1 369.8,581.8"/>
<polygon fill="#E0D800" points="313.7,603.4 311.9,602.2 311.3,598.3 312.7,595.0 314.9,596.7 316.1,598.5 315.2,600.9"/>
<polygon fill="#FFD68F" points="351.4,609.4 353.8,609.9 353.3,611.4 351.6,612.6 350.0,611.6 349.8,610.1"/>
<polygon fill="#FC9633" points="384.0,609.8 384.6,613.1 383.6,615.6 382.3,616.1 381.9,611.9 382.3,608.4"/>
<polygon fill="#FCAB52" points="324.4,612.8 322.2,614.0 318.6,613.5 317.9,611.4 320.2,608.0 322.9,608.2 325.0,610.0"/>
<polygon fill="#F2CBCB" points="370.3,572.7 369.4,569.9 371.2,567.3 376.2,567.6 376.6,570.7 374.0,573.1"/>
<polygon fill="#FFD68F" points="429.0,634.7 432.2,636.9 426.9,639.3 419.7,637.6 421.9,634.4"/>
<polygon fill="#998509" points="415.9,631.5 415.5,628.1 418.0,625.5 423.6,624.9 424.7,628.6 422.2,630.9"/>
<polygon fill="#FCAB52" points="410.0,611.2 410.4,614.7 409.3,619.0 407.6,615.7 407.8,610.0"/>
<polygon fill="#F2CBCB" points="405.4,568.0 405.5,569.7 405.1,570.8 402.2,570.5 400.1,569.8 401.2,568.0 403.5,567.0"/>
<polygon fill="#998509" points="372.9,615.1 372.1,611.7 376.5,611.1 379.5,613.0 377.7,616.0"/>
<polygon fill="#998509" points="391.8,626.4 391.0,620.5 394.5,620.2 396.7,621.7 397.1,627.9 393.6,629.6"/>
<polygon fill="#FFD68F" points="294.4,577.7 295.5,576.9 298.4,577.5 299.5,578.0 298.3,578.8 295.9,579.5 293.7,578.8"/>
<polygon fill="#E0D800" points="428.5,621.1 427.0,622.6 424.9,621.8 423.6,620.8 424.9,619.3 427.0,619.7"/>
<polygon fill="#FFD68F" points="387.4,653.6 387.4,656.5 386.3,659.0 385.2,658.7 383.9,656.4 384.1,653.7 385.8,653.3"/>
<polygon fill="#998509" points="349.4,627.2 345.4,629.9 342.4,624.7 345.5,620.3 350.0,622.4"/>
<polygon fill="#E0D800" points="391.0,568.8 392.6,565.8 394.7,564.2 397.5,566.1 397.4,569.5 394.0,570.7"/>
<polygon fill="#998509" points="316.8,588.2 318.6,590.4 318.4,593.5 313.9,594.3 311.6,592.6 310.3,590.1 312.6,588.4"/>
<polygon fill="#E0D800" points="383.0,642.1 380.1,643.3 376.5,642.3 375.4,640.1 378.4,638.2 381.3,637.9 382.2,639.5"/>
<polygon fill="#F2CBCB" points="419.9,642.8 416.3,643.6 412.1,642.6 413.9,640.2 419.5,640.3"/>
<polygon fill="#998509" points="401.6,602.4 401.9,603.7 401.2,605.3 398.7,604.8 396.9,604.0 397.7,602.8 398.9,602.2"/>
<polygon fill="#998509" points="419.4,622.3 415.5,625.4 409.8,623.5 411.0,620.8 415.4,620.1"/>
<polygon fill="#FFD68F" points="402.1,666.6 403.7,664.1 406.0,665.9 406.5,669.2 404.6,670.5 402.1,670.0"/>
<polygon fill="#998509" points="356.6,588.6 355.4,591.4 352.2,592.9 350.7,590.2 350.8,586.7 353.7,586.2"/>
<polygon fill="#FCAB52" points="340.5,559.2 341.8,561.0 340.7,563.4 337.0,564.2 335.6,561.2 336.5,558.3"/>
<polygon fill="#FFD68F" points="367.5,579.0 365.0,580.4 364.5,575.2 365.1,569.9 367.3,572.1 368.7,574.9"/>
<polygon fill="#80E000" points="403.6,590.6 405.3,594.2 402.4,596.5 399.5,595.0 398.5,591.1 401.4,589.3"/>
<polygon fill="#998509" points="356.2,586.0 352.9,584.2 349.6,582.2 352.7,580.3 356.9,578.3 360.3,580.8 360.2,583.7"/>
<polygon fill="#FC9633" points="401.1,651.0 405.7,651.2 409.1,653.1 407.9,655.0 403.4,655.8 400.3,655.2 399.0,653.2"/>
<polygon fill="#FCAB52" points="398.9,637.8 397.9,640.7 394.0,641.4 391.5,639.0 394.1,636.7"/>
<polygon fill="#FFD68F" points="445.6,627.1 441.3,626.5 442.0,620.9 446.5,618.8 449.0,623.9"/>
<polygon fill="#FC9633" points="375.6,572.2 380.0,574.4 378.3,577.1 376.2,578.4 372.8,578.5 372.4,574.9"/>
<polygon fill="#998509" points="378.6,583.4 378.0,584.6 373.9,584.7 372.0,583.6 374.8,582.1"/>
<polygon fill="#E0D800" points="353.9,563.1 351.7,562.5 351.7,560.8 353.2,560.0 356.2,560.9 357.0,561.9"/>
<polygon fill="#E0D800" points="342.9,582.0 346.4,581.4 352.2,581.9 353.9,583.9 348.3,584.9 344.3,586.3 341.0,583.7"/>
<polygon fill="#FC9633" points="328.8,612.9 334.6,611.5 337.3,614.9 332.7,617.0 327.0,614.9"/>
<polygon fill="#FCAB52" points="342.1,617.4 345.3,617.6 346.7,619.3 342.4,620.5 341.2,618.8"/>
<polygon fill="#FCAB52" points="387.8,571.7 387.9,574.9 382.5,576.9 376.9,574.6 377.3,571.5 382.6,570.1"/>
<polygon fill="#FFD68F" points="323.3,610.5 324.7,606.1 326.7,604.9 329.2,604.7 330.0,609.3 328.8,612.3 325.9,611.7"/>
<polygon fill="#E0D800" points="393.0,565.0 396.4,565.0 399.2,567.2 399.2,571.8 395.7,573.5 392.2,569.9"/>
<polygon fill="#F2CBCB" points="423.8,633.0 424.9,636.1 422.8,639.6 419.3,638.6 418.1,634.2 420.9,630.3"/>
<polygon fill="#998509" points="358.3,597.6 362.5,600.0 361.4,605.6 358.7,608.5 355.2,603.1"/>
<polygon fill="#F2CBCB" points="383.5,577.3 377.8,578.3 374.3,576.7 371.9,573.9 378.5,573.7 382.8,574.7"/>
<polygon fill="#F2CBCB" points="303.5,586.7 305.0,582.5 308.8,583.4 308.5,587.0 306.5,588.9"/>
<polygon fill="#F2CBCB" points="422.6,658.1 423.2,654.8 425.0,654.2 425.2,659.2 423.8,662.6"/>
<polygon fill="#E0D800" points="436.0,604.2 436.5,606.5 434.0,608.1 429.4,607.3 426.8,604.8 431.5,603.1"/>
<polygon fill="#998509" points="376.6,642.2 373.8,643.6 372.0,638.6 372.7,634.8 376.4,632.6 377.6,637.6"/>
<polygon fill="#FFD68F" points="391.6,667.2 396.1,668.4 395.5,670.6 388.6,671.0 385.2,668.9"/>
<polygon fill="#FFD68F" points="401.4,607.1 402.4,609.9 399.3,611.6 395.5,609.9 397.4,607.0"/>
<polygon fill="#FFD68F" points="397.3,577.7 396.5,582.3 394.1,582.0 392.5,579.2 392.6,575.1 396.1,574.8"/>
<polygon fill="#E0D800" points="409.6,655.7 404.7,652.8 406.9,649.5 412.2,648.9 414.5,653.1"/>
<polygon fill="#E0D800" points="418.2,638.7 421.8,638.1 423.5,640.3 422.1,643.3 418.2,642.8 415.0,640.9"/>
<polygon fill="#FC9633" points="438.0,623.1 443.0,622.3 444.0,627.4 441.5,630.2 437.5,628.4"/>
<polygon fill="#FFD68F" points="399.1,627.4 397.9,629.6 394.5,628.3 392.7,627.0 394.1,625.4 396.3,624.2 398.7,625.3"/>
<polygon fill="#FFD68F" points="359.5,589.6 357.1,588.1 358.3,585.0 360.3,581.7 362.9,583.7 364.9,587.3 363.0,589.5"/>
<polygon fill="#FC9633" points="331.2,563.5 330.5,560.0 334.5,559.7 336.5,561.2 335.4,563.8"/>
<polygon fill="#998509" points="360.7,601.0 356.5,598.5 354.8,593.8 360.4,591.1 364.8,595.6"/>
<polygon fill="#E0D800" points="437.0,655.2 442.2,655.2 443.6,658.2 440.8,660.6 437.3,660.7 434.7,659.3 432.0,656.6"/>
<polygon fill="#998509" points="363.1,582.3 366.2,582.3 367.3,584.2 366.4,586.4 363.4,586.3 361.2,585.3 360.5,583.0"/>
<polygon fill="#F2CBCB" points="382.5,660.9 378.4,661.3 377.5,658.7 379.6,656.7 383.8,655.9 384.8,658.3 385.1,660.2"/>
<polygon fill="#FFD68F" points="430.8,608.9 430.4,605.9 431.4,600.8 433.7,601.0 434.9,606.2 434.2,610.7"/>
<polygon fill="#FCAB52" points="384.5,586.5 386.3,585.6 388.0,585.5 388.7,587.7 387.6,589.8 385.7,589.8 384.9,587.9"/>
<polygon fill="#FC9633" points="344.7,606.1 346.5,604.5 348.8,603.6 351.3,603.6 353.3,605.8 350.4,607.0 347.5,607.7"/>
<polygon fill="#FFD68F" points="366.6,636.4 363.4,636.0 363.7,632.8 364.8,629.7 368.8,630.3 369.9,632.8 371.0,636.5"/>
<polygon fill="#FFD68F" points="438.9,623.9 436.4,626.2 433.9,621.4 435.4,616.9 438.4,616.3 439.6,619.5"/>
<polygon fill="#F2CBCB" points="384.3,600.0 385.7,592.6 389.3,593.2 390.0,597.5 388.4,601.8"/>
<polygon fill="#F2CBCB" points="305.9,563.8 306.1,565.4 305.6,566.9 303.4,567.6 299.9,566.5 299.2,565.1 302.6,563.7"/>
<polygon fill="#FCAB52" points="335.1,562.6 333.3,561.1 334.1,559.7 337.5,559.5 340.3,560.2 340.3,561.8 338.0,563.3"/>
<polygon fill="#FCAB52" points="384.2,654.6 385.3,656.3 386.8,658.7 383.9,659.1 381.7,659.5 380.4,657.3 381.6,655.3"/>
<polygon fill="#FFD68F" points="382.4,578.4 385.3,575.3 389.2,575.7 390.7,579.0 387.9,582.7 384.7,582.1"/>
<polygon fill="#FCAB52" points="315.1,562.7 318.5,560.5 324.6,559.0 331.8,561.3 328.1,563.8 325.1,564.6 320.4,565.0"/>
<polygon fill="#FCAB52" points="407.5,658.7 409.8,658.5 412.0,661.2 410.9,664.9 408.2,666.2 406.6,663.8 404.8,660.5"/>
<polygon fill="#998509" points="429.6,645.3 431.2,644.8 433.9,645.2 433.4,646.3 431.4,647.2 429.1,646.4"/>
<polygon fill="#E0D800" points="372.0,562.9 368.8,564.2 365.0,562.3 362.8,560.0 367.8,558.3 372.7,558.3 373.7,560.5"/>
<polygon fill="#FCAB52" points="400.1,634.3 403.3,635.6 403.2,638.5 400.4,639.9 395.3,638.8 396.8,635.9"/>
<polygon fill="#F2CBCB" points="442.5,610.1 439.2,612.6 433.7,610.3 434.5,606.9 438.9,605.0 444.5,606.0"/>
<polygon fill="#998509" points="330.3,594.7 328.2,593.2 327.9,589.4 329.4,585.7 332.0,587.9 333.7,589.7 332.2,593.2"/>
<polygon fill="#F2CBCB" points="391.3,560.7 388.9,562.8 386.1,561.1 387.5,558.5 390.2,558.1"/>
<polygon fill="#998509" points="349.8,569.0 347.3,569.4 345.5,566.7 348.0,564.3 350.2,565.9"/>
<polygon fill="#FFD68F" points="302.0,575.9 297.7,575.6 296.4,574.4 298.9,572.5 303.4,573.7"/>
<polygon fill="#FCAB52" points="384.6,598.0 384.1,591.6 385.2,585.5 388.5,588.4 391.2,593.3 388.2,597.4"/>
<polygon fill="#998509" points="318.0,592.8 314.6,596.5 312.8,589.8 315.0,584.6 318.5,586.9"/>
<polygon fill="#F2CBCB" points="421.0,664.4 417.8,660.3 418.1,651.8 421.4,649.6 422.2,656.7"/>
<polygon fill="#F2CBCB" points="344.9,576.7 346.6,581.7 345.0,585.9 340.9,585.6 338.1,580.8 340.6,576.6"/>
<polygon fill="#998509" points="379.4,617.6 376.9,615.5 376.3,611.6 378.1,608.1 380.5,608.4 382.5,611.2 380.8,614.6"/>
<polygon fill="#FC9633" points="355.6,597.2 355.7,599.4 355.0,601.1 350.2,601.0 346.8,599.9 348.3,597.2 351.9,595.5"/>
<polygon fill="#998509" points="403.1,659.9 401.8,664.3 398.6,664.5 396.2,661.3 397.4,655.6 399.4,653.8 402.6,656.4"/>
<polygon fill="#FFD68F" points="415.5,642.8 414.3,641.6 413.6,640.0 413.9,637.9 415.4,636.9 416.6,638.5 416.6,641.1"/>
<polygon fill="#FFD68F" points="404.0,640.3 402.9,636.0 404.2,631.8 408.1,634.7 407.2,638.5"/>
<polygon fill="#FFD68F" points="400.0,661.6 403.5,660.2 406.6,659.4 408.4,662.0 407.7,665.0 404.2,665.8 401.5,664.4"/>
<polygon fill="#FCAB52" points="406.5,594.5 403.5,597.9 401.3,594.6 400.4,588.8 404.2,588.5 407.8,590.4"/>
<polygon fill="#998509" points="407.0,643.8 405.3,651.5 402.4,650.4 401.4,644.3 403.7,639.6"/>
<polygon fill="#FC9633" points="380.0,610.4 376.7,609.6 377.4,607.4 380.5,606.0 384.4,607.5 383.1,609.8"/>
<polygon fill="#FFD68F" points="357.2,571.9 362.3,572.4 360.8,578.1 357.2,578.6 353.8,575.2"/>
<polygon fill="#E0D800" points="404.8,631.9 402.9,633.9 400.7,633.0 399.5,632.1 400.2,629.7 401.8,629.8 403.7,630.2"/>
<polygon fill="#998509" points="321.0,583.1 322.6,582.1 323.9,582.3 324.5,583.7 323.8,585.1 322.1,584.7"/>
<polygon fill="#998509" points="406.5,664.5 406.6,667.6 404.5,670.0 400.0,669.3 397.2,667.2 400.9,664.0"/>
<polygon fill="#998509" points="349.4,621.9 346.7,623.9 342.5,624.0 341.1,622.0 341.3,620.1 344.6,619.8 348.1,620.1"/>
<polygon fill="#FFD68F" points="369.6,579.2 375.8,579.3 379.4,581.4 375.7,584.7 369.8,583.7"/>
<polygon fill="#FCAB52" points="375.3,583.4 378.8,583.2 380.6,587.4 375.9,588.6 372.5,585.8"/>
<polygon fill="#FC9633" points="360.5,565.0 361.7,563.9 363.9,564.4 364.1,566.4 362.8,568.0 360.6,567.3"/>
<polygon fill="#FCAB52" points="322.9,582.3 320.1,585.0 317.2,585.5 314.4,583.8 312.6,581.5 316.5,579.8 320.3,580.8"/>
<polygon fill="#E0D800" points="416.5,585.9 415.4,583.8 416.5,580.3 419.1,581.4 421.1,583.6 419.8,586.3"/>
<polygon fill="#E0D800" points="412.0,583.3 414.2,587.4 411.3,589.0 407.8,589.3 407.4,586.0 409.2,584.1"/>
<polygon fill="#80E000" points="415.1,640.6 414.3,638.4 416.2,636.6 422.1,637.2 421.5,639.3 419.2,641.4"/>
<polygon fill="#FCAB52" points="347.5,572.9 346.7,576.1 344.0,574.5 344.5,571.6 346.5,569.8"/>
<polygon fill="#998509" points="428.0,592.7 430.6,593.8 430.3,596.0 428.0,597.5 426.2,595.0"/>
<polygon fill="#80E000" points="357.3,614.4 360.2,613.3 362.0,615.6 360.4,618.8 357.9,616.7"/>
<polygon fill="#E0D800" points="420.9,650.8 418.2,648.3 419.7,645.7 423.6,645.4 425.9,645.5 427.6,648.8 424.9,650.5"/>
<polygon fill="#FCAB52" points="286.4,564.2 282.7,562.6 283.7,558.0 287.4,555.4 291.2,559.5 290.8,564.2"/>
<polygon fill="#FC9633" points="409.3,632.1 412.8,632.3 415.1,634.2 411.9,635.4 407.7,634.4"/>
<polygon fill="#FC9633" points="403.0,588.6 398.1,587.0 397.4,585.4 399.6,583.5 404.3,584.0 405.7,585.3 407.2,587.2"/>
<polygon fill="#FC9633" points="397.7,665.1 398.3,668.0 397.8,670.6 394.9,672.5 393.3,669.7 392.2,666.2 394.6,662.6"/>
<polygon fill="#998509" points="370.8,582.6 372.5,581.9 373.9,584.0 372.9,587.5 370.6,586.1"/>
<polygon fill="#FFD68F" points="373.2,623.5 371.1,623.7 369.5,623.2 369.1,621.7 371.0,620.4 372.5,620.6 372.9,622.3"/>
<polygon fill="#998509" points="370.7,596.7 370.9,592.2 371.5,589.3 372.9,588.7 374.0,592.2 373.8,596.4 372.3,599.4"/>
<polygon fill="#FCAB52" points="435.3,607.1 437.6,605.1 439.9,606.4 440.0,608.2 437.8,609.1"/>
<polygon fill="#998509" points="379.6,645.3 380.6,643.2 384.6,643.5 386.8,645.2 384.4,647.0 380.0,647.6"/>
<polygon fill="#998509" points="417.0,588.5 414.9,590.4 412.8,589.6 410.8,587.4 413.0,585.1 414.8,583.8 417.2,586.1"/>
<polygon fill="#FFD68F" points="304.4,583.8 306.0,582.1 310.1,581.4 312.7,582.8 311.9,584.5 309.4,585.3 306.3,585.3"/>
<polygon fill="#FFD68F" points="310.7,589.5 307.7,587.8 307.4,584.6 309.8,582.9 313.1,583.3 312.6,587.1"/>
<polygon fill="#FFD68F" points="349.2,572.0 343.9,574.1 342.9,569.8 344.9,566.6 349.0,568.9"/>
<polygon fill="#E0D800" points="434.6,610.0 429.4,609.9 426.3,608.0 431.1,606.7 435.1,607.8"/>
<polygon fill="#FFD68F" points="390.3,614.9 393.1,610.6 397.6,612.7 397.8,616.6 393.3,617.5"/>
<polygon fill="#80E000" points="390.3,666.1 387.8,668.1 386.0,663.4 387.1,658.5 388.9,653.6 391.2,657.3 392.2,662.5"/>
<polygon fill="#F2CBCB" points="313.2,588.7 314.2,590.6 314.3,592.9 311.8,593.1 310.6,592.5 309.9,590.3 311.1,589.4"/>
<polygon fill="#FFD68F" points="415.6,649.0 416.8,651.8 411.5,652.8 405.6,652.1 408.3,648.8 411.9,647.2"/>
<polygon fill="#FFD68F" points="363.5,633.9 364.6,632.1 365.8,635.2 365.4,638.7 364.4,640.5 363.4,637.9"/>
<polygon fill="#998509" points="410.3,574.6 410.5,579.6 406.9,582.0 404.4,579.1 405.6,574.3"/>
<polygon fill="#E0D800" points="390.2,580.6 392.3,576.9 396.7,578.1 396.6,582.3 394.6,585.7 390.6,584.1"/>
<polygon fill="#FC9633" points="353.1,571.4 355.3,573.3 354.9,575.6 352.2,577.3 350.0,575.8 349.7,573.4 351.3,572.2"/>
<polygon fill="#FCAB52" points="413.2,628.1 412.6,623.8 414.0,620.6 415.5,621.6 416.1,626.3 414.9,629.4"/>
<polygon fill="#FCAB52" points="379.1,642.9 380.5,639.2 385.2,638.0 386.9,642.3 383.4,645.7"/>
<polygon fill="#FFD68F" points="419.0,624.5 417.8,621.5 419.2,617.1 420.5,618.0 421.6,620.7 421.2,625.2"/>
<polygon fill="#998509" points="320.7,609.5 326.1,610.4 325.2,612.7 319.7,613.5 316.9,612.4 315.9,610.4"/>
<polygon fill="#FCAB52" points="383.6,630.2 380.3,631.0 379.3,625.0 380.5,617.7 382.7,620.2"/>
<polygon fill="#FCAB52" points="365.8,590.5 363.4,592.3 360.0,593.4 358.4,591.0 357.5,588.3 361.0,586.8 365.0,587.2"/>
<polygon fill="#FC9633" points="367.0,586.9 370.7,586.5 371.1,588.4 369.9,589.2 367.3,589.0"/>
<polygon fill="#998509" points="319.7,609.3 315.1,612.1 312.4,608.2 314.1,604.8 319.8,605.1"/>
<polygon fill="#998509" points="434.7,638.9 436.4,636.7 440.1,635.6 443.6,638.7 440.4,641.5 437.6,641.7"/>
<polygon fill="#FFD68F" points="331.3,609.4 329.3,609.6 327.9,608.4 327.5,605.3 330.0,604.6 331.2,605.8"/>
<polygon fill="#FFD68F" points="333.1,580.8 336.2,579.4 338.7,581.0 338.2,582.5 333.9,582.7"/>
<polygon fill="#F2CBCB" points="370.5,621.8 371.9,623.2 371.9,624.8 369.8,625.9 368.6,624.7 369.0,622.7"/>
<polygon fill="#998509" points="313.5,587.0 312.3,589.3 310.9,589.1 310.0,586.6 312.1,584.6"/>
<polygon fill="#FC9633" points="385.2,584.9 384.7,588.8 382.7,589.5 381.7,587.7 380.4,583.6 382.3,582.1 384.1,582.8"/>
<polygon fill="#FC9633" points="405.8,660.5 402.1,661.0 396.7,660.6 399.4,657.9 402.5,655.6 405.9,658.2"/>
<polygon fill="#FFD68F" points="318.6,592.6 314.9,590.2 315.4,581.7 318.0,579.7 320.0,584.7"/>
<polygon fill="#FCAB52" points="317.1,579.2 320.6,578.9 321.3,580.9 318.5,581.9 315.4,580.8"/>
<polygon fill="#FC9633" points="633.0,599.3 635.0,600.1 634.1,602.8 632.8,603.9 630.9,602.6 631.2,600.2"/>
<polygon fill="#FFBF70" points="623.6,668.8 619.0,669.1 619.0,666.4 619.8,664.5 624.5,664.0 626.9,665.8 626.1,668.7"/>
<polygon fill="#FFBF70" points="606.6,624.2 608.4,625.7 605.7,627.1 603.3,626.4 601.0,624.8 604.0,623.0"/>
<polygon fill="#F2CBCB" points="568.9,677.5 570.2,676.3 573.2,676.4 573.3,678.1 571.9,679.4 569.7,679.2"/>
<polygon fill="#FFD68F" points="639.7,638.0 636.5,636.5 637.2,631.2 640.2,629.8 641.6,635.3"/>
<polygon fill="#FFBF70" points="618.4,618.0 618.0,619.8 614.1,620.5 610.9,619.7 610.5,617.4 612.7,615.7 616.9,616.4"/>
<polygon fill="#FFD68F" points="577.8,670.4 573.3,670.6 571.9,668.1 574.7,666.6 577.2,667.4"/>
<polygon fill="#FC9633" points="563.6,681.3 561.7,677.7 563.4,674.3 566.3,675.0 568.2,677.4 566.3,680.4"/>
<polygon fill="#FFBF70" points="611.7,656.0 613.5,653.3 615.3,652.6 616.5,655.2 616.4,658.6 614.9,661.5 612.4,658.4"/>
<polygon fill="#FFBF70" points="663.9,675.6 662.7,673.6 666.1,672.3 669.4,672.0 673.4,673.6 673.3,675.8 667.9,676.9"/>
<polygon fill="#FFBF70" points="588.7,627.3 589.8,624.1 595.1,625.1 595.5,627.2 592.1,628.7"/>
<polygon fill="#FFD68F" points="682.4,677.1 677.7,678.0 676.3,675.5 678.0,673.2 681.6,673.9"/>
<polygon fill="#998509" points="602.9,657.2 599.8,660.1 595.0,658.9 594.2,656.2 599.7,654.9"/>
<polygon fill="#FFD68F" points="659.4,611.6 656.8,609.6 660.1,608.5 663.9,609.3 662.5,610.5"/>
<polygon fill="#FFD68F" points="596.4,644.9 599.3,647.5 597.6,650.8 592.9,652.0 590.6,648.1 591.8,645.8"/>
<polygon fill="#FFD68F" points="664.1,646.5 665.5,640.7 669.9,639.6 669.9,646.3 667.3,650.6"/>
<polygon fill="#F2CBCB" points="659.8,659.8 665.0,660.6 665.4,663.7 660.7,665.8 658.6,663.1"/>
<polygon fill="#FFD68F" points="610.7,674.7 607.0,675.1 604.0,671.6 607.7,667.7 611.0,670.5"/>
<polygon fill="#998509" points="635.0,654.8 636.6,652.3 640.8,653.5 640.8,655.7 636.9,656.3"/>
<polygon fill="#FC9633" points="602.0,611.6 601.3,614.1 597.2,614.2 595.1,612.2 598.9,611.4"/>
<polygon fill="#FC9633" points="675.1,605.9 672.7,605.7 670.7,604.2 672.8,603.0 675.9,603.0"/>
<polygon fill="#FFD68F" points="562.6,671.6 565.5,672.4 565.0,679.0 562.6,680.6 561.8,676.5"/>
<polygon fill="#998509" points="629.4,656.7 627.4,656.8 627.2,653.4 629.0,652.4 630.8,651.5 632.3,654.4 631.0,656.4"/>
<polygon fill="#FFBF70" points="572.0,692.5 574.1,691.3 574.5,695.7 573.2,697.3 571.6,696.5"/>
<polygon fill="#FFD68F" points="566.6,652.4 568.8,653.0 568.9,654.9 565.5,655.5 563.5,654.1 564.1,652.4"/>
<polygon fill="#FC9633" points="650.3,676.0 653.5,677.0 654.6,679.0 653.3,681.2 649.9,680.7 647.0,679.7 647.9,677.4"/>
<polygon fill="#FFD68F" points="575.1,661.6 574.0,660.4 574.0,658.4 576.5,658.2 577.9,659.3 577.4,661.8"/>
<polygon fill="#FC9633" points="651.1,630.3 649.2,627.8 651.5,625.5 654.2,625.9 657.5,626.4 656.5,628.2 655.0,630.3"/>
<polygon fill="#FFBF70" points="611.9,585.4 613.0,581.2 616.5,577.3 619.6,580.7 620.2,584.6 616.5,588.2"/>
<polygon fill="#FFBF70" points="569.8,656.5 571.2,658.0 569.0,659.8 566.7,659.0 565.5,658.0 565.8,656.1 567.9,654.6"/>
<polygon fill="#998509" points="630.9,612.8 628.4,614.7 622.9,615.8 621.2,612.7 623.1,609.8 628.6,610.1"/>
<polygon fill="#FFBF70" points="602.7,587.3 606.3,586.6 608.8,590.3 605.6,592.8 601.4,590.4"/>
<polygon fill="#998509" points="677.1,621.0 678.5,619.6 682.7,620.1 681.4,622.2 678.1,622.9"/>
<polygon fill="#FFBF70" points="639.4,604.3 638.4,605.7 636.2,605.2 635.1,603.6 638.2,602.4"/>
<polygon fill="#FFD68F" points="668.0,646.3 668.5,650.4 666.9,651.4 664.9,650.1 664.4,647.8 665.1,644.4 667.1,644.4"/>
<polygon fill="#FFD68F" points="597.6,653.4 595.6,652.3 595.2,648.6 596.6,644.6 598.9,644.1 600.5,648.9 600.1,653.2"/>
<polygon fill="#FC9633" points="616.9,604.5 619.8,606.8 618.3,608.7 614.7,609.1 613.8,606.1"/>
<polygon fill="#FFBF70" points="660.3,654.4 658.0,654.6 656.5,653.1 657.1,651.8 659.4,650.2 661.9,651.2 661.1,653.4"/>
<polygon fill="#FFBF70" points="574.8,684.6 573.4,688.8 571.0,689.3 569.1,685.7 569.0,679.9 571.5,677.5 573.8,680.5"/>
<polygon fill="#FC9633" points="666.3,617.0 668.2,617.9 668.1,619.8 664.6,620.4 662.2,619.0 663.2,616.7"/>
<polygon fill="#FFBF70" points="680.1,650.2 681.4,653.5 681.9,656.7 681.4,659.0 679.6,661.8 678.6,657.4 678.9,652.9"/>
<polygon fill="#FFBF70" points="650.0,594.0 649.0,591.3 649.7,587.7 650.9,587.8 651.6,591.8"/>
<polygon fill="#FFD68F" points="599.3,618.8 600.8,614.2 603.9,617.4 603.5,621.4 601.0,622.2"/>
<polygon fill="#FFBF70" points="669.1,630.3 667.6,630.8 667.4,628.6 667.7,626.9 668.9,626.4 670.0,627.4 670.6,629.4"/>
<polygon fill="#FC9633" points="672.8,645.6 677.8,647.2 675.3,649.4 670.9,650.6 668.0,649.0 668.4,646.6"/>
<polygon fill="#FFD68F" points="656.9,579.4 658.3,580.8 657.9,582.1 654.2,582.6 652.2,582.0 651.5,579.7 654.3,578.9"/>
<polygon fill="#F2CBCB" points="628.9,685.7 623.2,686.2 622.9,684.0 624.1,682.3 627.6,682.0 633.4,682.5 631.9,684.7"/>
<polygon fill="#998509" points="660.4,671.2 664.3,669.9 667.7,671.5 667.8,674.0 664.9,676.6 660.7,674.7"/>
<polygon fill="#FFD68F" points="578.0,661.0 579.2,662.2 579.1,663.6 575.5,665.2 572.0,663.7 573.7,661.6 575.3,659.5"/>
<polygon fill="#FFBF70" points="626.0,642.2 623.0,646.1 620.1,645.3 619.3,641.0 620.3,636.8 622.8,636.8 624.7,639.3"/>
<polygon fill="#998509" points="640.0,594.0 641.0,590.8 644.2,590.5 645.4,591.6 646.2,595.5 643.1,595.2"/>
<polygon fill="#FC9633" points="568.4,678.1 566.8,677.0 569.1,675.7 572.0,676.1 573.4,677.7 570.9,678.9"/>
<polygon fill="#FFD68F" points="654.8,619.3 652.4,620.7 649.9,619.6 650.0,617.8 652.0,616.0 654.1,617.2"/>
<polygon fill="#998509" points="597.6,689.6 595.3,688.4 595.1,686.9 597.7,685.6 599.3,687.7"/>
<polygon fill="#FC9633" points="594.8,666.9 591.4,665.9 591.5,664.4 594.4,663.6 598.2,664.2 597.4,666.0"/>
<polygon fill="#FFD68F" points="682.0,669.0 684.8,669.5 687.6,670.8 685.8,672.1 682.4,672.6 679.3,671.9 679.5,669.9"/>
<polygon fill="#FC9633" points="578.4,679.9 574.4,679.0 573.4,674.3 576.3,671.9 580.8,674.2"/>
<polygon fill="#FFD68F" points="562.6,671.2 565.6,672.8 565.1,674.7 561.8,674.7 559.3,674.0 560.0,672.0"/>
<polygon fill="#FFD68F" points="603.2,660.5 602.0,661.5 601.1,659.2 601.1,657.3 602.2,655.2 603.3,656.9 603.8,658.6"/>
<polygon fill="#FC9633" points="596.2,622.8 599.8,620.5 604.3,621.3 604.6,624.4 602.3,625.9 599.0,625.4"/>
<polygon fill="#FFD68F" points="634.3,585.6 631.8,584.3 632.0,583.0 636.3,582.7 637.7,584.5"/>
<polygon fill="#998509" points="637.1,604.9 638.3,607.3 638.3,610.8 636.4,612.4 634.7,611.7 634.7,607.8 635.0,605.9"/>
<polygon fill="#FFD68F" points="648.0,679.2 651.0,682.0 649.6,686.1 646.6,687.4 644.0,684.2 645.5,680.5"/>
<polygon fill="#998509" points="635.5,650.3 637.8,647.8 640.8,649.7 641.3,651.9 638.4,653.5 634.3,652.5"/>
<polygon fill="#FFD68F" points="650.4,653.2 654.6,655.1 652.1,658.4 647.7,658.3 645.2,653.4"/>
<polygon fill="#FC9633" points="655.6,641.7 652.8,642.2 651.5,638.1 653.7,633.9 655.6,632.0 656.9,636.6 658.2,640.2"/>
<polygon fill="#998509" points="600.0,608.4 603.4,610.1 605.3,612.5 601.9,614.8 598.1,614.9 596.4,612.3 596.5,610.3"/>
<polygon fill="#FFD68F" points="649.6,588.4 646.8,586.9 646.9,582.2 647.8,576.8 651.2,577.3 651.2,584.1"/>
<polygon fill="#F2CBCB" points="662.8,622.0 661.6,623.6 658.5,623.6 656.3,623.1 655.9,621.2 658.2,620.0 661.1,620.5"/>
<polygon fill="#998509" points="592.4,686.1 590.4,682.6 592.3,680.0 596.2,678.8 599.6,681.9 599.5,684.6 595.9,686.1"/>
<polygon fill="#FFD68F" points="642.7,645.1 644.9,644.9 645.7,647.9 644.4,652.0 641.5,649.8"/>
<polygon fill="#F2CBCB" points="671.6,580.6 674.1,584.2 676.0,587.4 673.4,590.5 671.7,593.3 669.4,589.0 670.2,584.4"/>
<polygon fill="#FFD68F" points="647.4,682.2 648.0,680.6 650.0,680.6 651.6,681.3 652.1,682.5 649.2,683.4"/>
<polygon fill="#FFBF70" points="621.9,583.7 623.8,586.1 622.7,587.9 621.1,588.6 619.5,588.2 619.2,585.9 620.0,584.8"/>
<polygon fill="#FC9633" points="656.9,637.2 656.3,634.1 658.8,632.2 660.3,635.1 659.2,637.4"/>
<polygon fill="#FFD68F" points="663.3,639.8 660.2,643.1 656.0,641.3 657.3,636.5 661.6,636.6"/>
<polygon fill="#FC9633" points="648.1,632.5 646.5,632.7 646.3,626.7 646.8,621.9 649.5,622.7 651.0,627.4 650.0,632.7"/>
<polygon fill="#FFBF70" points="623.2,640.5 622.3,641.7 620.1,642.2 617.5,641.4 618.9,639.8 621.1,639.1"/>
<polygon fill="#F2CBCB" points="555.9,682.0 559.3,680.0 562.9,681.4 561.3,683.5 558.3,683.4"/>
<polygon fill="#FFBF70" points="642.0,595.6 642.9,597.6 643.0,601.4 642.4,604.8 640.8,604.3 639.7,600.9 640.5,597.9"/>
<polygon fill="#FFBF70" points="603.3,638.4 606.1,639.1 605.8,640.6 602.9,641.0 602.0,639.7"/>
<polygon fill="#FFBF70" points="626.2,657.1 623.7,659.8 617.3,660.3 612.9,658.2 612.5,656.0 617.7,653.8 622.9,654.7"/>
<polygon fill="#FFD68F" points="620.6,657.5 618.2,657.8 617.2,656.2 618.6,654.4 621.1,655.2 621.9,656.1"/>
<polygon fill="#998509" points="620.6,584.9 620.8,581.3 621.8,578.2 628.2,579.4 631.5,582.0 626.2,585.2"/>
<polygon fill="#FFBF70" points="625.5,617.7 620.5,617.3 617.9,614.7 621.4,612.1 626.6,613.0 628.2,615.1"/>
<polygon fill="#FFD68F" points="682.6,669.8 680.4,669.9 679.8,668.4 680.8,667.2 683.5,666.8 684.5,668.0 684.6,669.4"/>
<polygon fill="#998509" points="625.3,647.3 627.8,647.6 629.1,648.7 626.9,649.4 622.9,649.3 623.3,648.1"/>
<polygon fill="#FFBF70" points="600.7,675.6 599.2,676.8 597.1,675.6 597.9,673.7 598.7,671.5 600.6,671.8 602.2,674.1"/>
<polygon fill="#FFD68F" points="651.5,586.3 652.1,583.8 653.5,584.5 654.0,586.4 653.4,588.4 652.0,589.5"/>
<polygon fill="#FFBF70" points="569.6,696.6 573.8,699.3 568.5,700.3 563.2,700.0 559.9,697.5 565.5,696.1"/>
<polygon fill="#FC9633" points="612.0,603.8 611.4,606.2 607.3,605.2 607.1,603.2 610.1,601.7"/>
<polygon fill="#998509" points="572.7,654.2 570.9,657.8 569.2,656.7 567.9,654.3 569.2,652.1 571.1,650.6"/>
<polygon fill="#FFD68F" points="640.6,663.8 637.1,662.6 634.5,660.2 636.1,657.5 640.1,656.3 642.3,658.7 644.4,661.5"/>
<polygon fill="#FFD68F" points="615.6,635.7 620.3,637.3 620.8,639.8 613.5,640.8 612.1,637.9"/>
<polygon fill="#FFD68F" points="669.6,647.3 671.4,646.5 674.0,646.9 674.3,648.3 673.1,650.2 670.0,649.2"/>
<polygon fill="#F2CBCB" points="644.8,667.9 648.1,666.2 650.7,667.3 651.3,670.9 646.3,672.2"/>
<polygon fill="#FFD68F" points="624.6,614.1 621.1,616.3 616.9,618.2 613.5,616.3 609.4,613.9 613.8,612.6 619.7,611.4"/>
<polygon fill="#998509" points="662.6,668.0 666.7,664.4 673.1,667.2 670.2,671.9 664.1,672.0"/>
<polygon fill="#FFBF70" points="634.2,627.4 638.6,628.6 637.1,631.5 630.3,631.7 630.9,628.5"/>
<polygon fill="#FFD68F" points="595.7,671.2 593.8,670.3 591.5,666.9 592.2,658.9 595.3,659.7 597.5,663.6"/>
<polygon fill="#FC9633" points="636.1,667.5 638.2,667.1 640.1,666.9 642.6,671.3 639.6,675.2 637.1,674.4 635.4,672.4"/>
<polygon fill="#FFD68F" points="650.6,618.1 648.2,618.9 646.5,618.3 646.0,616.5 647.9,615.1 650.5,616.6"/>
<polygon fill="#998509" points="630.3,643.1 630.0,644.6 627.1,644.6 625.9,643.1 627.6,641.2 629.6,641.8"/>
<polygon fill="#FFBF70" points="605.2,591.1 603.7,590.3 602.3,588.0 605.0,586.6 607.6,587.0 609.3,588.7 607.5,590.9"/>
<polygon fill="#FC9633" points="642.4,657.1 645.2,655.3 650.1,656.2 651.3,657.5 649.9,659.0 646.1,659.8 641.1,658.9"/>
<polygon fill="#FFBF70" points="667.7,681.6 668.8,678.4 672.2,679.9 672.0,683.0 668.7,683.7"/>
<polygon fill="#FFBF70" points="659.3,647.4 659.7,650.2 657.6,650.9 656.1,650.0 655.2,647.6 656.2,644.8 658.3,645.9"/>
<polygon fill="#FFBF70" points="651.2,627.6 648.6,622.7 651.7,620.0 655.0,618.1 657.5,623.3 655.0,626.1"/>
<polygon fill="#FFBF70" points="595.4,664.1 598.8,661.7 602.2,664.5 602.3,667.9 598.8,670.7 596.2,668.7"/>
<polygon fill="#FFD68F" points="602.1,622.7 602.0,620.6 603.7,619.4 606.2,619.2 606.1,622.1 604.9,624.3"/>
<polygon fill="#F2CBCB" points="593.4,606.2 589.8,607.9 585.7,606.7 587.2,604.6 590.0,603.7 594.6,604.9"/>
<polygon fill="#F2CBCB" points="568.6,637.0 570.2,635.5 571.8,634.9 572.8,637.8 572.3,640.6 570.4,641.0 568.8,639.9"/>
<polygon fill="#F76666" points="586.0,592.4 586.9,590.7 591.7,590.3 595.0,591.8 592.3,593.7 589.3,594.1"/>
<polygon fill="#F2CBCB" points="565.3,589.7 569.8,589.9 569.6,592.7 564.6,592.7 562.0,590.9"/>
<polygon fill="#FCAB52" points="558.0,592.7 561.1,592.1 562.5,595.1 559.3,596.3 557.4,595.4"/>
<polygon fill="#F2CBCB" points="578.6,629.4 578.5,631.8 575.8,633.2 573.0,630.8 575.4,628.8"/>
<polygon fill="#FCAB52" points="575.8,616.2 574.9,614.6 577.2,613.6 581.8,614.0 580.1,615.6"/>
<polygon fill="#F2CBCB" points="560.1,617.0 562.1,617.7 563.5,621.2 561.6,625.9 559.9,624.0 559.5,620.0"/>
<polygon fill="#FCAB52" points="571.7,621.8 569.4,620.3 571.1,618.6 573.4,618.4 574.4,619.8 573.9,621.5"/>
<polygon fill="#FCAB52" points="560.2,628.1 558.2,627.0 559.0,625.4 562.2,625.5 564.7,625.7 565.1,627.4 562.9,628.3"/>
<polygon fill="#F2CBCB" points="597.4,596.4 596.7,595.1 598.7,594.0 600.5,594.4 600.6,596.0 599.5,596.7"/>
<polygon fill="#F2CBCB" points="573.1,626.3 573.0,628.4 571.2,629.6 570.6,626.5 571.3,623.9 572.7,623.0"/>
<polygon fill="#F76666" points="562.3,627.4 562.3,625.5 564.8,625.0 566.1,625.9 565.4,627.1"/>
<polygon fill="#F2CBCB" points="576.1,591.4 575.1,590.1 574.6,586.0 575.8,583.4 577.4,583.4 577.9,587.3 577.8,591.8"/>
<polygon fill="#F2CBCB" points="570.7,601.3 571.2,604.0 570.4,605.9 569.0,605.5 569.2,602.3"/>
<polygon fill="#F2CBCB" points="589.7,623.9 590.9,622.9 592.4,622.9 592.7,624.1 592.3,624.7 590.2,625.0"/>
<polygon fill="#FCAB52" points="590.4,597.7 587.7,598.5 585.0,597.1 585.3,595.8 586.3,594.1 589.7,595.0 591.1,596.1"/>
<polygon fill="#F76666" points="578.7,607.0 576.0,607.4 575.0,606.5 574.5,605.3 576.5,604.2 578.1,604.6 579.1,605.9"/>
<polygon fill="#F76666" points="568.2,593.3 567.8,596.5 566.5,596.0 565.9,593.4 566.3,589.8 567.8,590.9"/>
<polygon fill="#F76666" points="574.5,627.8 575.5,628.2 575.9,632.2 575.2,634.9 573.9,636.7 572.4,632.8 573.4,629.4"/>
<polygon fill="#F2CBCB" points="562.9,585.8 558.8,584.4 556.1,583.3 559.2,582.0 562.4,580.7 566.0,582.3 565.1,584.4"/>
<polygon fill="#F2CBCB" points="589.4,603.7 590.6,602.2 591.6,602.1 592.3,603.6 592.3,604.8 591.0,605.4 589.8,605.0"/>
<polygon fill="#F76666" points="568.4,646.2 570.0,646.1 570.3,647.8 570.3,649.7 568.9,652.2 567.5,649.7 567.4,647.3"/>
<polygon fill="#F76666" points="557.5,584.3 554.6,582.5 557.7,580.6 560.9,581.0 562.3,582.5 560.8,583.9"/>
<polygon fill="#F2CBCB" points="568.9,643.6 567.9,646.6 565.1,646.1 564.2,643.8 566.4,642.3"/>
<polygon fill="#FFD68F" points="649.3,705.0 650.6,705.8 649.9,706.8 648.2,706.8 645.2,706.9 644.9,705.7 647.2,704.6"/>
<polygon fill="#FFD68F" points="646.8,688.0 649.2,687.8 649.9,689.0 649.9,690.3 648.2,690.5 646.7,690.1 645.9,689.1"/>
<polygon fill="#BDB000" points="645.5,708.0 646.9,710.6 643.6,712.6 641.2,710.7 639.5,708.8 641.3,706.3 644.4,706.7"/>
<polygon fill="#BDB000" points="645.3,707.0 644.2,709.0 642.2,709.1 641.3,707.0 643.3,705.5"/>
<polygon fill="#E0D800" points="656.5,713.4 652.8,714.7 650.8,713.3 650.0,711.6 652.9,709.7 656.3,710.4 659.0,712.2"/>
<polygon fill="#FFD68F" points="654.3,708.5 656.7,706.5 660.1,708.7 659.1,712.9 657.1,714.8 653.7,714.2"/>
<polygon fill="#BDB000" points="644.1,704.6 647.1,703.9 650.1,706.5 647.9,710.2 645.0,709.5"/>
<polygon fill="#FFD68F" points="643.0,695.3 638.9,692.2 640.2,688.2 644.8,688.0 646.1,691.9"/>
<polygon fill="#BDB000" points="645.3,719.1 644.4,720.6 643.6,720.6 642.5,718.3 643.1,716.3 644.4,714.1 644.9,716.4"/>
<polygon fill="#BDB000" points="635.9,705.9 635.6,703.1 637.4,701.1 638.6,703.0 638.6,705.7 637.2,706.5"/>
<polygon fill="#BDB000" points="653.7,738.4 656.1,737.9 658.8,742.2 656.1,744.7 653.6,744.1"/>
<polygon fill="#E0D800" points="631.1,695.1 624.1,694.2 620.3,692.2 625.6,690.3 633.1,690.8 634.5,692.7"/>
<polygon fill="#E0D800" points="642.8,724.5 647.4,724.6 649.8,725.7 647.2,727.1 642.0,726.4"/>
<polygon fill="#FFD68F" points="666.7,697.9 664.5,701.0 660.7,699.6 660.1,694.9 664.0,693.7"/>
<polygon fill="#FFD68F" points="638.4,714.8 637.8,712.8 638.9,711.9 642.8,711.6 644.2,713.8 641.6,715.6"/>
<polygon fill="#BDB000" points="654.4,747.2 653.9,744.6 660.8,744.1 665.4,746.1 660.7,747.9"/>
<polygon fill="#FFD68F" points="651.3,709.2 651.8,707.4 653.5,707.7 654.4,708.5 654.3,709.8 652.1,711.0"/>
<polygon fill="#FFD68F" points="657.3,752.8 659.1,753.8 658.1,756.3 656.6,756.6 655.8,755.3 655.3,752.8"/>
<polygon fill="#FFD68F" points="648.1,690.3 643.1,687.9 643.3,685.2 648.7,682.9 653.8,683.3 654.7,686.4 653.4,688.3"/>
<polygon fill="#FFD68F" points="647.5,719.3 647.0,716.8 653.4,716.4 657.8,718.8 651.8,720.4"/>
<polygon fill="#FFD68F" points="670.1,685.3 670.2,682.6 674.2,682.4 675.7,684.2 674.8,686.4 672.2,687.0"/>
<polygon fill="#E0D800" points="656.2,747.8 654.9,751.1 653.9,748.2 653.3,743.0 654.9,740.3 655.8,743.0"/>
<polygon fill="#BDB000" points="673.4,690.6 671.3,689.5 671.5,686.1 673.6,685.2 674.3,687.6"/>
<polygon fill="#BDB000" points="657.8,757.7 656.7,757.7 656.5,754.4 657.1,752.1 658.0,750.9 659.0,753.7 658.9,756.2"/>
<polygon fill="#BDB000" points="657.8,699.1 657.7,691.5 659.6,689.8 662.2,689.5 662.0,697.8 660.2,702.2"/>
<polygon fill="#FFD68F" points="633.6,688.0 639.0,686.2 643.4,688.7 639.8,691.3 634.2,691.0"/>
<polygon fill="#FFD68F" points="635.2,700.1 633.7,697.9 633.7,694.6 636.0,694.2 638.4,695.1 638.4,697.1 637.7,700.1"/>
<polygon fill="#BDB000" points="659.3,735.9 661.9,738.8 660.4,743.0 658.6,744.0 656.5,743.7 655.5,740.1 655.6,737.9"/>
<polygon fill="#FFD68F" points="634.8,711.7 636.3,709.9 638.6,710.7 638.4,713.0 636.3,714.5"/>
<polygon fill="#BDB000" points="622.4,687.5 619.5,687.3 617.5,686.0 620.0,685.3 623.0,685.2 624.6,686.6"/>
<polygon fill="#F29999" points="1217.9,465.3 1219.4,464.8 1221.2,465.1 1221.0,466.4 1218.4,466.5"/>
<polygon fill="#F29999" points="1216.5,447.2 1216.6,450.0 1215.2,450.5 1214.0,450.2 1212.7,447.7 1214.0,445.0 1215.8,445.9"/>
<polygon fill="#4d4d4d" points="1220.1,454.5 1217.1,456.0 1213.1,456.8 1209.7,455.3 1212.0,453.4 1215.7,453.1"/>
<polygon fill="#4d4d4d" points="1207.6,472.2 1209.2,469.9 1214.0,468.9 1215.2,472.0 1211.8,474.1"/>
<polygon fill="#4d4d4d" points="1229.9,457.2 1232.8,459.1 1228.9,460.8 1223.7,460.6 1223.5,458.5 1224.7,457.0"/>
<polygon fill="#FC9633" points="1199.9,470.1 1202.2,469.3 1203.9,470.2 1203.3,472.5 1200.8,472.0"/>
<polygon fill="#4d4d4d" points="1223.2,447.1 1219.4,446.5 1218.2,445.3 1221.4,443.8 1224.3,444.5 1225.4,446.0"/>
<polygon fill="#FC9633" points="1220.4,473.7 1218.9,471.3 1218.6,468.3 1221.5,468.1 1222.2,471.3"/>
<polygon fill="#F29999" points="1229.2,451.1 1228.5,453.4 1226.0,453.7 1225.0,450.2 1227.7,448.4"/>
<polygon fill="#F29999" points="1261.9,458.4 1263.1,457.2 1265.9,457.5 1268.0,458.7 1265.8,459.5 1262.1,459.8"/>
<polygon fill="#FC9633" points="1234.3,455.0 1232.6,456.9 1231.4,453.1 1232.4,448.2 1233.9,448.2 1235.1,451.6"/>
<polygon fill="#F29999" points="1191.2,472.6 1191.3,472.0 1191.9,471.3 1194.2,471.3 1195.5,472.0 1195.3,472.9 1193.1,473.2"/>
<polygon fill="#F29999" points="1226.4,461.8 1223.3,463.2 1219.2,462.1 1218.8,460.0 1221.7,458.4 1226.4,459.3"/>
<polygon fill="#4d4d4d" points="1216.0,445.9 1218.4,447.1 1217.1,448.2 1214.3,448.4 1212.6,447.4 1212.9,446.3"/>
<polygon fill="#F29999" points="1244.8,458.9 1243.8,458.5 1243.6,457.4 1245.7,457.4 1247.4,457.5 1247.3,458.4 1246.5,459.1"/>
<polygon fill="#F29999" points="1271.2,451.3 1269.6,451.2 1268.3,450.3 1268.4,449.4 1270.4,448.6 1272.0,449.0 1272.4,450.1"/>
<polygon fill="#FC9633" points="1214.1,456.8 1216.6,457.6 1216.8,461.2 1213.6,461.9 1211.0,458.4"/>
<polygon fill="#F29999" points="1191.5,468.9 1193.5,465.3 1195.8,468.7 1195.6,471.6 1194.0,474.6 1191.8,472.7"/>
<polygon fill="#F29999" points="1209.1,450.0 1209.1,447.8 1214.0,446.8 1217.7,448.4 1217.2,450.0 1215.7,452.0 1211.2,452.3"/>
<polygon fill="#FC9633" points="1242.1,459.9 1240.4,458.7 1242.0,456.6 1244.8,457.3 1244.8,459.3"/>
<polygon fill="#4d4d4d" points="1267.6,441.6 1270.1,439.8 1273.4,440.0 1274.3,442.3 1272.0,443.9 1269.8,443.4"/>
<polygon fill="#4d4d4d" points="1209.6,458.9 1208.5,458.8 1208.2,456.7 1209.1,455.5 1210.3,454.6 1210.5,456.6 1210.4,458.5"/>
<polygon fill="#4d4d4d" points="1228.2,466.6 1225.7,467.8 1223.8,466.0 1225.1,463.2 1227.5,463.1"/>
<polygon fill="#F29999" points="1206.0,466.1 1206.7,462.4 1208.2,464.0 1209.8,467.2 1208.2,472.3 1206.3,471.0"/>
<polygon fill="#FC9633" points="1202.5,457.1 1205.1,455.7 1209.3,457.2 1206.8,459.3 1202.5,459.1"/>
<polygon fill="#4d4d4d" points="1245.7,452.7 1248.5,454.0 1247.3,456.4 1243.8,456.4 1243.8,454.2"/>
<polygon fill="#FC9633" points="1245.4,449.5 1248.6,450.8 1249.6,453.0 1248.5,455.7 1245.3,456.1 1244.1,453.0"/>
<polygon fill="#F29999" points="1209.5,451.5 1211.6,451.1 1213.8,451.7 1214.1,456.2 1211.1,456.6 1209.0,455.2"/>
<polygon fill="#4d4d4d" points="1252.4,454.7 1249.7,457.8 1245.8,456.3 1244.8,453.9 1249.1,452.0"/>
<polygon fill="#F29999" points="1225.9,450.0 1227.6,448.5 1228.8,450.0 1228.3,452.6 1227.0,452.5"/>
<polygon fill="#F29999" points="1217.1,457.5 1220.5,456.9 1224.0,458.1 1224.1,459.7 1222.2,461.5 1218.2,462.1 1217.3,459.7"/>
<polygon fill="#4d4d4d" points="1203.7,466.2 1203.1,468.8 1200.1,469.1 1198.3,466.8 1200.9,465.4"/>
<polygon fill="#F29999" points="1206.3,464.0 1207.6,464.7 1206.3,465.4 1204.6,465.5 1203.7,464.7 1204.3,464.0"/>
<polygon fill="#4d4d4d" points="1234.2,450.8 1236.0,448.9 1240.1,449.0 1242.8,450.9 1240.4,453.2 1236.2,453.7"/>
<polygon fill="#F29999" points="1265.5,444.6 1268.3,446.0 1267.1,448.5 1264.7,449.1 1263.0,447.7 1263.0,445.7"/>
<polygon fill="#F2CBCB" points="1167.0,432.6 1167.8,431.2 1171.4,431.5 1170.7,433.1 1168.0,433.6"/>
<polygon fill="#F29999" points="1185.4,438.0 1183.0,439.3 1181.6,437.9 1181.2,434.9 1182.9,431.1 1184.4,433.9"/>
<polygon fill="#F2CBCB" points="1192.8,450.9 1194.0,449.3 1195.0,451.5 1194.2,453.7 1192.9,453.0"/>
<polygon fill="#F29999" points="1256.8,429.5 1256.1,429.1 1255.5,427.0 1257.0,425.9 1258.8,426.8 1259.1,428.5 1258.1,429.7"/>
<polygon fill="#F2CBCB" points="1267.0,426.2 1268.4,423.9 1269.9,427.5 1269.3,430.5 1267.0,432.2 1266.1,428.4"/>
<polygon fill="#F29999" points="1190.3,454.9 1190.4,457.7 1189.9,460.6 1188.3,458.5 1188.9,455.2"/>
<polygon fill="#F2CBCB" points="1207.0,445.4 1207.9,443.0 1212.0,443.8 1214.3,445.8 1209.4,446.8"/>
<polygon fill="#F2CBCB" points="1167.6,434.5 1165.4,432.5 1165.6,428.6 1168.6,428.2 1170.7,431.8"/>
<polygon fill="#F29999" points="1184.7,451.0 1185.1,450.0 1185.9,449.7 1186.8,450.6 1186.7,452.5 1185.7,452.7 1184.8,452.6"/>
<polygon fill="#F29999" points="1267.9,424.0 1264.9,423.7 1262.6,422.9 1264.7,421.9 1267.0,421.4 1268.2,422.5"/>
<polygon fill="#F2CBCB" points="1221.0,426.8 1219.3,424.6 1222.4,423.5 1227.7,423.3 1227.4,425.7 1225.2,427.8"/>
<polygon fill="#F29999" points="1224.3,424.8 1223.1,422.7 1223.7,420.4 1225.1,420.1 1226.7,421.5 1226.7,423.6"/>
<polygon fill="#F2CBCB" points="1268.2,427.4 1264.0,427.4 1261.4,425.9 1262.5,424.2 1265.3,423.7 1268.1,424.2 1269.9,425.6"/>
<polygon fill="#F2CBCB" points="1243.4,434.0 1243.5,435.9 1242.9,437.7 1241.9,437.1 1241.1,435.6 1241.6,434.1 1242.6,433.5"/>
<polygon fill="#F2CBCB" points="1244.6,432.2 1244.4,435.5 1242.2,436.1 1240.1,433.4 1242.5,431.5"/>
<polygon fill="#F2CBCB" points="1244.1,444.2 1242.2,446.3 1237.2,446.5 1234.4,444.5 1239.2,443.7"/>
<polygon fill="#F2CBCB" points="1235.4,447.4 1235.1,448.7 1233.6,448.6 1233.6,447.1 1234.6,446.3"/>
<polygon fill="#F2CBCB" points="1222.6,445.2 1220.0,446.6 1216.0,446.6 1213.1,445.7 1212.1,444.2 1216.4,442.6 1220.5,443.4"/>
<polygon fill="#F29999" points="1171.3,430.6 1170.7,432.2 1165.0,432.1 1164.3,430.0 1168.4,429.5"/>
<polygon fill="#F2CBCB" points="1194.5,460.4 1196.6,460.8 1196.2,462.1 1194.4,462.8 1192.0,462.5 1190.6,461.2 1192.7,459.9"/>
<polygon fill="#F2CBCB" points="1161.6,428.0 1162.1,425.9 1164.0,425.7 1165.7,427.2 1164.5,429.1 1163.1,429.3"/>
<polygon fill="#F29999" points="1220.2,430.6 1218.8,431.5 1216.6,431.6 1215.1,431.0 1215.3,429.7 1217.0,428.8 1219.3,429.4"/>
<polygon fill="#F29999" points="1240.5,424.5 1238.7,426.5 1235.7,425.2 1235.0,423.3 1235.9,420.4 1238.1,419.8 1239.7,421.4"/>
<polygon fill="#F2CBCB" points="1206.6,437.8 1208.2,437.2 1209.4,437.6 1210.2,438.9 1208.7,439.6 1207.0,439.2"/>
<polygon fill="#F2CBCB" points="1234.5,427.6 1235.2,429.0 1234.2,430.7 1232.6,431.0 1230.9,429.6 1231.1,427.8 1232.8,426.9"/>
<polygon fill="#F2CBCB" points="1169.2,531.5 1167.1,533.5 1164.2,532.7 1163.7,529.9 1164.0,527.9 1167.2,527.3 1169.8,528.1"/>
<polygon fill="#F2CBCB" points="1192.6,495.8 1193.7,494.1 1195.9,494.6 1195.4,497.4 1193.4,498.3"/>
<polygon fill="#F29999" points="1124.8,549.7 1126.7,551.5 1125.9,553.3 1123.6,553.8 1122.1,552.5 1122.2,550.4"/>
<polygon fill="#F2CBCB" points="1148.8,534.3 1148.6,532.0 1150.2,531.2 1154.4,531.3 1153.5,533.5 1151.6,534.5"/>
<polygon fill="#F2CBCB" points="1135.3,542.8 1135.9,545.2 1133.8,547.5 1132.3,545.3 1133.2,542.7"/>
<polygon fill="#F2CBCB" points="1201.2,496.5 1202.4,496.3 1203.6,497.4 1202.6,498.6 1201.2,499.0"/>
<polygon fill="#FCAB52" points="1139.8,539.9 1139.3,537.8 1141.2,536.5 1143.8,537.6 1143.5,540.2"/>
<polygon fill="#FCAB52" points="1189.3,508.1 1191.6,505.7 1194.4,506.8 1194.1,508.8 1191.4,509.5"/>
<polygon fill="#FCAB52" points="1210.8,489.1 1214.1,490.9 1211.5,492.5 1207.5,492.4 1206.4,490.4"/>
<polygon fill="#FCAB52" points="1112.8,562.1 1113.8,564.4 1112.5,565.8 1111.2,565.3 1111.6,562.7"/>
<polygon fill="#F2CBCB" points="1171.5,528.7 1172.9,529.5 1171.8,530.2 1169.4,530.3 1169.5,529.2"/>
<polygon fill="#F2CBCB" points="1165.4,522.0 1163.3,524.7 1160.6,523.0 1161.5,519.3 1164.0,519.4"/>
<polygon fill="#F2CBCB" points="1111.1,572.2 1109.7,570.6 1112.4,569.4 1115.6,569.7 1117.8,571.0 1115.1,572.0"/>
<polygon fill="#F2CBCB" points="1143.0,544.2 1142.2,545.8 1141.1,546.4 1139.7,546.8 1138.5,544.8 1139.9,543.0 1141.6,543.2"/>
<polygon fill="#FCAB52" points="1122.5,553.8 1122.1,555.4 1121.4,554.9 1121.1,553.1 1121.1,550.7 1122.0,550.6 1122.6,552.3"/>
<polygon fill="#F29999" points="1147.7,535.9 1148.1,538.0 1147.6,539.2 1146.5,538.5 1146.4,536.5"/>
<polygon fill="#F29999" points="1102.3,577.7 1106.4,578.4 1105.0,580.5 1101.3,580.3 1098.5,578.9"/>
<polygon fill="#F2CBCB" points="1167.5,527.0 1168.4,528.2 1167.7,528.9 1165.3,529.1 1164.2,528.3 1164.6,527.5"/>
<polygon fill="#FCAB52" points="1149.3,535.4 1150.3,534.9 1151.1,536.7 1150.8,539.3 1149.7,539.3 1149.0,539.1 1148.3,536.5"/>
<polygon fill="#FCAB52" points="1195.7,497.6 1197.0,493.6 1199.4,492.7 1200.0,498.7 1197.7,501.6"/>
<polygon fill="#FCAB52" points="1114.4,553.5 1113.8,552.5 1115.6,552.0 1118.8,552.0 1118.2,552.9 1117.1,553.6"/>
<polygon fill="#F2CBCB" points="1107.4,557.4 1107.3,554.6 1109.1,554.5 1110.7,556.3 1109.0,558.7"/>
<polygon fill="#F2CBCB" points="1144.7,547.5 1142.6,549.5 1140.2,548.0 1139.3,545.7 1141.7,543.1 1143.6,543.9"/>
<polygon fill="#FCAB52" points="1125.4,563.0 1125.5,565.8 1122.4,567.0 1120.5,564.7 1121.8,563.3"/>
<polygon fill="#FCAB52" points="1097.6,568.1 1099.3,566.7 1101.8,567.2 1103.4,568.1 1100.2,568.5"/>
<polygon fill="#FCAB52" points="1103.9,581.0 1101.1,579.9 1100.4,579.0 1100.2,576.0 1102.3,576.2 1105.1,576.5 1104.5,578.8"/>
<polygon fill="#F29999" points="1105.9,573.7 1108.7,573.6 1110.7,575.2 1108.3,576.7 1105.5,577.3 1104.4,575.4"/>
<polygon fill="#F2CBCB" points="1136.3,550.6 1138.3,550.2 1140.6,550.9 1141.3,552.0 1139.4,552.7 1136.9,553.3 1135.3,551.9"/>
<polygon fill="#FCAB52" points="1129.0,552.5 1130.6,550.9 1132.1,550.0 1133.3,552.4 1132.9,555.9 1131.3,557.9 1129.5,556.2"/>
<polygon fill="#F29999" points="1188.6,502.2 1191.2,500.6 1195.0,500.8 1196.1,502.6 1192.0,504.1"/>
<polygon fill="#F2CBCB" points="1210.4,490.3 1205.7,491.7 1201.3,491.0 1200.1,489.0 1203.9,488.3 1208.9,488.6"/>
<polygon fill="#F2CBCB" points="1169.9,519.9 1171.3,520.6 1171.1,522.7 1170.3,524.5 1169.1,523.3 1168.4,521.0"/>
<polygon fill="#F2CBCB" points="1163.0,527.6 1165.4,527.1 1168.3,527.6 1169.6,529.8 1166.0,530.6 1163.5,530.2 1162.6,529.1"/>
<polygon fill="#FCAB52" points="1208.2,490.7 1209.1,493.3 1208.7,496.0 1206.8,495.0 1206.0,492.6"/>
<polygon fill="#F2CBCB" points="1180.6,514.9 1177.4,513.4 1178.1,511.2 1181.4,511.0 1183.5,511.8 1184.2,513.7"/>
<polygon fill="#F2CBCB" points="1205.8,487.7 1206.5,486.3 1208.0,485.4 1209.3,486.8 1208.7,488.2 1208.1,489.7 1206.5,489.7"/>
<polygon fill="#F2CBCB" points="1105.0,559.8 1106.1,560.9 1105.7,563.2 1104.6,563.2 1104.2,561.2"/>
<polygon fill="#F29999" points="1101.7,584.6 1101.0,586.2 1099.7,585.9 1098.8,583.9 1100.1,582.2 1101.5,581.5"/>
<polygon fill="#FCAB52" points="1190.5,507.9 1189.3,507.6 1188.3,506.7 1189.9,505.7 1191.6,506.1 1192.3,506.8 1192.0,508.0"/>
<polygon fill="#FCAB52" points="1191.7,512.5 1189.8,511.8 1188.9,510.4 1192.4,509.9 1195.1,510.6 1194.1,511.8"/>
<polygon fill="#FCAB52" points="1092.6,587.4 1091.6,590.1 1089.7,588.3 1089.3,584.8 1090.4,582.4 1091.9,580.9 1093.1,583.8"/>
<polygon fill="#F2CBCB" points="1088.4,589.8 1089.9,589.7 1091.0,590.8 1089.6,591.5 1087.2,591.3 1085.9,591.0 1086.8,590.0"/>
<polygon fill="#F2CBCB" points="1117.6,560.5 1117.5,564.8 1114.5,566.1 1113.1,563.3 1113.1,560.1 1115.5,558.2"/>
<polygon fill="#FCAB52" points="1132.7,551.7 1131.6,552.8 1129.4,552.7 1127.5,552.2 1129.1,550.9 1131.4,551.1"/>
<polygon fill="#F2CBCB" points="1141.9,541.8 1141.7,539.8 1144.7,538.3 1146.4,540.6 1147.3,543.2 1144.7,544.8 1142.1,544.2"/>
<polygon fill="#F2CBCB" points="1120.2,548.5 1122.5,548.4 1123.2,551.2 1122.4,554.1 1120.1,553.1 1119.1,551.1"/>
<polygon fill="#F2CBCB" points="1129.8,541.7 1132.5,543.2 1130.0,545.7 1126.7,545.0 1123.8,544.6 1125.0,542.0 1126.7,541.2"/>
<polygon fill="#FCAB52" points="1110.2,565.1 1112.9,566.6 1111.8,569.3 1108.6,569.7 1107.1,568.1 1107.6,565.8"/>
<polygon fill="#F2CBCB" points="1128.2,548.6 1127.7,547.2 1131.9,546.0 1135.2,547.0 1136.9,548.9 1133.1,550.7 1129.3,550.2"/>
<polygon fill="#F76666" points="1145.4,540.8 1143.7,542.1 1140.7,542.2 1138.9,540.9 1139.5,539.3 1142.4,538.7 1145.8,539.2"/>
<polygon fill="#FCAB52" points="1094.9,580.9 1095.0,583.4 1094.4,585.0 1092.6,586.8 1090.9,583.7 1091.9,580.4 1092.9,579.4"/>
<polygon fill="#FCAB52" points="1078.0,610.2 1076.3,609.9 1074.5,608.9 1075.2,606.9 1077.3,606.6 1079.6,607.3 1079.9,608.9"/>
<polygon fill="#F2CBCB" points="1124.4,549.6 1123.4,550.0 1122.3,550.0 1122.0,548.6 1123.2,547.3 1124.4,548.3"/>
<polygon fill="#F2CBCB" points="1086.6,596.3 1087.6,597.0 1088.5,598.9 1087.3,600.6 1086.2,600.8 1085.8,599.4 1085.3,597.2"/>
<polygon fill="#F2CBCB" points="1094.5,590.1 1091.6,591.6 1088.6,592.0 1087.6,589.8 1091.3,588.2"/>
<polygon fill="#FCAB52" points="1071.8,606.7 1075.3,606.2 1077.4,607.0 1077.4,608.5 1076.0,610.0 1072.4,609.2 1071.9,608.0"/>
<polygon fill="#F2CBCB" points="1122.9,554.0 1122.1,553.7 1121.3,552.0 1121.7,550.9 1122.7,549.9 1123.8,550.8 1123.6,552.7"/>
<polygon fill="#F2CBCB" points="1089.4,589.9 1090.3,592.2 1090.1,594.5 1088.0,594.8 1085.9,593.6 1085.9,591.8 1087.4,589.9"/>
<polygon fill="#FCAB52" points="1124.4,550.6 1123.3,552.4 1121.8,551.0 1122.4,548.3 1123.5,548.1"/>
<polygon fill="#FCAB52" points="1130.7,549.8 1132.3,549.6 1133.7,550.2 1133.5,551.2 1132.7,551.9 1130.8,551.9 1130.7,550.8"/>
<polygon fill="#F2CBCB" points="1136.6,547.6 1136.4,546.2 1139.5,546.0 1141.2,547.0 1139.3,547.9"/>
<polygon fill="#FCAB52" points="1085.0,587.0 1086.4,585.9 1091.2,584.8 1092.6,586.4 1092.5,588.2 1089.9,589.7 1086.2,588.3"/>
<polygon fill="#F2CBCB" points="1126.6,543.4 1126.6,541.2 1128.3,541.1 1129.5,542.8 1128.9,544.2 1128.2,545.3 1126.8,544.6"/>
<polygon fill="#FCAB52" points="1098.5,589.4 1096.8,589.0 1096.4,587.5 1097.4,585.0 1099.0,586.4 1099.4,588.0"/>
<polygon fill="#FCAB52" points="1097.4,574.1 1102.5,573.5 1107.1,574.5 1104.1,576.1 1098.7,576.0"/>
<polygon fill="#F76666" points="1094.3,582.4 1094.9,583.6 1095.1,584.6 1094.7,586.0 1093.5,585.8 1092.6,584.3 1093.3,582.8"/>
<polygon fill="#F2CBCB" points="1088.3,599.0 1087.3,597.6 1087.7,595.3 1089.2,595.5 1089.6,597.9"/>
<polygon fill="#F2CBCB" points="1124.8,558.0 1124.7,560.3 1123.3,561.5 1120.3,561.9 1119.0,559.8 1121.5,557.6"/>
<polygon fill="#FCAB52" points="1085.0,590.6 1087.6,589.3 1090.0,590.2 1091.2,591.6 1088.5,592.3 1085.7,592.2"/>
<polygon fill="#F2CBCB" points="1097.5,587.0 1098.4,587.4 1098.4,589.2 1098.0,591.1 1097.3,590.9 1096.7,588.7"/>
<polygon fill="#FCAB52" points="1091.7,582.1 1092.6,580.1 1094.0,580.8 1094.9,583.5 1093.5,584.5 1091.7,584.9"/>
<polygon fill="#F2CBCB" points="1126.2,550.8 1127.9,552.7 1126.7,554.6 1125.2,554.9 1123.2,554.6 1123.0,552.9 1123.9,551.9"/>
<polygon fill="#FCAB52" points="1110.4,575.9 1108.3,575.3 1107.9,574.5 1109.5,574.0 1111.3,574.1 1112.3,575.0"/>
<polygon fill="#FCAB52" points="1111.3,563.1 1110.3,565.2 1105.9,566.1 1105.7,563.5 1107.5,561.4"/>
<polygon fill="#F2CBCB" points="1079.4,610.7 1078.2,610.5 1076.8,606.7 1077.8,603.1 1079.7,602.1 1081.2,605.4 1080.3,608.2"/>
<polygon fill="#4d4d4d" points="1116.2,457.4 1112.2,455.6 1115.7,454.0 1120.8,454.2 1121.4,456.2"/>
<polygon fill="#F29999" points="1132.8,441.2 1131.3,440.5 1131.7,437.9 1133.4,436.7 1134.8,440.0"/>
<polygon fill="#FC8214" points="1138.8,442.8 1138.1,444.7 1135.0,445.4 1132.2,444.0 1134.6,442.6"/>
<polygon fill="#F29999" points="1082.6,429.2 1085.6,428.7 1088.5,429.5 1089.7,431.8 1087.1,433.5 1083.8,433.1 1082.0,431.4"/>
<polygon fill="#FC8214" points="1143.4,428.3 1148.7,428.1 1150.9,429.8 1148.3,431.3 1142.9,431.2"/>
<polygon fill="#F29999" points="1150.7,433.2 1149.5,431.4 1150.2,427.8 1151.5,426.6 1154.0,427.0 1153.7,430.7 1153.2,433.7"/>
<polygon fill="#FC8214" points="1136.2,436.9 1133.6,436.3 1133.9,435.1 1135.2,433.9 1137.1,434.8 1137.9,435.9"/>
<polygon fill="#4d4d4d" points="1133.6,457.2 1134.3,458.4 1135.2,459.7 1133.4,461.2 1132.0,460.5 1131.0,458.9 1132.2,457.6"/>
<polygon fill="#4d4d4d" points="1128.5,445.7 1129.1,443.6 1130.3,442.4 1131.0,444.6 1130.9,447.5 1129.6,448.2"/>
<polygon fill="#F29999" points="1119.2,430.6 1115.3,429.7 1114.8,428.0 1118.4,427.2 1121.8,427.6 1122.8,429.4"/>
<polygon fill="#FC8214" points="1145.2,438.6 1147.0,438.9 1147.3,441.2 1146.0,442.3 1144.0,441.0"/>
<polygon fill="#FC8214" points="1114.5,447.0 1114.0,445.9 1114.2,444.1 1115.0,443.9 1116.2,444.1 1116.3,445.6 1115.6,446.6"/>
<polygon fill="#4d4d4d" points="1085.9,433.7 1083.8,435.8 1080.4,436.3 1078.7,434.0 1079.9,432.2 1084.5,432.0"/>
<polygon fill="#F29999" points="1075.5,435.1 1075.0,434.1 1075.2,432.0 1075.7,431.3 1076.7,432.0 1076.8,433.5 1076.2,435.7"/>
<polygon fill="#4d4d4d" points="1119.8,442.1 1120.5,441.0 1122.2,440.3 1123.7,441.4 1123.8,443.1 1121.9,444.2 1120.3,443.7"/>
<polygon fill="#F29999" points="1078.8,433.6 1081.4,433.0 1083.3,433.6 1083.2,434.8 1080.0,434.6"/>
<polygon fill="#FC8214" points="1093.3,431.8 1092.5,429.4 1094.0,426.6 1096.9,428.9 1096.7,432.2"/>
<polygon fill="#FC8214" points="1143.0,438.2 1145.6,438.8 1146.8,439.8 1146.3,441.0 1142.8,441.3 1141.7,440.1 1141.8,438.8"/>
<polygon fill="#F29999" points="1110.2,430.0 1110.6,428.7 1114.4,428.4 1115.1,429.7 1114.6,430.7 1112.3,430.6"/>
<polygon fill="#FC8214" points="1072.2,435.6 1074.0,436.1 1074.2,439.7 1074.2,442.8 1072.9,445.4 1071.3,443.8 1071.8,439.5"/>
<polygon fill="#4d4d4d" points="1305.5,427.4 1306.8,426.8 1307.8,427.7 1307.7,429.3 1306.5,430.4 1305.0,429.6 1304.8,428.4"/>
<polygon fill="#4d4d4d" points="1352.5,424.3 1352.8,425.5 1351.2,426.5 1349.7,425.7 1349.9,424.5 1350.9,423.7"/>
<polygon fill="#F29999" points="1335.2,436.2 1333.3,436.8 1332.5,432.3 1334.1,430.5 1336.3,430.1 1336.3,434.2"/>
<polygon fill="#F29999" points="1322.5,431.0 1322.5,436.3 1319.6,436.9 1317.6,432.8 1319.9,430.5"/>
<polygon fill="#F76666" points="1325.2,441.2 1325.9,438.5 1326.8,438.0 1327.8,439.6 1327.6,441.8 1326.3,442.4"/>
<polygon fill="#4d4d4d" points="1327.7,414.4 1329.4,414.1 1331.0,415.4 1330.7,417.1 1328.4,418.0 1327.7,416.6"/>
<polygon fill="#F29999" points="1366.2,431.5 1366.8,434.2 1365.5,435.6 1364.0,436.3 1363.6,433.3 1363.8,430.0 1365.4,429.9"/>
<polygon fill="#F29999" points="1336.9,418.4 1334.5,419.7 1330.9,418.8 1330.2,417.7 1331.4,416.9 1334.7,416.6 1337.5,417.1"/>
<polygon fill="#F76666" points="1362.7,437.4 1362.6,432.7 1363.9,430.4 1365.0,434.0 1364.3,436.5"/>
<polygon fill="#F29999" points="1333.8,435.2 1336.4,434.2 1339.2,434.9 1339.9,436.4 1337.1,436.9 1334.6,436.4"/>
<polygon fill="#F29999" points="1330.7,437.7 1333.8,437.3 1336.5,438.9 1334.9,440.9 1332.2,441.3 1330.4,440.9 1328.4,438.7"/>
<polygon fill="#F29999" points="1317.3,433.5 1315.4,430.2 1317.1,428.0 1320.3,428.4 1321.7,430.5 1319.8,432.7"/>
<polygon fill="#4d4d4d" points="1316.7,428.2 1317.9,429.5 1315.1,430.1 1312.3,429.8 1311.5,428.5 1313.0,427.6 1315.6,427.1"/>
<polygon fill="#F29999" points="1352.0,410.3 1352.7,409.3 1353.5,409.8 1353.7,412.0 1353.4,412.9 1352.2,413.6 1351.8,412.0"/>
<polygon fill="#F76666" points="1343.2,419.8 1339.8,419.4 1339.6,417.8 1341.2,415.9 1343.6,417.3"/>
<polygon fill="#F29999" points="1325.5,430.0 1325.4,431.1 1324.0,432.3 1321.6,431.3 1321.4,430.5 1321.9,429.8 1324.5,429.6"/>
<polygon fill="#F76666" points="1313.8,434.5 1316.6,432.5 1321.6,433.3 1323.1,435.0 1320.1,436.8 1315.4,436.3"/>
<polygon fill="#4d4d4d" points="1364.0,412.8 1358.2,412.1 1356.7,410.5 1359.8,409.1 1364.2,409.6"/>
<polygon fill="#F76666" points="1329.3,438.4 1326.8,438.3 1326.4,436.9 1328.3,436.0 1331.6,436.5 1331.2,437.9"/>
<polygon fill="#F76666" points="1320.7,436.4 1322.2,438.6 1321.5,441.7 1318.5,441.0 1315.6,439.5 1317.5,436.8"/>
<polygon fill="#FFD68F" points="889.6,586.7 892.1,585.6 895.2,586.4 895.4,588.3 892.3,588.8 889.4,588.2"/>
<polygon fill="#FFD68F" points="873.6,596.7 873.9,600.5 872.9,604.4 870.6,604.3 870.4,600.1 870.9,596.8"/>
<polygon fill="#FFBF70" points="897.8,609.1 895.5,609.1 894.7,607.9 894.9,606.4 897.3,606.1 898.9,607.5"/>
<polygon fill="#FFD68F" points="887.1,582.3 890.6,583.3 890.0,585.2 886.5,585.2 885.1,584.0"/>
<polygon fill="#FFD68F" points="932.5,588.3 933.5,586.5 936.9,586.0 939.8,586.2 941.7,588.3 939.2,589.6 935.5,589.4"/>
<polygon fill="#FFBF70" points="881.8,588.4 879.2,590.3 876.6,587.9 877.6,583.9 881.3,584.4"/>
<polygon fill="#FFD68F" points="897.0,592.4 894.2,594.2 891.6,593.8 889.6,591.7 892.2,589.8 894.9,590.2"/>
<polygon fill="#FFBF70" points="886.5,586.7 888.3,588.9 885.4,590.1 881.0,589.4 882.4,587.4"/>
<polygon fill="#FFD68F" points="886.5,583.3 887.6,587.4 887.2,590.5 885.3,592.2 883.9,590.3 882.9,587.1 884.3,583.7"/>
<polygon fill="#FFD68F" points="865.7,597.0 867.7,600.8 865.2,603.6 862.6,602.1 863.2,598.0"/>
<polygon fill="#FFBF70" points="878.9,583.4 880.6,585.0 880.2,587.0 878.2,588.0 873.8,587.1 872.1,585.5 875.3,584.0"/>
<polygon fill="#FFD68F" points="875.1,586.4 873.8,584.7 875.3,583.2 879.2,584.0 879.1,586.1"/>
<polygon fill="#FFD68F" points="917.2,611.0 919.3,606.3 922.7,607.1 924.9,610.0 922.9,613.4 919.4,614.1"/>
<polygon fill="#FFBF70" points="936.3,588.4 938.4,590.2 934.4,591.4 931.1,590.4 931.9,588.0"/>
<polygon fill="#FFBF70" points="894.4,590.9 892.4,587.2 893.6,582.3 898.6,583.8 899.0,589.7"/>
<polygon fill="#FFBF70" points="918.4,600.8 914.2,600.9 909.4,600.6 906.9,598.6 910.2,597.1 915.7,596.1 919.8,597.9"/>
<polygon fill="#FFD68F" points="896.3,595.2 896.9,596.7 893.5,598.4 890.5,597.4 888.4,596.2 889.7,595.0 893.4,594.7"/>
<polygon fill="#FFD68F" points="936.2,593.1 933.9,592.7 933.6,590.3 934.9,588.3 936.5,589.9"/>
<polygon fill="#FFD68F" points="892.0,614.9 891.0,615.6 889.6,614.5 889.7,611.5 891.0,610.5 892.8,611.5"/>
<polygon fill="#FFBF70" points="902.6,589.0 899.7,590.9 895.2,591.1 893.9,589.0 897.2,587.4"/>
<polygon fill="#FFD68F" points="918.1,602.0 921.6,600.5 923.5,603.1 921.5,606.0 918.2,605.0"/>
<polygon fill="#FFBF70" points="936.3,597.9 934.1,594.8 935.1,590.6 938.2,591.0 940.4,592.3 939.7,595.3"/>
<polygon fill="#FFD68F" points="871.2,599.5 871.4,602.2 866.0,604.3 863.3,601.6 863.9,598.6 867.5,597.3"/>
<polygon fill="#FFD68F" points="940.0,608.5 939.4,609.8 935.2,610.8 934.0,608.4 936.8,606.7"/>
<polygon fill="#FFD68F" points="905.0,594.3 899.7,595.8 897.1,593.5 898.5,591.6 903.8,592.5"/>
<polygon fill="#FFBF70" points="896.6,583.8 894.5,589.0 891.5,585.1 889.6,580.7 893.3,576.0 897.1,578.4"/>
<polygon fill="#FFD68F" points="887.5,587.7 888.3,585.5 889.2,586.3 890.0,588.1 889.7,590.9 888.7,590.9 888.1,590.5"/>
<polygon fill="#FFBF70" points="882.2,600.9 884.4,601.0 886.0,604.4 883.7,606.4 881.2,604.3"/>
<polygon fill="#FFD68F" points="866.9,591.9 869.2,593.4 868.6,595.0 867.5,596.2 865.1,596.0 863.7,594.9 864.9,593.0"/>
<polygon fill="#FFD68F" points="921.3,591.1 920.5,595.8 918.2,597.9 915.2,593.4 915.9,589.1 917.6,586.9 920.8,585.7"/>
<polygon fill="#FFD68F" points="888.0,597.2 886.5,600.4 882.7,600.2 881.2,596.2 884.2,592.0 888.4,594.5"/>
<polygon fill="#FFD68F" points="870.6,583.2 870.1,584.9 867.3,585.5 866.1,583.9 867.5,582.6"/>
<polygon fill="#FFD68F" points="899.7,597.0 903.1,597.9 902.7,600.1 899.7,599.9 898.0,598.9"/>
<polygon fill="#FFBF70" points="929.1,584.5 933.4,584.3 937.1,586.0 937.0,587.7 932.3,588.2 928.4,588.0 926.1,586.6"/>
<polygon fill="#FFD68F" points="886.9,605.2 888.3,601.2 891.5,601.9 893.1,605.4 890.1,608.3"/>
<polygon fill="#FFD68F" points="920.6,606.8 925.3,608.2 925.2,610.4 923.6,611.5 918.1,612.0 914.8,610.1 916.0,608.3"/>
<polygon fill="#FFD68F" points="923.1,589.8 916.6,588.6 919.1,586.5 922.4,584.3 929.1,585.8 932.9,587.6 929.3,590.3"/>
<polygon fill="#FFBF70" points="892.7,596.5 895.0,596.7 896.2,599.1 892.5,599.7 889.1,599.9 888.4,598.1 888.8,595.9"/>
<polygon fill="#FFD68F" points="892.6,594.1 890.0,589.3 892.6,583.6 895.1,585.1 895.9,588.9 895.7,592.3"/>
<polygon fill="#FFD68F" points="882.6,588.4 885.2,588.3 887.6,589.2 886.1,590.8 883.6,590.8 881.5,590.7 880.9,589.1"/>
<polygon fill="#FFD68F" points="932.9,585.1 935.6,585.2 938.3,585.1 939.8,587.1 936.7,588.1 934.0,588.2 933.1,587.4"/>
<polygon fill="#FFBF70" points="902.7,591.2 905.6,591.0 907.0,594.5 906.5,598.1 903.7,598.1 900.6,597.6 901.4,594.0"/>
<polygon fill="#FFD68F" points="894.8,592.3 892.4,595.5 889.2,592.9 887.8,590.7 890.2,588.6 892.7,588.4 894.4,589.0"/>
<polygon fill="#FFD68F" points="887.1,592.9 885.1,598.7 882.0,592.5 883.7,584.5 886.3,584.3"/>
<polygon fill="#FFBF70" points="896.0,594.3 897.7,596.3 899.0,601.1 895.6,604.8 891.8,601.8 890.5,598.2 892.5,594.5"/>
<polygon fill="#FFBF70" points="926.9,598.0 929.5,598.5 931.7,600.9 929.6,603.6 925.6,603.3 923.6,601.5 923.0,598.8"/>
<polygon fill="#FFD68F" points="936.7,600.7 933.1,601.4 929.7,599.7 929.2,596.4 934.0,593.5 938.5,596.7"/>
<polygon fill="#FFD68F" points="923.8,600.4 923.9,603.0 922.3,604.6 920.3,602.6 921.4,600.4"/>
<polygon fill="#FFD68F" points="914.9,598.9 917.4,599.1 920.5,604.0 918.1,609.5 915.9,611.1 913.7,608.0 911.7,603.2"/>
<polygon fill="#FFBF70" points="926.1,598.1 930.0,599.7 929.1,602.8 926.2,603.5 923.9,602.9 923.0,599.6"/>
<polygon fill="#FFD68F" points="971.4,611.0 973.0,612.1 973.9,616.4 970.7,617.1 969.0,615.2 968.1,611.6"/>
<polygon fill="#FFBF70" points="918.5,615.0 918.4,617.4 916.4,618.2 913.2,618.4 912.3,616.2 911.9,613.4 915.7,614.0"/>
<polygon fill="#FFD68F" points="991.0,600.8 991.5,597.2 992.5,594.4 994.9,595.4 995.4,598.5 994.9,601.8 993.0,601.8"/>
<polygon fill="#FFD68F" points="970.5,593.0 970.8,596.3 969.7,598.6 968.6,596.4 969.0,593.6"/>
<polygon fill="#FFD68F" points="968.8,604.7 966.4,606.8 963.6,605.7 961.3,604.3 963.0,602.5 965.5,602.5 968.7,602.6"/>
<polygon fill="#FFD68F" points="917.4,606.3 918.5,609.5 916.6,611.5 914.7,610.1 914.6,606.7 916.3,605.5"/>
<polygon fill="#FFD68F" points="962.1,610.7 957.1,613.2 952.3,610.4 955.4,606.1 959.4,605.9"/>
<polygon fill="#FFD68F" points="910.9,611.6 910.1,615.7 907.8,616.6 905.2,614.2 906.0,609.7 908.5,610.0"/>
<polygon fill="#FFD68F" points="951.4,595.3 952.6,599.1 949.3,600.7 948.1,598.1 948.9,594.8"/>
<polygon fill="#FFD68F" points="925.4,622.3 921.2,620.2 924.0,616.2 930.0,618.1 930.0,620.9"/>
<polygon fill="#FFD68F" points="932.6,595.0 936.3,595.9 937.0,600.7 929.5,601.1 929.1,596.9"/>
<polygon fill="#FFD68F" points="936.2,611.1 939.2,612.7 940.3,615.8 934.1,616.7 931.9,614.6 931.7,611.7"/>
<polygon fill="#FFD68F" points="927.6,614.8 927.7,617.8 926.2,618.5 925.0,617.3 925.2,614.0"/>
<polygon fill="#FFBF70" points="933.3,612.9 932.3,609.9 933.5,604.5 934.8,601.8 936.4,604.3 936.3,610.7 935.3,612.4"/>
<polygon fill="#FFBF70" points="903.4,619.9 905.1,622.3 900.9,623.5 898.0,623.1 895.8,620.6 898.0,618.5 901.5,618.9"/>
<polygon fill="#FFD68F" points="959.7,606.7 958.4,602.5 959.9,598.7 963.3,599.6 963.2,605.3"/>
<polygon fill="#FFBF70" points="950.0,610.3 952.1,609.9 953.3,613.3 950.6,615.8 949.1,612.9"/>
<polygon fill="#FFD68F" points="940.1,593.1 942.3,597.5 941.1,601.1 937.8,601.1 936.7,595.9"/>
<polygon fill="#FFD68F" points="957.6,616.1 958.1,612.1 960.2,609.9 962.1,612.3 962.7,615.3 961.5,617.9 959.5,617.6"/>
<polygon fill="#FFD68F" points="919.9,615.5 919.6,611.6 924.4,609.3 925.2,614.5 923.6,617.9"/>
<polygon fill="#FFD68F" points="922.9,604.2 927.9,602.6 933.3,603.1 935.5,606.1 931.3,608.9 924.5,608.2"/>
<polygon fill="#FFD68F" points="987.9,608.4 990.8,607.8 991.7,612.6 989.6,616.8 986.5,612.5"/>
<polygon fill="#FFD68F" points="946.7,617.6 945.7,617.2 944.9,614.5 946.2,612.8 947.1,613.3 947.6,616.5"/>
<polygon fill="#FFD68F" points="917.0,606.3 920.3,610.8 918.2,615.6 913.8,614.3 913.8,608.7"/>
<polygon fill="#FFD68F" points="912.1,614.4 915.6,615.3 913.5,618.1 910.4,619.1 906.0,618.3 904.9,615.9 907.1,614.4"/>
<polygon fill="#FFBF70" points="921.8,617.8 924.0,615.2 927.8,615.3 931.9,616.8 930.1,618.9 925.3,619.3"/>
<polygon fill="#FFD68F" points="920.4,613.2 921.9,614.1 923.3,616.8 922.8,619.5 920.6,620.7 919.4,618.4 918.4,616.1"/>
<polygon fill="#FFD68F" points="944.1,608.5 945.9,606.0 948.0,606.2 950.3,608.8 948.3,611.8 946.5,612.6 943.9,611.1"/>
<polygon fill="#FFD68F" points="984.8,602.7 983.5,605.0 980.8,604.9 979.0,602.2 980.8,600.3 983.9,600.9"/>
<polygon fill="#FFD68F" points="923.7,620.2 924.0,617.0 925.3,615.0 926.0,618.9 925.4,622.5"/>
<polygon fill="#FFBF70" points="980.3,602.7 983.7,605.4 979.6,606.9 973.1,607.2 971.4,604.6 974.8,603.2"/>
<polygon fill="#FFD68F" points="967.4,605.9 970.2,606.3 970.6,607.9 968.9,608.8 966.2,608.6 965.0,607.1"/>
<polygon fill="#FFD68F" points="908.9,615.6 908.9,618.0 906.9,619.9 903.7,620.3 901.8,617.1 904.3,614.9 906.6,612.9"/>
<polygon fill="#FFD68F" points="998.8,610.3 1000.2,612.4 999.6,616.8 996.9,615.8 996.9,612.3"/>
<polygon fill="#FFD68F" points="982.4,601.3 985.9,600.7 987.4,603.3 987.0,607.2 983.5,607.4 981.0,603.5"/>
<polygon fill="#FFD68F" points="962.7,610.7 958.2,609.5 957.8,606.7 962.4,606.4 965.0,608.4"/>
<polygon fill="#FFD68F" points="920.9,616.4 923.2,616.2 923.7,619.1 922.2,620.5 921.0,619.3"/>
<polygon fill="#FFD68F" points="982.8,603.5 979.0,601.7 982.6,599.1 988.9,599.6 990.6,602.0 988.2,604.2"/>
<polygon fill="#FFBF70" points="929.6,606.0 924.8,608.3 918.8,607.8 918.3,604.4 922.2,601.8 928.5,602.3"/>
<polygon fill="#FFD68F" points="908.3,621.1 907.5,619.5 910.8,618.8 912.7,620.5 910.6,621.7"/>
<polygon fill="#FFD68F" points="943.4,607.6 950.6,608.1 953.8,610.1 948.7,612.1 942.1,610.3"/>
<polygon fill="#FFD68F" points="927.1,605.4 926.1,604.2 927.9,603.1 930.5,603.6 932.0,604.6 931.1,606.3 928.6,606.2"/>
<polygon fill="#FFD68F" points="904.8,617.3 908.5,617.6 911.7,620.7 910.4,624.9 905.2,624.9 901.3,622.2"/>
<polygon fill="#FFD68F" points="906.2,617.1 905.6,620.5 898.5,621.2 896.6,618.9 899.3,615.7"/>
<polygon fill="#FFD68F" points="961.9,605.5 961.7,602.7 962.2,598.7 964.3,598.9 965.5,601.6 966.2,605.3 964.3,606.3"/>
<polygon fill="#FFBF70" points="981.6,605.9 982.3,608.0 979.1,608.5 976.7,607.8 977.8,606.0"/>
<polygon fill="#FFBF70" points="909.5,602.1 908.5,600.9 908.8,599.9 910.8,599.6 913.1,599.9 912.5,601.0 911.5,601.9"/>
<polygon fill="#FFD68F" points="961.4,617.9 958.1,618.5 954.7,618.3 952.4,614.5 955.5,611.5 960.3,611.8 962.0,614.2"/>
<polygon fill="#FFD68F" points="913.2,601.4 909.0,604.6 905.8,601.2 906.7,597.5 911.3,596.4"/>
<polygon fill="#FFD68F" points="996.5,603.2 998.7,605.3 999.2,611.2 997.2,616.0 994.6,611.1"/>
<polygon fill="#FFD68F" points="1001.5,627.3 999.9,625.6 1002.0,624.3 1005.4,624.4 1006.5,626.4 1003.5,627.2"/>
<polygon fill="#FFBF70" points="1057.6,620.2 1057.5,623.0 1054.8,624.1 1052.6,622.4 1051.5,618.8 1053.5,616.0 1056.8,617.9"/>
<polygon fill="#FFBF70" points="1084.0,629.9 1086.0,628.4 1087.4,630.5 1087.7,632.5 1085.5,634.3 1083.4,633.7 1081.9,631.1"/>
<polygon fill="#FFD68F" points="1009.3,607.9 1013.1,606.6 1015.0,608.8 1014.5,612.2 1011.1,612.9"/>
<polygon fill="#FFD68F" points="1008.7,622.1 1010.4,619.8 1011.5,618.6 1013.1,619.3 1013.8,622.1 1012.7,624.4 1010.8,623.3"/>
<polygon fill="#FFD68F" points="1027.9,615.2 1026.0,616.6 1022.4,617.0 1020.1,614.2 1025.0,613.4"/>
<polygon fill="#FFD68F" points="1063.1,616.5 1061.7,616.9 1061.0,614.5 1061.6,611.8 1062.7,611.9 1063.6,614.0"/>
<polygon fill="#FFBF70" points="1026.8,608.0 1028.4,609.7 1026.3,612.3 1022.9,611.7 1020.5,609.7 1021.9,608.0"/>
<polygon fill="#FFD68F" points="1092.6,617.9 1094.3,622.5 1093.9,627.3 1091.7,629.8 1090.2,628.0 1088.8,622.9 1090.6,617.8"/>
<polygon fill="#FFD68F" points="1030.2,621.5 1027.1,622.9 1024.5,621.6 1024.1,618.8 1026.5,616.8 1028.9,618.3"/>
<polygon fill="#FFD68F" points="1027.1,622.3 1026.3,626.5 1023.2,626.2 1021.8,622.4 1025.0,619.9"/>
<polygon fill="#FFBF70" points="1105.9,629.4 1106.8,627.7 1108.1,626.6 1109.1,628.8 1109.0,631.1 1107.9,632.8 1107.0,632.0"/>
<polygon fill="#FFD68F" points="1009.0,623.6 1012.8,625.4 1013.2,627.6 1009.7,629.9 1007.8,627.1"/>
<polygon fill="#FFD68F" points="1032.6,606.3 1035.5,607.4 1036.8,611.2 1034.5,614.4 1033.0,612.8"/>
<polygon fill="#FFBF70" points="1025.3,616.3 1028.2,615.2 1029.4,618.3 1027.5,620.0 1025.3,619.4"/>
<polygon fill="#FFD68F" points="1094.7,621.8 1090.7,624.5 1086.9,624.1 1085.4,620.5 1087.8,618.0 1091.9,618.3"/>
<polygon fill="#FFD68F" points="1027.5,617.2 1026.0,619.9 1023.0,618.6 1022.7,615.0 1026.7,614.0"/>
<polygon fill="#FFD68F" points="1073.8,624.3 1073.9,621.5 1075.2,619.2 1077.0,619.7 1077.2,622.7 1076.5,626.6 1075.3,626.6"/>
<polygon fill="#FFD68F" points="1010.2,610.9 1007.3,612.1 1003.7,611.2 1004.4,607.2 1006.6,604.2 1009.7,605.5 1011.4,608.1"/>
<polygon fill="#FFD68F" points="1029.2,609.9 1031.7,606.0 1035.4,606.5 1037.8,608.2 1036.5,612.6 1034.4,613.5 1031.1,613.5"/>
<polygon fill="#FFD68F" points="1013.2,621.7 1015.6,619.4 1017.2,621.0 1018.6,624.5 1015.8,626.0 1012.8,625.1"/>
<polygon fill="#FFD68F" points="1026.6,627.3 1025.8,625.3 1026.1,622.7 1027.9,623.5 1028.4,625.8"/>
<polygon fill="#FFD68F" points="1038.4,617.6 1041.0,617.5 1041.9,620.1 1039.2,622.7 1036.3,619.9"/>
<polygon fill="#FFBF70" points="1036.0,630.6 1039.1,632.8 1034.2,634.8 1029.2,633.8 1029.5,631.2"/>
<polygon fill="#FFD68F" points="1056.6,618.9 1060.8,618.3 1062.9,622.0 1059.6,624.3 1054.6,622.8"/>
<polygon fill="#FFD68F" points="1043.6,626.5 1043.3,632.3 1041.6,636.7 1039.0,633.1 1039.6,626.5 1041.5,623.3"/>
<polygon fill="#FFD68F" points="1045.6,628.7 1046.1,626.3 1048.9,626.5 1051.5,627.2 1051.7,629.3 1049.3,631.5 1046.7,630.8"/>
<polygon fill="#FFD68F" points="1022.7,615.8 1024.7,617.3 1023.4,619.0 1020.8,618.9 1019.3,617.9 1019.6,616.4"/>
<polygon fill="#FFD68F" points="1050.5,623.5 1050.7,625.2 1048.0,625.8 1045.6,624.7 1047.7,623.1"/>
<polygon fill="#FFBF70" points="1074.9,623.3 1074.6,621.0 1078.0,619.3 1083.4,620.9 1081.8,623.5"/>
<polygon fill="#FFBF70" points="1000.6,627.9 997.9,627.4 995.6,624.6 997.0,619.7 998.6,613.7 1001.4,618.9 1002.3,623.3"/>
<polygon fill="#FFD68F" points="1042.0,613.5 1043.6,617.0 1040.7,619.3 1035.1,618.6 1036.2,615.3"/>
<polygon fill="#FFD68F" points="1031.6,623.3 1034.7,621.1 1040.9,622.0 1039.8,626.2 1032.8,626.6"/>
<polygon fill="#FFD68F" points="1092.3,630.3 1094.7,630.4 1095.0,633.5 1093.4,637.0 1091.5,634.0"/>
<polygon fill="#FFD68F" points="1038.9,613.2 1038.1,610.9 1042.2,609.7 1043.9,611.7 1042.7,613.5"/>
<polygon fill="#FFD68F" points="1030.3,626.5 1033.4,627.1 1035.1,627.7 1035.1,628.9 1033.0,630.0 1030.0,629.4 1028.4,628.1"/>
<polygon fill="#FFD68F" points="1042.4,618.6 1042.5,622.7 1039.2,623.9 1036.9,619.8 1039.9,616.5"/>
<polygon fill="#FFD68F" points="1085.4,618.4 1082.5,620.5 1078.1,620.1 1078.5,617.0 1080.1,613.7 1084.0,615.6"/>
<polygon fill="#FFD68F" points="1052.7,625.6 1057.2,626.6 1058.4,628.7 1053.9,629.9 1049.9,628.1"/>
<polygon fill="#FFD68F" points="1002.3,612.8 1000.3,615.1 998.5,613.5 997.7,610.9 999.4,607.6 1000.6,608.0 1002.3,610.1"/>
<polygon fill="#FFBF70" points="1058.1,623.5 1055.9,625.2 1051.5,624.0 1052.5,621.8 1056.3,622.1"/>
<polygon fill="#FFBF70" points="1014.6,614.3 1015.5,612.8 1017.4,612.3 1018.3,614.5 1017.5,616.8 1016.1,617.5 1014.8,616.7"/>
<polygon fill="#FFD68F" points="1028.0,628.7 1027.1,625.2 1027.4,621.6 1030.0,618.1 1031.6,623.1 1030.2,628.2"/>
<polygon fill="#FFD68F" points="1019.5,616.9 1024.0,617.1 1022.7,619.1 1020.9,620.6 1016.5,620.3 1013.3,619.0 1016.5,617.6"/>
<polygon fill="#FFD68F" points="1072.9,631.8 1072.9,629.9 1075.8,628.6 1078.5,630.0 1078.5,631.9 1075.6,632.7"/>
<polygon fill="#FFD68F" points="1032.3,619.7 1032.5,617.2 1034.3,615.7 1036.2,617.9 1035.4,620.0 1033.7,621.3"/>
<polygon fill="#FFD68F" points="1093.2,631.8 1090.2,630.7 1090.6,628.6 1095.8,626.7 1100.7,628.4 1101.8,630.3 1098.7,632.7"/>
<polygon fill="#FFD68F" points="1085.2,615.2 1084.3,613.6 1086.3,612.2 1088.5,612.6 1089.2,613.1 1089.5,614.7 1087.5,615.7"/>
<polygon fill="#FFD68F" points="1089.4,626.7 1087.2,623.4 1086.4,619.9 1088.0,616.2 1091.0,615.8 1092.2,619.3 1092.5,623.1"/>
<polygon fill="#FFD68F" points="1107.7,632.1 1105.2,635.6 1099.9,633.1 1100.1,630.4 1103.3,628.3 1107.6,628.5"/>
<polygon fill="#FFD68F" points="1018.5,619.9 1018.7,622.2 1017.4,625.6 1013.7,626.4 1011.0,623.6 1009.1,620.7 1013.1,619.1"/>
<polygon fill="#FFBF70" points="1096.5,626.9 1095.4,630.6 1091.7,633.4 1087.3,629.3 1087.7,625.3 1092.6,623.7"/>
<polygon fill="#FFD68F" points="1101.8,620.9 1101.9,618.1 1103.1,616.7 1110.1,615.8 1111.5,618.6 1107.9,621.5"/>
<polygon fill="#FFBF70" points="1078.0,626.8 1075.6,625.2 1077.5,623.4 1080.3,623.8 1080.4,625.8"/>
<polygon fill="#FFD68F" points="1104.0,632.8 1101.6,629.2 1103.1,626.2 1106.5,625.4 1108.4,629.0 1106.9,632.6"/>
<polygon fill="#FFBF70" points="1077.7,624.5 1077.6,618.9 1079.2,616.9 1080.4,619.7 1080.1,624.7"/>
<polygon fill="#FFD68F" points="1007.4,616.5 1004.5,618.2 1001.8,617.7 1001.3,615.7 1001.9,614.2 1004.8,613.8 1007.2,615.0"/>
<polygon fill="#FFD68F" points="1057.2,624.7 1053.5,624.9 1049.8,624.2 1048.6,622.3 1052.3,621.1 1056.5,621.2 1058.2,622.6"/>
<polygon fill="#FFD68F" points="1049.6,624.1 1049.5,622.6 1050.6,620.5 1055.0,621.0 1056.4,622.9 1055.8,624.1"/>
<polygon fill="#FFD68F" points="1005.1,611.7 999.6,613.7 995.5,610.2 999.1,607.2 1004.7,608.2"/>
<polygon fill="#FFD68F" points="783.7,624.2 783.5,618.8 786.3,617.6 789.2,620.6 787.3,625.4"/>
<polygon fill="#BDB000" points="733.6,635.2 735.6,632.2 739.6,634.0 738.9,637.0 735.7,637.2"/>
<polygon fill="#FFD68F" points="817.6,611.9 815.7,609.4 820.9,608.4 826.3,609.1 825.7,611.4 824.5,613.6 819.3,613.7"/>
<polygon fill="#BDB000" points="870.2,615.3 869.1,611.1 871.2,609.4 872.2,611.5 872.0,614.3"/>
<polygon fill="#BDB000" points="767.2,627.5 767.4,623.0 769.6,623.4 771.3,627.0 769.1,629.7"/>
<polygon fill="#FFD68F" points="773.6,635.6 772.8,633.6 772.5,631.7 774.6,631.5 776.3,632.7 775.1,635.1"/>
<polygon fill="#FFD68F" points="769.7,621.8 767.1,625.7 763.0,622.5 765.2,616.6 768.1,618.0"/>
<polygon fill="#FFD68F" points="861.8,602.0 861.6,603.5 858.9,603.9 857.5,603.2 857.1,602.0 859.5,601.1"/>
<polygon fill="#FFD68F" points="738.3,621.8 738.3,620.2 739.8,618.0 741.8,619.5 741.3,621.4 740.1,622.5"/>
<polygon fill="#FFD68F" points="740.3,620.6 740.7,623.9 735.3,624.6 731.3,622.3 735.8,618.7"/>
<polygon fill="#FFD68F" points="751.4,620.9 747.8,618.2 750.3,613.7 752.9,613.4 754.8,615.2 755.2,619.4"/>
<polygon fill="#BDB000" points="757.2,615.6 758.2,615.0 760.9,615.1 761.5,616.3 759.6,617.7 757.3,617.3"/>
<polygon fill="#FFD68F" points="809.4,611.2 807.4,609.7 808.5,608.1 812.7,607.5 815.2,607.7 816.3,610.2 814.0,611.2"/>
<polygon fill="#FFD68F" points="803.0,629.3 803.3,628.0 807.1,628.2 808.9,628.4 810.5,629.8 807.7,631.2 803.9,630.7"/>
<polygon fill="#BDB000" points="782.0,629.4 778.3,628.5 779.6,623.5 782.5,623.5 783.7,626.3"/>
<polygon fill="#BDB000" points="838.4,608.9 838.6,611.4 837.3,613.2 834.8,612.6 834.8,610.1 836.1,607.8"/>
<polygon fill="#FFD68F" points="790.4,627.4 789.0,625.0 789.6,622.0 794.1,620.4 797.3,624.1 794.8,627.5"/>
<polygon fill="#FFD68F" points="856.6,607.6 858.8,605.2 862.6,607.5 862.2,611.2 860.0,614.8 856.2,613.4 854.4,610.4"/>
<polygon fill="#FFD68F" points="764.5,627.0 768.7,629.8 765.2,633.5 760.6,633.0 758.8,628.6"/>
<polygon fill="#FFD68F" points="843.0,614.3 842.6,609.9 845.3,607.2 847.8,609.7 846.7,615.8 844.8,618.8"/>
<polygon fill="#FFD68F" points="746.2,631.9 745.5,629.4 746.3,628.3 750.1,628.2 751.5,629.5 751.8,631.2 748.4,633.1"/>
<polygon fill="#BDB000" points="744.4,621.0 746.8,623.7 746.0,627.0 744.1,628.3 742.8,625.0"/>
<polygon fill="#FFD68F" points="758.1,616.7 756.6,618.7 754.4,617.4 753.3,612.9 754.6,609.6 756.9,608.3 758.1,611.4"/>
<polygon fill="#BDB000" points="754.6,618.6 759.6,619.5 760.5,623.3 756.4,625.5 753.9,622.9"/>
<polygon fill="#BDB000" points="869.7,600.2 866.9,601.3 864.0,600.4 863.7,599.2 866.5,598.5 868.8,599.1"/>
<polygon fill="#FFD68F" points="754.7,629.4 752.3,631.4 748.9,631.5 745.9,630.8 745.7,629.3 749.6,628.6"/>
<polygon fill="#FFD68F" points="784.3,627.1 782.0,624.6 782.9,620.1 785.5,620.0 785.6,624.0"/>
<polygon fill="#BDB000" points="785.4,613.5 788.4,612.0 789.9,613.8 790.9,617.0 789.6,618.8 786.8,618.3 785.0,616.6"/>
<polygon fill="#BDB000" points="749.4,618.7 754.3,618.6 755.8,620.3 754.6,622.0 750.7,622.8 747.5,621.2 748.4,619.8"/>
<polygon fill="#FFD68F" points="782.8,613.9 781.5,617.6 777.7,616.9 774.8,614.3 777.3,611.7 782.0,611.9"/>
<polygon fill="#FFD68F" points="839.1,614.0 839.7,616.5 836.9,617.9 834.3,616.0 835.7,613.7"/>
<polygon fill="#FFD68F" points="732.9,623.9 736.9,624.5 739.5,626.2 735.0,627.4 730.2,627.7 728.1,626.2 729.7,623.9"/>
<polygon fill="#BDB000" points="751.8,634.4 749.6,633.2 749.8,631.1 750.2,629.2 752.3,629.3 753.3,630.6 753.7,632.3"/>
<polygon fill="#FFD68F" points="775.6,628.6 772.8,627.6 772.8,625.8 776.1,625.2 779.3,625.2 779.9,626.8 778.4,628.0"/>
<polygon fill="#BDB000" points="798.5,623.9 801.1,622.2 806.4,621.5 809.2,623.6 807.2,625.7 800.9,625.6"/>
<polygon fill="#FFD68F" points="797.8,609.8 798.8,607.5 800.2,607.0 801.2,609.3 800.4,611.3 798.6,612.3"/>
<polygon fill="#FFD68F" points="807.9,608.8 810.4,608.8 811.6,609.9 810.5,611.2 808.1,610.7"/>
<polygon fill="#BDB000" points="785.0,624.0 783.6,628.4 781.2,629.3 780.0,624.5 781.1,621.3 783.6,620.8"/>
<polygon fill="#FFD68F" points="796.6,629.7 794.0,631.6 791.9,630.1 792.2,627.7 793.5,626.4 796.1,627.9"/>
<polygon fill="#FFD68F" points="826.4,605.2 824.6,603.6 825.3,602.2 827.9,601.8 828.9,604.2"/>
<polygon fill="#FFD68F" points="1150.9,602.4 1150.4,604.2 1147.9,604.0 1147.8,601.9 1148.3,600.8 1151.1,600.4"/>
<polygon fill="#FFD68F" points="1218.1,592.5 1219.8,591.2 1222.7,590.8 1224.1,592.4 1223.2,594.6 1221.5,595.6 1219.2,594.2"/>
<polygon fill="#FFD68F" points="1232.3,581.6 1234.1,579.2 1236.0,582.3 1234.9,586.4 1233.2,586.4"/>
<polygon fill="#FFD68F" points="1249.6,579.4 1252.5,579.7 1254.7,581.4 1252.5,582.8 1249.4,584.1 1247.5,582.6 1247.7,580.5"/>
<polygon fill="#FFD68F" points="1243.3,576.4 1244.6,578.5 1244.3,581.5 1242.5,582.5 1240.9,579.9 1241.7,578.0"/>
<polygon fill="#FFD68F" points="1213.3,590.1 1209.6,589.9 1208.2,588.5 1209.7,586.8 1213.5,586.7 1215.1,587.6 1215.5,589.1"/>
<polygon fill="#FFD68F" points="1123.6,616.0 1125.7,618.1 1124.8,620.4 1119.6,620.6 1116.4,618.5 1117.8,617.1"/>
<polygon fill="#BDB000" points="1249.6,593.6 1248.9,587.7 1252.6,586.1 1255.0,589.9 1253.0,594.8"/>
<polygon fill="#FFD68F" points="1223.7,588.6 1222.9,590.5 1220.3,590.1 1219.6,588.2 1222.1,587.5"/>
<polygon fill="#FFD68F" points="1201.0,603.7 1202.5,604.3 1202.8,606.5 1201.5,609.0 1199.8,608.3 1198.5,605.9 1199.0,602.8"/>
<polygon fill="#BDB000" points="1246.7,583.6 1247.7,581.7 1248.8,581.0 1249.5,582.4 1250.3,584.6 1248.9,586.0 1247.8,585.0"/>
<polygon fill="#FFD68F" points="1110.0,625.5 1112.5,623.4 1115.8,622.0 1119.4,624.4 1118.1,627.6 1115.5,628.4 1111.4,627.5"/>
<polygon fill="#FFD68F" points="1174.5,605.9 1177.2,607.1 1178.1,609.5 1177.6,613.0 1174.2,613.6 1170.7,610.8 1172.8,606.9"/>
<polygon fill="#FFD68F" points="1142.0,599.9 1143.1,596.9 1144.9,596.0 1146.6,599.0 1146.6,601.8 1145.0,602.7 1142.6,602.2"/>
<polygon fill="#FFD68F" points="1239.6,578.8 1243.9,581.3 1244.7,583.7 1243.0,586.1 1238.4,586.4 1237.0,584.7 1236.3,581.4"/>
<polygon fill="#FFD68F" points="1226.1,595.4 1226.8,592.6 1227.8,592.4 1228.3,594.7 1228.5,597.6 1227.5,599.0 1226.5,597.4"/>
<polygon fill="#BDB000" points="1176.6,600.2 1178.3,595.8 1182.6,596.8 1183.9,600.3 1181.9,603.3 1177.6,604.6"/>
<polygon fill="#BDB000" points="1227.9,598.6 1222.9,602.0 1217.3,601.5 1213.4,598.2 1220.9,596.8"/>
<polygon fill="#FFD68F" points="1223.3,598.9 1225.3,597.4 1228.6,598.3 1227.9,600.1 1226.1,600.9 1223.3,600.8"/>
<polygon fill="#FFD68F" points="1125.4,616.4 1123.2,614.4 1123.6,612.5 1128.1,612.0 1129.3,614.9"/>
<polygon fill="#FFD68F" points="1173.6,595.1 1172.2,593.2 1173.9,591.1 1179.5,591.8 1182.5,592.4 1183.0,594.5 1178.1,596.1"/>
<polygon fill="#BDB000" points="1114.9,624.4 1112.3,621.5 1114.4,616.5 1118.7,618.1 1119.1,622.3"/>
<polygon fill="#BDB000" points="1248.3,588.5 1246.7,588.4 1244.6,588.1 1244.3,587.2 1245.7,585.9 1247.7,586.0 1248.7,587.1"/>
<polygon fill="#FFD68F" points="1138.3,621.8 1139.1,625.8 1132.9,625.6 1130.5,622.7 1134.8,620.0"/>
<polygon fill="#FFD68F" points="1130.7,609.1 1132.9,609.1 1132.5,613.2 1131.3,615.3 1129.7,613.8 1128.2,610.6"/>
<polygon fill="#FFD68F" points="1164.9,611.5 1160.1,608.0 1162.9,604.8 1167.6,604.8 1168.0,608.2"/>
<polygon fill="#FFD68F" points="1136.6,611.8 1137.6,609.2 1140.6,607.7 1143.7,610.0 1143.4,612.1 1142.3,613.2 1139.4,613.5"/>
<polygon fill="#FFD68F" points="1230.7,583.9 1230.3,585.2 1226.6,584.9 1225.9,583.2 1229.3,583.1"/>
<polygon fill="#FFD68F" points="1188.3,599.2 1188.6,601.6 1187.0,602.3 1185.3,601.5 1184.5,599.8 1185.5,598.4 1187.5,597.6"/>
<polygon fill="#BDB000" points="1247.3,594.6 1246.0,594.1 1244.9,593.1 1245.3,591.3 1246.4,590.0 1247.6,592.1"/>
<polygon fill="#BDB000" points="1135.3,600.5 1139.3,599.7 1141.1,602.4 1139.0,604.4 1135.0,603.3"/>
<polygon fill="#FFD68F" points="1186.6,600.8 1189.3,600.3 1192.3,601.0 1193.4,603.7 1190.6,605.1 1187.5,605.3 1183.9,603.3"/>
<polygon fill="#FFD68F" points="1139.5,613.2 1141.8,613.0 1142.6,614.6 1141.6,616.1 1139.3,615.7"/>
<polygon fill="#FFD68F" points="1128.2,619.0 1123.4,618.8 1122.4,615.9 1126.4,614.4 1128.9,616.6"/>
<polygon fill="#FFD68F" points="1142.4,610.7 1144.9,612.1 1146.8,614.2 1144.6,615.6 1142.0,616.0 1141.7,613.3"/>
<polygon fill="#FFD68F" points="1230.7,592.4 1232.4,587.5 1236.0,588.4 1236.4,594.0 1233.2,595.7"/>
<polygon fill="#BDB000" points="1127.0,621.2 1132.2,619.7 1136.6,620.9 1136.1,622.9 1129.0,623.1"/>
<polygon fill="#FFD68F" points="1196.8,600.7 1200.0,601.7 1201.7,602.9 1199.5,604.1 1197.0,604.4 1195.4,602.5"/>
<polygon fill="#BDB000" points="1165.7,609.1 1167.8,607.4 1171.4,606.7 1172.3,609.4 1168.7,610.5"/>
<polygon fill="#FFD68F" points="1185.5,595.9 1188.7,594.8 1192.5,595.5 1193.7,597.1 1191.6,598.5 1188.3,599.0 1186.6,598.0"/>
</g></g>
<g filter="url(#rough)">
<polygon fill="#4d4d4d" points="975.0,266.0 980.0,260.0 990.0,256.0 991.0,259.0 984.0,265.0 977.0,268.0"/>
<polygon fill="#4d4d4d" points="942.0,290.0 948.0,285.0 951.0,288.0 946.0,293.0"/>
<polygon fill="#4d4d4d" points="1048.0,320.0 1055.0,319.0 1057.0,324.0 1050.0,326.0"/>
<polygon fill="#CC8F85" points="1040.0,336.0 1044.0,330.0 1047.0,333.0 1043.0,340.0"/>
<polygon fill="#CC8F85" points="1045.0,328.0 1048.0,325.0 1049.0,329.0"/>
<polygon fill="#4d4d4d" points="1086.0,312.0 1096.0,311.0 1096.5,317.0 1088.0,318.0"/>
<polygon fill="#F29999" points="317.0,629.0 327.0,627.0 337.0,629.0 336.0,633.0 322.0,634.0"/>
<polygon fill="#F29999" points="333.0,649.0 337.0,647.0 340.0,651.0 336.0,654.0"/>
<polygon fill="#FC9633" points="355.0,645.0 360.0,644.0 362.0,649.0 357.0,650.0"/>
<polygon fill="#FC9633" points="355.0,657.0 359.0,656.0 362.0,663.0 358.0,664.0"/>
</g>
<polyline fill="none" stroke="#B3FFC0" stroke-width="3" stroke-dasharray="7 5" stroke-linecap="round" points="1107.6,878 1123,879.5 1134.5,878 1145.7,874.7 1154.7,869 1161.4,862.4 1164.8,856.8"/>
<g fill="none" stroke="#000" stroke-width="4" stroke-linejoin="round" stroke-linecap="round">
<polyline points="267.0,235.3 849.3,235.3"/>
<polyline points="849.3,235.3 849.3,227.1"/>
<polyline points="1279.5,340.5 1348.1,340.2"/>
<polyline points="609.5,688.2 573.9,688.2"/>
<polyline points="573.9,688.2 573.9,700.0"/>
<polyline points="573.9,700.0 513.5,700.0"/>
<polyline points="513.5,700.0 434.7,669.2"/>
<polyline points="436.6,663.5 385.9,668.5"/>
<polyline points="387.6,235.3 387.6,303.2 390.2,314.2"/>
<polyline points="387.8,370.7 387.8,419.4"/>
<polyline points="236.6,419.4 514.0,419.4"/>
<polyline points="325.2,419.4 325.2,498.3 438.5,603.5"/>
<polyline points="450.9,550.9 450.9,419.4"/>
<polyline points="450.9,550.9 860.5,550.9"/>
<polyline points="556.1,445.7 556.1,700.0"/>
<polyline points="514.0,340.5 661.6,340.5 661.6,445.7 514.0,445.7 514.0,340.5"/>
<polyline points="514.0,419.4 514.0,445.7"/>
<polyline points="661.6,235.3 661.6,340.5"/>
<polyline points="661.6,315.8 819.6,315.8"/>
<polyline points="661.6,393.1 778.6,393.1"/>
<polyline points="661.6,445.7 703.8,445.7 703.8,550.9"/>
<polyline points="703.8,472.0 845.9,472.0"/>
<polyline points="683.7,550.9 683.7,564.0 747.0,564.0 747.0,615.1"/>
<polyline points="682.9,564.0 682.5,682.4 607.4,682.4 609.5,688.2"/>
<polyline points="860.5,550.9 860.5,564.0 864.5,593.0 863.4,639.3 872.7,641.6 872.7,682.7"/>
<polyline points="872.7,655.6 933.2,656.1"/>
<polyline points="964.2,577.2 950.1,577.2 954.7,564.0 860.5,564.0"/>
<polyline points="951.6,603.5 995.9,603.5"/>
<polyline points="995.9,603.5 998.0,606.1 990.2,685.0 991.7,725.3"/>
<polyline points="995.9,603.5 1103.4,603.5"/>
<polyline points="1050.7,604.0 1059.6,659.5 1063.4,674.5 1062.3,694.2 1063.4,708.7"/>
<polyline points="1063.4,708.7 1008.5,708.7 1012.7,717.9 1010.2,727.6"/>
<polyline points="1063.4,708.7 1066.3,716.6 1122.4,720.0"/>
<polyline points="1103.4,603.5 1120.3,598.2 1146.7,599.6 1146.7,602.2 1149.2,600.9 1152.4,608.2 1175.8,608.8 1199.4,633.7"/>
<polyline points="970.1,564.0 998.6,564.0 998.6,559.3 1091.2,561.4 1133.4,561.7 1255.9,562.7"/>
<polyline points="1010.0,489.1 1010.0,425.7"/>
<polyline points="1067.2,495.7 1067.2,427.3"/>
<polyline points="1017.0,425.7 1067.2,425.7 1067.2,427.3 1096.0,426.5"/>
<polyline points="944.2,406.2 1004.3,406.2"/>
<polyline points="821.9,380.0 932.2,380.0"/>
<polyline points="836.2,456.7 921.4,456.2 928.0,462.0"/>
<polyline points="1157.8,420.2 1157.8,479.4"/>
<polyline points="1157.8,479.4 1257.6,479.4 1261.6,476.2 1265.8,477.3"/>
<polyline points="1266.9,419.4 1173.9,419.4 1173.9,412.3"/>
<polyline points="1302.7,445.7 1301.0,443.1 1306.3,440.2 1305.9,418.1 1310.7,399.7 1311.2,378.6 1308.0,376.0 1309.1,360.2 1309.1,340.2"/>
<polyline points="1310.7,399.7 1352.3,401.0 1360.7,396.3 1362.8,396.5"/>
<polyline points="1305.9,418.1 1341.7,418.9 1350.6,419.1 1351.7,422.0 1354.4,428.1 1356.1,432.6"/>
<polyline points="1341.7,418.9 1341.7,437.3"/>
<polyline points="1257.6,479.4 1259.5,512.5 1273.2,512.8"/>
</g>
<g fill="none" stroke="#000" stroke-width="4" stroke-linejoin="round" stroke-linecap="round">
<polyline points="225.5,251.6 228.8,253.1 233.3,256.0 237.3,255.7 240.8,257.1 244.7,256.6 249.7,257.4 253.5,258.4 259.8,257.7 266.6,258.2 269.3,264.2 271.5,268.7 271.4,272.1 273.7,275.2 273.5,280.0 270.7,283.3 267.5,284.2 264.0,285.8 270.4,284.0 272.8,280.8 275.6,278.7 275.3,274.6 275.6,269.5 276.4,265.8 277.8,261.6 274.3,258.5 273.5,255.0 272.5,248.5 272.5,241.9 270.0,238.0 267.0,235.3"/>
<polyline points="849.3,227.1 853.2,226.7 856.3,228.5 858.6,233.0 858.3,237.3 859.8,241.9 864.1,243.1 868.6,242.2 872.4,244.8 876.7,245.3 881.8,246.8 886.2,245.8 890.5,245.2 895.7,245.3 899.9,246.2 901.9,249.4 905.2,250.6 908.8,251.4 912.5,251.8 915.7,253.7 919.6,254.3 922.1,257.2 925.0,257.2 928.4,259.8 932.7,257.8 937.2,257.0 941.0,255.8 945.1,256.4 948.7,258.6 954.0,257.3 957.9,259.0 961.2,260.2 964.8,260.9 968.5,261.6 964.3,262.8 961.1,263.7 957.7,266.4 954.8,267.7 951.6,269.0 947.0,270.3 944.0,273.9 939.8,275.7 936.8,277.9 933.6,279.6 930.0,280.7 927.6,284.6 924.6,284.4 922.1,287.9 919.6,291.5 915.8,291.2 913.6,294.5 917.8,295.8 921.6,294.0 925.1,295.3 929.1,292.6 932.6,291.8 935.9,289.7 940.0,289.2 941.6,293.0 941.0,297.1 944.6,297.2 949.0,299.2 951.7,297.5 954.5,295.1 958.5,294.2 962.1,292.6 966.3,292.8 970.0,290.8 974.8,291.1 978.0,288.7 981.1,287.9 983.2,284.8 987.8,283.4 989.5,280.5 993.9,278.5 997.1,277.8 1001.1,275.5 1005.4,276.9 1003.1,280.3 997.9,281.6 994.8,285.3 991.4,289.7 990.6,293.7 995.9,290.5 999.2,292.3 1002.7,289.8 1006.4,291.8 1010.4,295.4 1012.7,299.7 1017.2,301.4 1021.2,302.2 1024.5,302.7 1028.6,303.2 1032.6,302.1 1037.0,299.4 1040.2,296.6 1043.5,297.4 1048.5,294.6 1051.6,294.1 1055.6,295.2 1060.4,295.5 1063.4,293.9 1064.3,297.1 1064.4,301.6 1068.6,302.7 1072.2,300.4 1077.1,301.1 1081.0,303.5 1082.3,307.6 1085.9,308.7 1088.0,312.1 1090.5,313.5 1095.0,314.2 1090.3,313.8 1086.6,315.0 1082.8,314.2 1078.0,316.6 1073.9,317.0 1069.7,318.1 1065.5,317.4 1063.0,314.5 1060.0,313.1 1055.4,314.5 1052.8,312.1 1049.4,314.4 1046.4,313.4 1043.7,315.8 1038.9,317.1 1035.9,316.8 1032.4,321.2 1028.6,323.4 1024.7,323.3 1021.2,320.8 1019.3,323.5 1016.0,325.3 1015.2,329.0 1013.6,333.2 1011.1,335.3 1008.5,337.9 1006.2,340.6 1005.4,346.1 1001.2,347.3 1000.1,352.3 1004.1,349.1 1008.4,347.5 1010.6,344.4 1013.8,341.0 1014.8,337.6 1019.3,336.4 1021.2,332.6 1019.5,336.2 1017.6,340.5 1014.5,342.4 1013.8,347.1 1012.8,351.7 1010.1,355.2 1009.6,358.9 1008.1,363.1 1006.9,366.1 1008.0,369.3 1006.4,373.4 1004.3,377.4 1003.6,380.1 1003.0,384.9 1004.1,387.6 1002.2,391.8 1003.7,394.8 1002.8,399.6 1002.8,403.1 1004.3,406.2 1003.8,410.8 1006.3,413.7 1006.1,416.3 1007.3,419.5 1008.5,423.3 1010.6,428.6 1017.0,429.4 1023.3,426.8 1026.2,422.8 1027.8,419.0 1031.7,416.8 1032.7,413.7 1033.1,409.6 1034.9,407.3 1037.0,403.6 1036.7,399.4 1035.7,395.3 1037.0,391.8 1034.7,388.6 1034.3,384.1 1034.9,380.2 1032.8,377.3 1031.6,373.1 1031.7,368.1 1033.8,364.4 1034.3,360.0 1033.9,356.2 1037.3,353.0 1037.0,348.4 1041.2,343.1 1044.7,341.7 1046.5,336.7 1050.7,335.2 1051.4,339.2 1049.8,342.0 1050.7,346.5 1052.0,343.0 1054.9,338.9 1054.9,335.2 1058.1,332.1 1064.4,330.8 1061.2,324.7 1065.9,323.2 1068.6,320.0 1072.8,320.7 1076.1,322.3 1080.2,323.4 1083.9,324.5 1085.6,327.5 1089.4,327.5 1092.9,329.3 1096.0,331.3 1097.9,335.3 1097.1,339.2 1098.1,343.6 1098.8,347.4 1096.8,350.7 1099.3,355.7 1099.2,358.9 1096.5,361.3 1093.1,364.7 1089.6,366.6 1086.6,368.1 1086.8,371.6 1087.6,376.0 1092.2,374.7 1094.5,372.2 1097.1,369.4 1102.8,367.6 1106.6,365.0 1109.1,367.2 1109.5,371.5 1111.1,375.5 1114.0,377.3 1114.7,380.8 1115.6,385.5 1116.7,389.6 1117.8,393.1 1117.2,397.2 1116.4,399.5 1116.1,403.6 1112.1,404.9 1107.1,407.8 1104.5,411.0 1104.5,414.4 1102.4,418.1 1099.8,420.5 1098.2,424.4 1096.0,426.8 1099.6,427.5 1104.5,430.0 1106.8,432.3 1111.9,432.6 1115.1,433.3 1118.7,434.1 1122.1,431.3 1125.4,432.6 1129.2,433.4 1133.0,432.6 1136.5,431.7 1140.3,428.9 1142.9,426.6 1147.5,426.5 1150.7,423.2 1155.1,422.2 1157.8,420.2 1162.9,417.7 1166.7,415.5 1171.4,414.8 1173.9,412.3 1177.9,410.9 1180.1,408.4 1182.6,404.1 1185.5,403.2 1188.8,401.0 1192.0,395.7 1190.4,390.7 1188.8,386.5 1192.1,387.1 1197.1,386.3 1200.8,386.4 1204.3,384.6 1207.9,384.1 1211.0,383.4 1214.5,386.1 1219.4,386.0 1224.0,384.6 1228.6,387.0 1232.0,385.3 1236.3,385.2 1239.2,381.7 1242.6,380.7 1248.9,378.6 1248.2,374.6 1248.9,369.4 1245.8,364.2 1248.4,360.4 1251.8,359.1 1253.6,356.2 1257.4,355.0 1260.9,352.7 1262.0,349.3 1266.5,347.7 1267.9,345.0 1271.5,342.2 1276.3,343.1 1279.5,340.5"/>
<polyline points="1348.1,340.2 1350.2,333.9 1356.5,332.6 1361.8,333.9 1362.8,330.0 1366.7,328.0 1369.2,324.0 1371.3,320.8 1374.4,315.5 1373.4,308.9 1374.9,305.9 1378.7,303.2 1380.5,300.8 1382.6,296.3 1385.2,295.2 1385.1,290.7 1388.9,289.2 1389.2,285.0 1391.3,281.2 1393.3,278.4 1396.2,275.8 1399.7,280.0 1402.9,283.2 1407.4,282.2 1411.0,279.8 1414.5,278.7 1418.7,281.6 1422.5,282.8 1426.1,286.1 1425.9,290.5 1425.8,293.4 1427.1,296.7 1427.2,301.6 1425.1,305.1 1426.3,308.5 1427.1,311.8 1426.5,315.5 1426.5,322.1 1430.3,322.3 1433.5,324.7 1434.3,328.0 1433.5,332.6 1436.7,336.6 1437.5,339.8 1440.7,343.2 1443.6,345.2 1441.0,348.4 1435.5,348.5 1433.2,351.6 1430.3,353.7 1426.2,354.2 1421.7,356.2 1417.7,357.6 1413.0,358.4 1408.9,358.7 1405.0,358.9 1405.0,355.0 1404.2,359.5 1402.0,363.7 1398.7,366.8 1394.4,367.4 1391.0,370.0 1388.1,372.4 1383.9,373.4 1378.9,375.2 1374.4,377.3 1372.9,380.8 1371.2,384.2 1368.5,386.7 1367.1,390.5 1364.1,393.6 1362.8,396.5 1365.3,400.1 1367.1,402.3 1364.2,405.8 1362.3,408.2 1358.6,410.2 1360.6,412.6 1364.9,414.1 1366.0,420.7 1369.2,425.2 1373.3,425.3 1376.6,426.2 1379.7,424.7 1379.7,418.1 1375.5,417.6 1380.8,422.0 1381.2,427.8 1377.6,428.9 1373.4,429.1 1370.2,429.9 1366.0,432.0 1364.9,426.5 1361.1,431.1 1356.5,432.6 1350.2,433.9 1350.6,430.5 1350.2,426.0 1349.4,430.7 1348.1,436.0 1344.4,435.4 1340.5,437.3 1336.4,436.8 1333.6,438.3 1329.7,437.9 1326.1,437.8 1322.3,437.4 1318.5,438.6 1314.7,441.6 1309.9,441.1 1306.1,444.0 1302.7,445.7 1297.5,449.6 1295.3,453.6 1292.3,454.7 1290.1,458.9 1295.3,459.6 1294.9,463.7 1294.3,469.4 1294.3,473.6 1293.2,478.6 1291.1,482.4 1288.2,484.7 1286.9,489.1 1284.5,493.5 1280.4,494.0 1279.6,497.8 1275.3,500.1 1274.8,496.2 1272.6,492.7 1270.0,490.4 1267.8,486.9 1264.8,486.0 1262.7,482.5 1264.6,486.8 1265.8,490.4 1266.7,494.5 1268.7,497.1 1271.6,500.1 1272.1,503.6 1272.2,508.2 1273.2,512.8 1270.9,517.2 1269.3,519.6 1269.0,524.6 1267.0,529.1 1263.7,531.9 1261.6,536.4 1257.9,539.4 1256.1,542.9 1253.8,547.7 1253.3,543.5 1254.2,537.8 1255.5,533.4 1256.4,528.9 1255.3,524.6 1253.3,521.1 1251.9,517.3 1249.3,513.0 1248.9,508.8 1248.7,505.3 1250.3,502.2 1249.8,498.6 1249.8,494.5 1249.4,491.3 1251.1,487.8 1253.2,483.8 1251.1,487.9 1247.5,491.0 1244.7,493.0 1243.7,497.2 1242.6,500.9 1243.1,505.4 1243.1,509.1 1245.6,512.0 1244.7,516.7 1246.8,523.3 1244.2,521.0 1241.0,518.5 1237.5,517.3 1234.2,516.7 1234.6,511.8 1233.6,507.8 1231.2,503.6 1230.4,506.9 1228.0,511.5 1225.8,514.1 1228.6,515.9 1233.7,516.0 1236.6,519.1 1240.5,520.7 1244.5,522.6 1246.8,527.2 1245.6,532.2 1246.8,536.4 1245.8,539.7 1246.3,543.2 1247.5,548.0 1246.8,550.9 1253.2,552.7 1255.3,557.2 1255.9,562.7 1258.3,566.2 1258.0,569.7 1258.7,573.0 1260.0,576.8 1262.9,578.5 1263.7,582.5 1263.4,586.1 1262.5,590.2 1262.5,593.8 1263.1,597.5 1259.7,599.7 1255.7,598.9 1253.2,601.7 1250.2,604.0 1248.5,608.6 1244.3,611.0 1242.0,614.0 1237.9,613.7 1234.6,614.5 1230.0,612.7 1227.8,616.3 1224.6,618.8 1221.0,621.8 1217.3,624.5 1214.3,627.7 1212.2,630.2 1212.0,633.7 1208.2,635.3 1203.3,632.1 1199.4,633.7 1195.6,634.5 1192.0,637.7 1191.5,640.8 1188.9,644.0 1187.6,647.1 1185.7,650.8 1183.8,654.3 1178.7,654.7 1177.2,657.3 1174.2,660.3 1170.9,662.7 1167.9,664.9 1164.7,667.0 1162.3,669.5 1159.3,673.2 1157.1,677.0 1154.0,678.5 1149.8,681.6 1147.6,684.4 1147.8,689.6 1145.8,691.3 1144.6,695.5 1142.1,698.7 1143.4,702.6 1142.3,706.0 1141.4,709.1 1139.5,712.2 1139.3,716.1 1138.2,720.7 1139.3,724.5 1138.5,728.5 1139.6,733.8 1141.4,737.6 1143.8,741.6 1143.7,744.5 1146.3,749.1 1145.4,752.3 1147.7,756.0 1147.8,759.2 1150.4,763.1 1151.7,767.0 1153.6,770.0 1156.0,773.1 1157.2,775.8 1158.3,780.0 1158.1,783.7 1158.8,788.2 1161.7,791.5 1161.4,795.5 1162.6,799.1 1165.1,802.4 1165.0,806.3 1166.2,808.5 1166.9,813.2 1167.8,816.5 1166.6,820.2 1166.1,823.2 1168.3,827.3 1166.4,831.4 1168.1,834.8 1167.0,838.3 1167.6,841.4 1166.1,845.5 1164.2,849.5 1161.5,853.7 1161.4,858.6 1158.2,860.2 1153.6,861.2 1149.8,862.6 1145.6,863.3 1143.6,859.3 1143.4,855.8 1142.9,851.9 1140.0,848.7 1140.3,845.5 1137.8,842.5 1134.7,839.6 1130.8,836.3 1128.8,832.3 1126.6,827.0 1123.9,824.2 1124.7,819.2 1122.4,816.5 1120.9,811.5 1117.7,808.3 1115.0,804.7 1115.0,801.3 1111.9,798.1 1114.6,794.2 1117.1,790.2 1112.1,790.2 1109.1,787.6 1110.3,784.0 1111.3,779.9 1111.7,775.8 1112.8,772.0 1111.1,767.3 1112.9,763.9 1109.5,762.3 1107.9,758.2 1104.5,757.4 1101.2,754.3 1102.1,750.1 1098.3,747.9 1097.1,744.2 1094.5,741.7 1091.4,737.3 1087.0,735.2 1084.4,732.4 1080.7,735.6 1077.1,736.3 1073.2,736.4 1070.5,739.9 1066.9,741.2 1063.4,742.3 1059.9,742.6 1056.0,743.7 1054.3,740.3 1053.4,736.8 1050.5,733.8 1048.6,731.1 1044.8,730.8 1041.5,729.6 1037.9,727.2 1035.9,724.9 1031.7,725.0 1027.6,724.2 1023.2,726.5 1018.4,726.7 1014.9,726.3 1010.2,727.6 1005.4,728.4 1005.1,724.6 1003.0,719.3 1000.1,716.6 1000.1,721.7 998.0,725.8 991.7,725.3 988.7,724.9 985.5,724.1 981.1,724.5 977.1,726.9 972.4,727.4 968.5,730.3 964.2,733.7 967.9,736.5 970.6,740.3 966.3,745.5 968.5,748.8 972.5,751.8 973.9,754.4 975.8,758.7 977.9,756.0 974.3,760.8 970.6,763.1 966.0,761.3 964.0,757.6 960.0,754.7 956.8,755.7 953.7,758.7 950.9,760.2 947.0,758.8 942.3,759.3 938.9,760.0 934.7,758.3 932.8,756.7 930.5,753.4 928.4,748.2 924.0,747.2 918.9,748.2 916.8,744.1 913.6,741.6 909.4,746.8 906.0,744.9 901.6,745.2 898.9,743.2 894.2,743.6 890.4,741.0 885.6,743.1 881.1,740.8 876.7,742.9 873.5,744.7 868.9,744.5 866.2,746.8 862.7,749.0 858.9,750.2 856.7,753.4 856.2,748.8 855.9,746.0 857.7,741.6 856.0,745.3 852.5,748.2 850.4,752.1 849.8,756.2 846.0,758.9 846.1,762.6 842.5,764.0 840.8,766.6 837.8,769.0 835.1,771.0 831.4,773.1 827.2,774.2 825.9,778.6 821.9,780.0 817.8,782.0 814.5,785.0 811.5,788.0 808.8,792.7 806.1,795.5 805.4,799.8 804.2,803.1 803.4,806.5 804.1,810.6 802.9,813.9 804.9,817.0 803.2,822.1 806.3,825.4 805.4,828.4 804.6,833.0 807.4,837.0 807.1,840.2 807.1,841.3 803.5,843.9 799.7,843.6 795.9,841.5 792.6,841.2 788.0,840.4 785.0,838.4 782.5,837.2 778.6,834.6 775.9,832.9 772.4,831.6 769.9,830.0 766.0,829.2 763.7,825.3 763.0,822.9 762.7,817.6 761.9,813.5 758.3,810.7 758.6,807.3 757.6,800.8 755.0,798.6 752.6,795.7 749.4,793.2 748.5,789.2 746.6,785.8 742.7,783.7 740.7,779.7 738.4,777.4 738.2,773.3 736.5,769.2 734.0,767.0 734.3,762.4 731.0,758.7 728.8,756.2 728.0,752.1 726.0,748.4 721.9,747.4 720.9,743.0 717.5,741.0 714.0,741.3 710.3,738.6 706.3,740.3 701.8,738.3 698.5,738.2 693.9,739.9 690.1,742.4 689.2,746.2 686.8,750.2 685.8,754.7 683.5,759.0 680.6,761.8 677.3,758.5 672.8,758.9 671.0,756.3 666.9,754.2 664.1,751.5 661.1,750.9 657.5,748.5 654.2,746.8 653.6,742.6 650.2,740.1 650.2,737.8 649.5,732.9 648.7,730.6 646.8,726.2 646.4,723.5 643.7,720.5 642.4,717.6 639.4,714.3 636.2,712.0 633.3,710.9 631.0,707.4 627.0,706.1 624.8,704.6 622.5,700.4 620.6,697.6 616.2,696.3 614.4,693.9 612.0,689.7 609.5,688.2"/>
<polyline points="434.7,669.2 436.6,663.5"/>
<polyline points="385.9,668.5 383.2,664.0 384.1,660.6 383.4,656.2 382.2,653.5 378.9,650.9 377.1,649.0 373.9,645.6 371.0,643.5 369.5,640.3 366.3,639.6 362.6,638.0 359.0,636.4 357.6,632.1 356.8,629.0 353.3,627.1 348.5,626.2 344.2,627.2 340.0,622.4 335.8,619.3 331.5,619.3 327.9,618.9 322.7,617.2 320.0,617.9 315.3,618.0 314.9,613.3 313.7,609.0 311.5,606.1 311.5,599.6 310.2,595.1 306.9,593.0 303.6,590.8 300.5,587.8 297.8,585.6 295.3,581.7 292.7,578.9 291.1,574.6 288.6,571.5 285.1,569.3 283.4,565.7 284.1,561.4 287.2,556.2 282.0,552.2 278.1,549.7 274.6,545.6 273.0,542.6 273.4,537.6 274.1,533.3 272.5,530.4 269.8,528.6 265.6,527.7 261.9,524.6 262.6,520.8 260.9,516.7 258.7,513.1 255.2,509.8 253.5,507.4 250.4,504.0 247.2,500.9 247.5,497.4 243.7,493.8 243.5,491.5 242.9,486.4 241.2,484.5 241.0,480.4 238.0,478.1 238.6,473.7 235.0,471.0 235.2,466.0 232.7,463.7 232.4,460.2 233.8,456.2 236.0,453.8 237.7,451.0 239.0,447.3 238.0,444.4 237.3,439.5 239.4,436.2 238.7,432.6 236.6,426.0 236.6,419.4 233.9,415.8 235.0,411.2 233.6,408.0 231.3,405.2 229.5,401.3 229.2,397.6 230.3,393.5 230.9,390.8 231.8,387.2 234.5,383.9 236.3,379.3 237.3,376.3 237.5,371.1 237.7,366.8 237.7,361.9 239.1,358.9 240.0,354.6 239.4,350.2 239.7,346.4 240.1,343.3 241.6,339.2 240.8,335.5 241.6,331.9 241.9,327.4 240.4,324.1 243.1,319.7 242.6,317.0 241.7,312.2 241.9,308.9 239.8,307.1 240.6,302.2 239.8,297.1 237.5,293.7 237.7,289.2 237.4,284.6 235.3,282.3 233.5,278.7 232.1,274.8 230.0,271.0 229.2,268.4 227.1,264.2 227.3,259.6 224.7,255.9 225.5,251.6"/>
<polygon points="1294.5,456.2 1300.6,456.2 1304.0,455.2 1307.9,453.6 1312.3,454.6 1316.4,452.8 1320.8,451.0 1325.6,450.1 1329.1,448.9 1332.8,447.2 1336.4,446.0 1340.5,443.9 1336.0,442.8 1331.2,444.4 1332.7,441.5 1328.2,444.3 1323.8,446.2 1319.8,447.9 1316.2,446.1 1312.2,447.8 1308.5,446.8 1305.1,447.8 1301.7,449.1 1297.5,451.0 1294.5,456.2"/>
<polyline points="241.9,308.4 246.4,309.3 250.4,307.3 253.5,308.9 258.8,310.3 264.0,311.6 266.2,318.1 268.3,324.2 270.9,325.6 275.7,326.1 278.8,325.5 283.0,323.5 286.0,323.4 290.3,323.4 293.6,322.1 296.7,324.0 301.0,324.7 304.9,323.9 309.9,322.3 314.7,322.1 317.8,319.7 322.1,320.9 325.3,318.6 329.5,318.4 333.6,316.3 338.2,315.2 342.2,315.9 346.3,316.0 346.7,314.2 350.3,314.5 353.4,314.0 357.1,313.1 360.9,313.4 364.4,315.5 368.1,313.0 372.6,313.0 376.1,315.7 379.4,315.7 382.7,314.0 386.1,314.7 390.2,314.2"/>
<polyline points="390.2,314.2 393.1,317.1 393.5,321.8 396.7,323.8 399.0,327.4 394.8,332.6 394.6,337.2 392.0,339.0 391.6,343.1 389.4,346.6 387.0,348.8 386.9,352.8 384.3,356.3 387.2,359.6 389.5,361.5 388.1,365.4 387.8,370.7"/>
<polyline points="438.5,603.5 439.7,598.2 437.3,594.1 437.4,590.4 438.5,587.0 436.4,583.9 437.0,579.8 435.9,575.1 438.9,573.0 443.3,573.3 447.4,571.6 450.7,571.9 449.7,568.9 452.1,564.3 449.5,561.7 452.4,558.1 451.3,554.1 450.9,550.9"/>
<polyline points="438.5,603.5 439.1,607.4 442.3,611.4 444.4,618.0 448.6,622.7 443.3,627.2 443.0,631.7 441.2,635.3 440.1,640.3 440.5,644.7 440.5,647.6 440.0,651.2 441.2,654.8 439.3,659.9 436.6,663.5"/>
<polyline points="514.0,354.2 511.3,350.3 506.6,348.4 502.4,348.6 498.5,351.0 493.9,352.3 490.3,353.0 485.8,354.5 481.1,356.8 477.1,356.3 472.8,355.0 471.8,351.9 468.4,349.4 465.4,347.1 463.3,344.4 462.5,341.4 459.9,338.2 460.0,333.6 458.2,331.4 456.7,327.2 455.6,325.2 452.8,322.1 449.1,324.7 444.4,327.4 440.1,324.7 440.7,320.2 441.3,317.1 440.8,313.3 443.7,308.4 444.3,306.0 442.9,301.5 444.4,297.1 440.9,295.3 436.7,292.8 432.8,290.5 430.2,287.8 427.7,286.2 425.3,282.3 422.5,280.2 417.3,279.0 415.9,276.1 414.3,272.9 413.2,267.5 408.9,265.1 408.5,261.6 407.3,258.4 407.4,253.5 408.9,250.2 409.2,246.9 407.1,243.5 407.7,238.9 408.5,235.3"/>
<polyline points="778.6,393.1 782.0,395.6 786.5,397.9 791.3,398.4 794.9,397.4 797.7,396.2 801.8,396.5 805.8,398.0 809.9,400.8 814.5,402.3 818.1,403.9 821.9,406.5"/>
<polyline points="747.0,615.1 750.4,617.3 753.3,619.3 757.1,620.6 760.4,622.4 763.9,621.9 768.0,622.1 772.2,624.3 776.5,625.9 780.3,627.5 783.3,626.1 787.1,626.4 789.5,629.4 790.2,633.0 793.4,635.0 797.9,634.5 801.6,635.8 806.1,636.4 810.3,634.1 814.6,634.0 818.7,633.7 823.1,634.9 827.7,634.8 830.9,632.0 835.6,633.2 839.9,633.0 844.3,630.2 848.2,631.1 851.7,633.5 855.3,635.0 859.0,637.1 863.4,639.3"/>
<polyline points="872.7,682.7 875.7,685.0 878.7,688.8 877.7,692.1 879.8,696.1 880.6,701.1 883.0,704.0 882.8,708.1 881.5,711.3 880.9,715.3 879.9,719.2 879.4,723.9 878.8,727.1 877.7,730.2 878.1,735.8 876.4,739.0 876.7,742.9"/>
<polyline points="913.6,294.5 909.6,297.1 910.4,300.3 909.1,304.3 909.2,308.0 909.6,312.4 904.3,313.4 901.0,316.8 899.9,321.0 897.2,326.0 899.2,329.9 902.0,331.3 901.9,334.3 899.0,338.6 899.9,341.8 898.9,347.1 901.9,348.8 906.1,352.5 909.4,353.7 913.8,355.6 917.8,358.9 920.9,363.1 924.1,366.2 928.4,368.1 930.5,372.5 929.7,376.8 931.5,380.0"/>
<polyline points="932.2,380.0 931.7,383.3 934.9,386.1 934.7,390.5 933.3,394.9 933.7,398.4 936.3,401.6 940.0,402.4 943.1,403.6 944.2,406.2 946.7,408.9 949.3,410.2 950.8,415.3 953.7,416.8 954.7,422.0 951.1,426.4 950.5,431.2 946.3,432.6 943.2,433.0 938.9,433.2 935.8,435.2 934.7,440.4 935.4,444.6 937.9,447.0 935.4,450.8 934.7,454.9 928.4,457.5 928.0,462.0"/>
<polyline points="928.0,462.0 926.1,467.0 926.3,472.0 926.9,475.5 929.4,479.9 932.6,483.5 935.8,485.7 939.4,488.1 942.1,491.7 943.0,497.0 944.2,500.9 948.9,501.4 953.7,501.5 954.1,508.0 953.4,512.4 952.5,515.1 950.5,519.3 953.6,522.1 956.1,525.3 960.0,527.2 962.2,530.9 965.2,533.7 968.5,537.8 968.5,543.0 970.8,545.4 973.6,548.1 976.3,551.4"/>
<polyline points="976.3,551.4 976.0,554.5 974.4,557.7 972.7,561.4 968.5,564.0 967.4,570.6 966.4,573.5 964.2,577.2 962.3,581.2 960.8,585.7 959.7,590.4 956.9,593.0 956.6,596.4 955.8,600.9 951.6,603.5 950.4,606.8 949.7,611.1 946.4,613.3 945.3,616.7 942.1,620.4 940.3,623.8 937.9,627.2 935.3,630.9 936.9,633.9 934.7,637.7 933.0,641.4 935.4,644.8 934.0,648.7 933.8,652.2 932.6,656.1 934.1,660.3 935.1,664.0 936.8,666.6 938.9,673.2 938.1,677.4 933.1,679.9 932.5,684.0 929.4,687.7 928.4,694.2 926.0,698.3 925.7,701.7 924.4,705.3 924.2,708.7 928.3,708.5 932.0,709.1 934.6,710.0 938.3,708.7 941.8,707.5 945.5,710.2 949.2,707.5 953.3,709.1 956.6,708.2 960.8,707.9 963.6,708.7 962.4,713.8 961.1,717.9 962.4,723.4 965.7,727.1 967.8,730.3"/>
<polyline points="1122.4,720.0 1125.6,725.3 1126.6,719.2 1127.7,713.2 1130.5,714.7 1134.9,714.0 1138.2,716.3"/>
<polyline points="1103.4,603.5 1099.9,606.3 1098.2,611.4 1100.6,614.1 1103.2,616.6 1106.4,616.8 1109.8,619.3 1112.1,622.8 1111.8,625.8 1114.1,628.4 1116.7,631.3 1119.4,633.8 1120.1,637.9 1122.4,640.3 1127.7,644.3 1130.1,646.4 1134.1,649.7 1134.7,653.2 1137.2,656.1 1138.0,658.9 1139.6,663.7 1139.3,666.6 1141.4,670.0 1141.6,674.4 1144.6,677.1 1149.8,681.6"/>
<polyline points="1077.7,603.8 1079.4,600.6 1082.9,597.1 1083.4,593.0 1088.0,591.5 1091.1,588.6 1095.0,588.5 1097.0,585.6 1100.7,582.8 1104.9,581.9 1106.6,578.5 1109.5,576.8 1114.0,575.9 1117.3,574.8 1121.7,575.0 1125.6,574.6 1126.2,571.1 1130.7,568.5 1130.6,563.7 1133.4,561.7"/>
<polyline points="976.3,551.4 980.1,545.6 984.4,546.2 987.4,549.1 988.9,544.0 990.6,540.4 994.4,539.4 998.0,537.8 999.9,534.3 999.0,529.9 1004.1,529.0 1008.5,525.9 1012.5,528.0 1015.4,529.5 1019.1,529.9 1022.1,530.1 1026.6,527.7 1029.6,527.2 1033.3,524.6 1035.9,520.7 1040.3,521.7 1044.4,524.6 1045.5,521.5 1047.5,517.5 1051.3,514.3 1052.3,510.4 1054.9,506.2 1058.5,504.8 1062.1,503.4 1066.5,503.6 1066.4,499.2 1067.2,495.7 1073.9,495.7 1075.6,499.8 1080.2,503.6 1084.7,504.0 1087.4,504.6 1090.8,507.5 1094.5,507.2 1098.4,505.5 1101.2,506.7 1105.5,505.4 1107.7,508.5 1111.3,510.9 1114.0,513.6"/>
<polyline points="1114.0,513.6 1113.9,517.3 1114.0,520.7 1117.0,524.9 1117.7,529.3 1120.3,532.5 1124.3,534.8 1127.3,536.7 1123.6,538.8 1122.0,542.8 1117.0,543.3 1115.0,547.4 1111.9,549.6 1109.2,552.4 1104.6,552.7 1101.1,556.2 1098.1,557.4 1095.2,560.7 1091.2,561.4"/>
<polyline points="999.0,529.9 998.2,526.7 1000.0,523.4 1001.1,519.3 1004.2,517.0 1005.8,512.4 1008.9,509.6 1010.6,504.9 1010.0,501.2 1009.5,497.8 1010.0,493.7 1010.0,489.1"/>
<polyline points="949.0,299.2 951.3,303.4 955.4,305.3 959.9,305.3 963.1,306.9 966.0,306.3 969.9,310.3 973.6,308.1 976.9,310.5 983.2,313.4 986.5,313.9 990.6,313.8 994.1,314.7 998.0,316.8 998.4,320.7 1001.7,323.7 1004.1,327.8 1004.3,331.3 1006.5,334.8 1008.5,337.9"/>
<polyline points="821.9,380.0 819.7,382.7 818.9,386.4 818.7,390.5 818.7,394.4 820.0,398.7 822.7,402.5 821.9,406.5 824.0,410.0 824.0,414.1 824.4,418.0 825.8,420.7 827.8,423.5 829.3,427.3 830.5,430.3 830.7,434.5 833.5,437.8 833.5,441.4 834.5,445.4 834.5,448.3 835.0,453.0 836.2,456.7 839.2,460.1 840.9,465.4 844.8,468.2 845.9,472.0 848.1,474.0 851.8,476.3 854.6,478.6 852.4,482.1 850.3,485.1 851.8,488.6 855.6,490.8 857.4,493.3 860.9,495.1 860.7,499.2 860.3,503.0 860.6,505.9 860.4,510.0 860.1,513.7 860.5,517.8 861.3,521.0 861.9,524.8 861.6,528.8 861.6,532.1 860.8,536.7 861.2,539.8 860.2,543.8 859.1,547.3 860.5,550.9"/>
<polyline points="805.4,235.3 805.8,239.8 806.7,244.3 807.1,248.5 808.1,251.8 809.8,254.4 809.3,258.1 810.2,262.2 812.2,265.7 812.9,268.5 813.4,272.1 812.7,275.8 813.8,278.7 813.6,282.9 815.3,287.0 814.5,290.5 815.8,294.0 816.7,298.0 818.0,302.7 818.7,306.3 820.7,311.5 819.6,315.8 817.0,318.7 816.3,322.5 813.4,324.7 817.4,326.3 819.8,330.1 821.9,332.6 823.2,336.2 821.6,340.6 822.0,343.4 821.8,347.6 821.2,350.6 821.2,354.4 821.2,358.1 823.0,361.2 820.4,364.6 821.6,369.5 822.2,373.2 821.8,377.0 821.9,380.0"/>
<polyline points="1157.8,455.2 1155.1,461.5 1155.6,465.4 1153.4,467.6 1153.9,472.8 1152.1,474.9 1150.9,478.6 1147.6,481.4 1146.1,484.8 1143.7,487.4 1141.4,489.1 1138.3,490.4 1134.8,492.0 1131.9,495.7 1129.8,500.9 1128.2,504.6 1124.3,504.6 1122.4,508.8 1117.2,510.1 1114.0,513.6"/>
<polyline points="1265.8,477.3 1269.4,476.7 1272.1,473.3 1275.4,471.1 1279.5,468.1 1275.7,466.2 1273.2,461.5 1272.2,458.4 1270.0,454.9 1272.1,448.3 1274.9,445.3 1276.1,443.0 1277.3,438.8 1280.6,436.2 1276.1,433.0 1273.2,429.9 1271.7,426.1 1268.2,423.6 1266.9,419.4"/>
<polyline points="1280.6,436.2 1284.2,438.6 1288.2,439.7 1290.7,443.4 1293.6,444.0 1297.5,445.7 1295.6,448.8 1295.3,453.6"/>
<polyline points="1327.8,400.2 1328.2,396.8 1329.3,392.3 1329.2,389.8 1329.1,385.2 1329.8,381.2 1333.8,377.7 1334.0,373.2 1335.4,369.4 1334.7,365.0 1336.5,361.5 1339.9,359.6 1343.1,356.0 1347.0,353.7 1348.8,349.5 1346.3,344.1 1348.1,340.2"/>
<polyline points="1364.5,391.3 1361.0,387.3 1359.0,383.4 1357.6,379.6 1358.5,374.5 1358.2,370.8 1358.6,366.8 1357.2,363.6 1358.9,359.1 1358.8,355.5 1357.9,352.1 1356.8,348.6 1356.4,344.1 1357.6,339.8 1357.5,335.9 1356.9,332.6"/>
<polyline points="1254.2,525.9 1257.7,525.1 1262.4,526.0 1265.8,523.6 1269.0,523.8"/>
<polyline points="1179.8,479.4 1179.8,483.9 1178.9,489.0 1179.8,493.0 1182.2,490.2 1185.6,488.4 1187.8,485.9 1192.4,485.4 1195.2,482.5 1201.5,483.8 1206.8,480.4 1211.0,482.7 1215.2,482.5 1216.7,485.7 1216.9,489.9 1220.4,491.5 1221.5,495.1 1225.8,496.5 1229.5,500.1 1231.2,503.6"/>
<polyline points="1216.9,489.9 1212.9,489.3 1207.6,486.8 1203.6,487.8 1200.5,491.1 1200.2,495.6 1198.2,498.3 1195.1,500.7 1192.6,504.3 1189.6,507.3 1187.9,511.3 1183.6,513.6 1179.5,511.3 1176.2,509.6 1174.0,512.5 1171.4,516.4 1170.7,519.6 1168.0,523.8 1167.8,527.7 1164.4,530.7 1163.6,534.2 1162.5,537.8 1158.2,540.8 1153.7,540.6 1149.8,543.0 1145.6,542.6 1142.9,544.3 1139.3,541.0 1135.0,540.5 1130.7,540.0 1127.3,536.7"/>
<polyline points="267.2,259.0 268.5,262.6 270.4,265.5 267.8,267.6 265.3,269.1 263.0,272.1 261.8,275.4 259.8,277.9 265.1,276.9 266.0,272.7 268.3,269.5"/>
<polyline points="270.4,253.7 268.3,257.7 271.4,261.6 274.6,262.9"/>
<polyline points="272.5,268.2 273.0,272.1 271.4,276.1 268.3,280.0 265.1,282.6 269.3,280.0"/>
<polyline points="264.0,244.5 260.9,247.1 265.1,249.8 266.2,245.8 264.0,244.5"/>
<polyline points="274.6,273.4 272.5,277.4 274.6,280.0"/>
<polyline points="272.5,529.9 275.6,527.2 278.8,531.2 279.6,534.3 282.0,537.8 278.8,535.1 276.2,532.8 274.6,529.9"/>
<polyline points="273.5,523.3 277.8,522.0 283.0,523.3"/>
<polyline points="1245.8,535.1 1243.3,533.1 1240.9,531.6 1238.4,529.9 1235.8,526.7 1234.0,524.4 1232.1,520.7"/>
<polyline points="1246.8,543.0 1244.0,539.4 1240.5,537.8 1237.8,536.6 1235.7,533.6 1234.2,531.2"/>
<polyline points="1246.8,549.6 1244.0,548.4 1241.4,545.9 1238.4,545.6 1235.5,544.2 1231.2,544.1 1227.9,543.0"/>
<polyline points="1252.1,519.3 1255.1,517.0 1256.3,514.1 1254.8,511.7 1251.1,510.1 1251.5,506.5 1254.2,503.6"/>
<polyline points="1247.9,502.2 1250.0,497.0 1248.9,491.7"/>
<polyline points="1255.3,571.9 1252.1,572.5 1248.1,572.6 1244.7,574.6 1241.5,576.1 1238.4,577.2 1242.9,578.5 1246.8,578.5 1250.8,579.3 1255.3,578.5"/>
<polyline points="1258.4,587.7 1255.2,589.8 1252.1,590.0 1248.9,593.0 1244.2,591.8 1240.5,591.7 1236.7,591.6 1232.1,590.4 1234.5,591.8 1238.3,593.6 1240.5,595.6 1244.7,598.2 1241.5,599.3 1239.3,601.0 1236.3,602.2 1239.7,602.3 1242.6,604.8"/>
<polyline points="1262.7,582.5 1259.8,580.0 1258.4,575.9 1256.4,573.2 1256.3,568.5 1254.2,565.4"/>
<polyline points="949.5,732.4 952.5,730.4 953.0,727.6 955.8,725.8 958.6,727.5 962.1,729.7 959.2,732.7 955.8,733.7 952.3,733.4 949.5,732.4"/>
<polyline points="960.0,737.6 963.8,736.6 966.3,735.0 969.9,735.4 972.7,733.7"/>
<polyline points="854.6,752.1 854.1,747.8 851.4,744.2 855.6,741.6"/>
<polyline points="825.0,775.8 822.9,773.1 818.7,771.8 820.4,775.3 820.8,778.4"/>
<polyline points="808.2,791.5 804.5,792.3 801.8,791.5 804.0,796.8"/>
<polyline points="1111.9,798.1 1114.2,795.6 1116.1,792.9 1114.0,788.9 1115.0,792.5 1117.1,794.2"/>
<polyline points="1122.4,820.5 1124.2,817.4 1125.6,815.2 1125.5,818.3 1124.9,821.1 1123.5,824.4"/>
<polyline points="1361.8,436.5 1365.2,436.2 1369.2,435.2 1367.1,433.9"/>
<polyline points="1374.4,437.8 1379.7,437.8 1378.7,439.1"/>
<polyline points="1051.8,345.8 1052.1,342.2 1052.8,339.2"/>
</g>
<g font-family="'Liberation Sans',sans-serif" fill="#000" text-anchor="middle">
<text x="837" y="57" font-size="33.55" font-weight="bold">Spodoptera litura: Earliest date of 1st gen. egg laying w/</text>
<text x="837" y="97" font-size="33.55" font-weight="bold">climate stress exclusion 2025</text>
<text x="837" y="147.7" font-size="27.1">Maps and modeling 11/17/2025 by Oregon State University IPPC USPEST.ORG and</text>
<text x="837" y="180.7" font-size="27.1">USDA-APHIS-PPQ; climate data from OSU PRISM Climate Group</text>
</g>
<g font-family="'Liberation Sans',sans-serif" fill="#000" font-size="25.8" font-weight="bold">
<text x="1487" y="336.4">Earliest date</text>
<text x="1487" y="364.5">of 1st gen. egg</text>
<text x="1487" y="392.6">laying</text>
</g>
<g font-family="'DejaVu Sans',sans-serif" font-size="20" letter-spacing="0.95" fill="#000">
<rect x="1487.0" y="407" width="25" height="25" fill="#4d4d4d"/>
<text x="1523.0" y="426.7">excl.-sev.</text>
<rect x="1487.0" y="432" width="25" height="26" fill="#B3FFC0"/>
<text x="1523.0" y="452.1">Mar-02</text>
<rect x="1487.0" y="458" width="25" height="25" fill="#90D296"/>
<text x="1523.0" y="477.6">Mar-09</text>
<rect x="1487.0" y="483" width="25" height="26" fill="#66A86B"/>
<text x="1523.0" y="503.0">Mar-16</text>
<rect x="1487.0" y="509" width="25" height="25" fill="#3C7A3F"/>
<text x="1523.0" y="528.4">Mar-23</text>
<rect x="1487.0" y="534" width="25" height="26" fill="#165016"/>
<text x="1523.0" y="553.9">Mar-30</text>
<rect x="1487.0" y="560" width="25" height="25" fill="#CCFF00"/>
<text x="1523.0" y="579.3">Apr-06</text>
<rect x="1487.0" y="585" width="25" height="25" fill="#A6ED00"/>
<text x="1523.0" y="604.7">Apr-13</text>
<rect x="1487.0" y="610" width="25" height="26" fill="#80E000"/>
<text x="1523.0" y="630.1">Apr-20</text>
<rect x="1487.0" y="636" width="25" height="25" fill="#4FD00A"/>
<text x="1523.0" y="655.6">Apr-27</text>
<rect x="1487.0" y="661" width="25" height="26" fill="#FFFF00"/>
<text x="1523.0" y="681.0">May-04</text>
<rect x="1487.0" y="687" width="25" height="25" fill="#E0D800"/>
<text x="1523.0" y="706.4">May-11</text>
<rect x="1487.0" y="712" width="25" height="26" fill="#BDB000"/>
<text x="1523.0" y="731.9">May-18</text>
<rect x="1487.0" y="738" width="25" height="25" fill="#998509"/>
<text x="1523.0" y="757.3">May-25</text>
<rect x="1487.0" y="763" width="25" height="25" fill="#FFD68F"/>
<text x="1523.0" y="782.7">Jun-01</text>
<rect x="1635.0" y="407" width="25" height="25" fill="#FFBF70"/>
<text x="1671.0" y="426.7">Jun-08</text>
<rect x="1635.0" y="432" width="25" height="26" fill="#FCAB52"/>
<text x="1671.0" y="452.1">Jun-15</text>
<rect x="1635.0" y="458" width="25" height="25" fill="#FC9633"/>
<text x="1671.0" y="477.6">Jun-22</text>
<rect x="1635.0" y="483" width="25" height="26" fill="#FC8214"/>
<text x="1671.0" y="503.0">Jun-29</text>
<rect x="1635.0" y="509" width="25" height="25" fill="#F2CBCB"/>
<text x="1671.0" y="528.4">Jul-06</text>
<rect x="1635.0" y="534" width="25" height="26" fill="#F29999"/>
<text x="1671.0" y="553.9">Jul-13</text>
<rect x="1635.0" y="560" width="25" height="25" fill="#F76666"/>
<text x="1671.0" y="579.3">Jul-20</text>
<rect x="1635.0" y="585" width="25" height="25" fill="#FA3333"/>
<text x="1671.0" y="604.7">Jul-27</text>
<rect x="1635.0" y="610" width="25" height="26" fill="#E6B5AD"/>
<text x="1671.0" y="630.1">Aug-03</text>
<rect x="1635.0" y="636" width="25" height="25" fill="#CC8F85"/>
<text x="1671.0" y="655.6">Aug-10</text>
<rect x="1635.0" y="661" width="25" height="26" fill="#B56B5E"/>
<text x="1671.0" y="681.0">Aug-17</text>
<rect x="1635.0" y="687" width="25" height="25" fill="#9C4736"/>
<text x="1671.0" y="706.4">Aug-24</text>
<rect x="1635.0" y="712" width="25" height="26" fill="#85210F"/>
<text x="1671.0" y="731.9">Aug-31</text>
<rect x="1635.0" y="738" width="25" height="25" fill="#FFADD6"/>
<text x="1671.0" y="757.3">Sep-07</text>
<rect x="1635.0" y="763" width="25" height="25" fill="#FF85E0"/>
<text x="1671.0" y="782.7">Sep-14</text>
<rect x="1759.0" y="407" width="25" height="25" fill="#FF57E8"/>
<text x="1795.0" y="426.7">Sep-21</text>
<rect x="1759.0" y="432" width="25" height="26" fill="#FF2EF0"/>
<text x="1795.0" y="452.1">Sep-28</text>
<rect x="1759.0" y="458" width="25" height="25" fill="#DEBDE6"/>
<text x="1795.0" y="477.6">Oct-05</text>
<rect x="1759.0" y="483" width="25" height="26" fill="#C994D6"/>
<text x="1795.0" y="503.0">Oct-12</text>
<rect x="1759.0" y="509" width="25" height="25" fill="#B36BC7"/>
<text x="1795.0" y="528.4">Oct-19</text>
<rect x="1759.0" y="534" width="25" height="26" fill="#9E45B8"/>
<text x="1795.0" y="553.9">Oct-26</text>
<rect x="1759.0" y="560" width="25" height="25" fill="#B3EDFF"/>
<text x="1795.0" y="579.3">Nov-02</text>
<rect x="1759.0" y="585" width="25" height="25" fill="#87D4F0"/>
<text x="1795.0" y="604.7">Nov-09</text>
<rect x="1759.0" y="610" width="25" height="26" fill="#5CBAE6"/>
<text x="1795.0" y="630.1">Nov-16</text>
<rect x="1759.0" y="636" width="25" height="25" fill="#2EA3D9"/>
<text x="1795.0" y="655.6">Nov-23</text>
<rect x="1759.0" y="661" width="25" height="26" fill="#A1C4E8"/>
<text x="1795.0" y="681.0">Dec-01</text>
<rect x="1759.0" y="687" width="25" height="25" fill="#788FE8"/>
<text x="1795.0" y="706.4">Dec-08</text>
<rect x="1759.0" y="712" width="25" height="26" fill="#4F5EF0"/>
<text x="1795.0" y="731.9">Dec-16</text>
<rect x="1759.0" y="738" width="25" height="25" fill="#2B2BF7"/>
<text x="1795.0" y="757.3">Dec-22</text>
</g>
</svg></body></html>
